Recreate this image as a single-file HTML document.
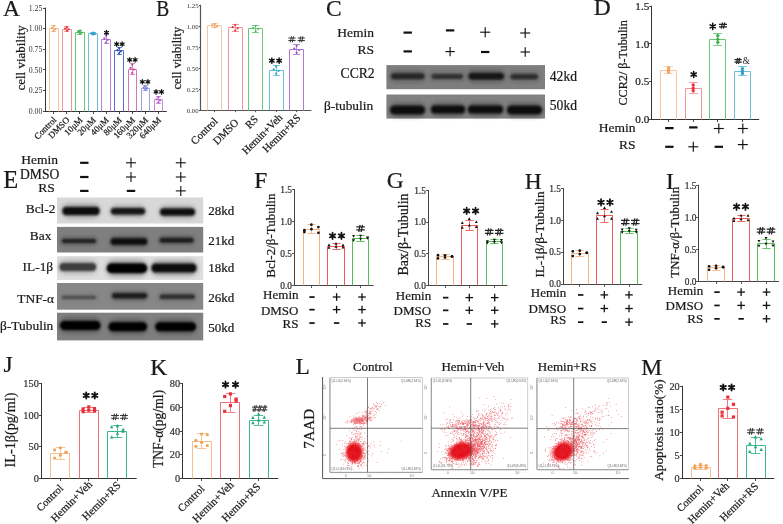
<!DOCTYPE html><html><head><meta charset="utf-8"><style>html,body{margin:0;padding:0;background:#fff;overflow:hidden;}svg{display:block;will-change:transform;} text.t{stroke:currentColor;stroke-width:0.22px;}</style></head><body>
<svg width="783" height="524" viewBox="0 0 783 524" font-family="'Liberation Serif', serif">
<defs><filter id="bl" x="-20%" y="-100%" width="140%" height="300%"><feGaussianBlur stdDeviation="1.3"/></filter><filter id="bl5" x="-20%" y="-100%" width="140%" height="300%"><feGaussianBlur stdDeviation="2"/></filter><filter id="bl3"><feGaussianBlur stdDeviation="0.6"/></filter><radialGradient id="coreg"><stop offset="0" stop-color="#e0000c"/><stop offset="0.6" stop-color="#e2060f"/><stop offset="0.8" stop-color="#ea2a30" stop-opacity="0.6"/><stop offset="1" stop-color="#ee4048" stop-opacity="0"/></radialGradient><filter id="bl4" x="-50%" y="-50%" width="200%" height="200%"><feGaussianBlur stdDeviation="1.5"/></filter></defs>
<rect width="783" height="524" fill="#fff"/>
<text class="t" x="3.05" y="15.70" font-size="23.5" text-anchor="start" fill="#1a1a1a" color="#1a1a1a">A</text>
<line x1="45.50" y1="7.60" x2="45.50" y2="112.00" stroke="#333" stroke-width="1.0"/>
<line x1="45.00" y1="111.50" x2="166.80" y2="111.50" stroke="#333" stroke-width="1.0"/>
<line x1="43.00" y1="111.50" x2="45.50" y2="111.50" stroke="#333" stroke-width="0.9"/>
<text x="42.30" y="113.75" font-size="7.8" text-anchor="end" fill="#333" color="#333">0.00</text>
<line x1="43.00" y1="90.50" x2="45.50" y2="90.50" stroke="#333" stroke-width="0.9"/>
<text x="42.30" y="93.15" font-size="7.8" text-anchor="end" fill="#333" color="#333">0.25</text>
<line x1="43.00" y1="69.50" x2="45.50" y2="69.50" stroke="#333" stroke-width="0.9"/>
<text x="42.30" y="72.55" font-size="7.8" text-anchor="end" fill="#333" color="#333">0.50</text>
<line x1="43.00" y1="49.50" x2="45.50" y2="49.50" stroke="#333" stroke-width="0.9"/>
<text x="42.30" y="51.95" font-size="7.8" text-anchor="end" fill="#333" color="#333">0.75</text>
<line x1="43.00" y1="28.50" x2="45.50" y2="28.50" stroke="#333" stroke-width="0.9"/>
<text x="42.30" y="31.35" font-size="7.8" text-anchor="end" fill="#333" color="#333">1.00</text>
<line x1="43.00" y1="8.50" x2="45.50" y2="8.50" stroke="#333" stroke-width="0.9"/>
<text x="42.30" y="10.75" font-size="7.8" text-anchor="end" fill="#333" color="#333">1.25</text>
<path d="M49.5 111.5V28.5H58.5V111.5" fill="none" stroke="#F8C6A0" stroke-width="1.0"/>
<line x1="53.50" y1="111.50" x2="53.50" y2="114.00" stroke="#333" stroke-width="0.9"/>
<line x1="53.50" y1="32.00" x2="53.50" y2="25.40" stroke="#F8C6A0" stroke-width="0.9"/>
<line x1="50.98" y1="25.50" x2="56.02" y2="25.50" stroke="#F8C6A0" stroke-width="0.9"/>
<line x1="50.98" y1="31.50" x2="56.02" y2="31.50" stroke="#F8C6A0" stroke-width="0.9"/>
<circle cx="53.80" cy="26.06" r="1.15" fill="#F3A15C"/>
<circle cx="52.12" cy="28.04" r="1.15" fill="#F3A15C"/>
<circle cx="55.48" cy="29.03" r="1.15" fill="#F3A15C"/>
<circle cx="53.80" cy="31.01" r="1.15" fill="#F3A15C"/>
<path d="M62.5 111.5V29.5H71.5V111.5" fill="none" stroke="#F29499" stroke-width="1.0"/>
<line x1="66.50" y1="111.50" x2="66.50" y2="114.00" stroke="#333" stroke-width="0.9"/>
<line x1="66.50" y1="31.58" x2="66.50" y2="26.64" stroke="#F29499" stroke-width="0.9"/>
<line x1="63.98" y1="26.50" x2="69.02" y2="26.50" stroke="#F29499" stroke-width="0.9"/>
<line x1="63.98" y1="31.50" x2="69.02" y2="31.50" stroke="#F29499" stroke-width="0.9"/>
<circle cx="66.88" cy="27.13" r="1.15" fill="#E8353F"/>
<circle cx="65.19" cy="28.62" r="1.15" fill="#E8353F"/>
<circle cx="68.56" cy="29.36" r="1.15" fill="#E8353F"/>
<circle cx="66.88" cy="30.84" r="1.15" fill="#E8353F"/>
<path d="M75.5 111.5V32.5H84.5V111.5" fill="none" stroke="#6CC878" stroke-width="1.0"/>
<line x1="79.50" y1="111.50" x2="79.50" y2="114.00" stroke="#333" stroke-width="0.9"/>
<line x1="79.50" y1="34.47" x2="79.50" y2="30.35" stroke="#6CC878" stroke-width="0.9"/>
<line x1="76.98" y1="30.50" x2="82.02" y2="30.50" stroke="#6CC878" stroke-width="0.9"/>
<line x1="76.98" y1="34.50" x2="82.02" y2="34.50" stroke="#6CC878" stroke-width="0.9"/>
<circle cx="79.95" cy="30.76" r="1.15" fill="#3CB44B"/>
<circle cx="78.27" cy="32.00" r="1.15" fill="#3CB44B"/>
<circle cx="81.63" cy="32.61" r="1.15" fill="#3CB44B"/>
<circle cx="79.95" cy="33.85" r="1.15" fill="#3CB44B"/>
<path d="M88.5 111.5V33.5H97.5V111.5" fill="none" stroke="#6CBEDA" stroke-width="1.0"/>
<line x1="93.50" y1="111.50" x2="93.50" y2="114.00" stroke="#333" stroke-width="0.9"/>
<line x1="93.50" y1="34.88" x2="93.50" y2="32.41" stroke="#6CBEDA" stroke-width="0.9"/>
<line x1="90.98" y1="32.50" x2="96.02" y2="32.50" stroke="#6CBEDA" stroke-width="0.9"/>
<line x1="90.98" y1="34.50" x2="96.02" y2="34.50" stroke="#6CBEDA" stroke-width="0.9"/>
<circle cx="93.02" cy="32.66" r="1.15" fill="#2FA3C8"/>
<circle cx="91.34" cy="33.40" r="1.15" fill="#2FA3C8"/>
<circle cx="94.70" cy="33.77" r="1.15" fill="#2FA3C8"/>
<circle cx="93.02" cy="34.51" r="1.15" fill="#2FA3C8"/>
<path d="M101.5 111.5V39.5H110.5V111.5" fill="none" stroke="#B884D3" stroke-width="1.0"/>
<line x1="106.50" y1="111.50" x2="106.50" y2="114.00" stroke="#333" stroke-width="0.9"/>
<line x1="106.50" y1="43.94" x2="106.50" y2="34.88" stroke="#B884D3" stroke-width="0.9"/>
<line x1="103.98" y1="34.50" x2="109.02" y2="34.50" stroke="#B884D3" stroke-width="0.9"/>
<line x1="103.98" y1="43.50" x2="109.02" y2="43.50" stroke="#B884D3" stroke-width="0.9"/>
<circle cx="106.10" cy="35.79" r="1.15" fill="#A45BC4"/>
<circle cx="104.42" cy="38.51" r="1.15" fill="#A45BC4"/>
<circle cx="107.78" cy="39.87" r="1.15" fill="#A45BC4"/>
<circle cx="106.10" cy="42.58" r="1.15" fill="#A45BC4"/>
<path d="M114.5 111.5V50.5H123.5V111.5" fill="none" stroke="#5A73C8" stroke-width="1.0"/>
<line x1="119.50" y1="111.50" x2="119.50" y2="114.00" stroke="#333" stroke-width="0.9"/>
<line x1="119.50" y1="54.41" x2="119.50" y2="47.49" stroke="#5A73C8" stroke-width="0.9"/>
<line x1="116.98" y1="47.50" x2="122.02" y2="47.50" stroke="#5A73C8" stroke-width="0.9"/>
<line x1="116.98" y1="54.50" x2="122.02" y2="54.50" stroke="#5A73C8" stroke-width="0.9"/>
<circle cx="119.17" cy="48.18" r="1.15" fill="#2E4FB5"/>
<circle cx="117.49" cy="50.26" r="1.15" fill="#2E4FB5"/>
<circle cx="120.86" cy="51.29" r="1.15" fill="#2E4FB5"/>
<circle cx="119.17" cy="53.37" r="1.15" fill="#2E4FB5"/>
<path d="M128.5 111.5V69.5H136.5V111.5" fill="none" stroke="#D677B8" stroke-width="1.0"/>
<line x1="132.50" y1="111.50" x2="132.50" y2="114.00" stroke="#333" stroke-width="0.9"/>
<line x1="132.50" y1="74.43" x2="132.50" y2="63.72" stroke="#D677B8" stroke-width="0.9"/>
<line x1="129.98" y1="63.50" x2="135.02" y2="63.50" stroke="#D677B8" stroke-width="0.9"/>
<line x1="129.98" y1="74.50" x2="135.02" y2="74.50" stroke="#D677B8" stroke-width="0.9"/>
<circle cx="132.25" cy="64.79" r="1.15" fill="#C8469E"/>
<circle cx="130.57" cy="68.00" r="1.15" fill="#C8469E"/>
<circle cx="133.93" cy="69.61" r="1.15" fill="#C8469E"/>
<circle cx="132.25" cy="72.83" r="1.15" fill="#C8469E"/>
<path d="M141.5 111.5V88.5H149.5V111.5" fill="none" stroke="#9DA1E2" stroke-width="1.0"/>
<line x1="145.50" y1="111.50" x2="145.50" y2="114.00" stroke="#333" stroke-width="0.9"/>
<line x1="145.50" y1="90.34" x2="145.50" y2="85.72" stroke="#9DA1E2" stroke-width="0.9"/>
<line x1="142.98" y1="85.50" x2="148.02" y2="85.50" stroke="#9DA1E2" stroke-width="0.9"/>
<line x1="142.98" y1="90.50" x2="148.02" y2="90.50" stroke="#9DA1E2" stroke-width="0.9"/>
<circle cx="145.32" cy="86.18" r="1.15" fill="#7A80D8"/>
<circle cx="143.64" cy="87.57" r="1.15" fill="#7A80D8"/>
<circle cx="147.00" cy="88.26" r="1.15" fill="#7A80D8"/>
<circle cx="145.32" cy="89.64" r="1.15" fill="#7A80D8"/>
<path d="M154.5 111.5V99.5H162.5V111.5" fill="none" stroke="#C78AD8" stroke-width="1.0"/>
<line x1="158.50" y1="111.50" x2="158.50" y2="114.00" stroke="#333" stroke-width="0.9"/>
<line x1="158.50" y1="103.44" x2="158.50" y2="96.52" stroke="#C78AD8" stroke-width="0.9"/>
<line x1="155.98" y1="96.50" x2="161.02" y2="96.50" stroke="#C78AD8" stroke-width="0.9"/>
<line x1="155.98" y1="103.50" x2="161.02" y2="103.50" stroke="#C78AD8" stroke-width="0.9"/>
<circle cx="158.40" cy="97.21" r="1.15" fill="#B15FC9"/>
<circle cx="156.72" cy="99.28" r="1.15" fill="#B15FC9"/>
<circle cx="160.08" cy="100.32" r="1.15" fill="#B15FC9"/>
<circle cx="158.40" cy="102.40" r="1.15" fill="#B15FC9"/>
<text class="t" x="25.50" y="57.90" font-size="13" text-anchor="middle" fill="#1a1a1a" color="#1a1a1a" transform="rotate(-90 25.50 57.90)">cell viability</text>
<text class="t" x="57.10" y="120.50" font-size="9" text-anchor="end" fill="#1a1a1a" color="#1a1a1a" transform="rotate(-45 57.10 120.50)">Control</text>
<text class="t" x="70.17" y="120.50" font-size="9" text-anchor="end" fill="#1a1a1a" color="#1a1a1a" transform="rotate(-45 70.17 120.50)">DMSO</text>
<text class="t" x="83.25" y="120.50" font-size="9" text-anchor="end" fill="#1a1a1a" color="#1a1a1a" transform="rotate(-45 83.25 120.50)">10μM</text>
<text class="t" x="96.32" y="120.50" font-size="9" text-anchor="end" fill="#1a1a1a" color="#1a1a1a" transform="rotate(-45 96.32 120.50)">20μM</text>
<text class="t" x="109.40" y="120.50" font-size="9" text-anchor="end" fill="#1a1a1a" color="#1a1a1a" transform="rotate(-45 109.40 120.50)">40μM</text>
<text class="t" x="122.47" y="120.50" font-size="9" text-anchor="end" fill="#1a1a1a" color="#1a1a1a" transform="rotate(-45 122.47 120.50)">80μM</text>
<text class="t" x="135.55" y="120.50" font-size="9" text-anchor="end" fill="#1a1a1a" color="#1a1a1a" transform="rotate(-45 135.55 120.50)">160μM</text>
<text class="t" x="148.62" y="120.50" font-size="9" text-anchor="end" fill="#1a1a1a" color="#1a1a1a" transform="rotate(-45 148.62 120.50)">320μM</text>
<text class="t" x="161.70" y="120.50" font-size="9" text-anchor="end" fill="#1a1a1a" color="#1a1a1a" transform="rotate(-45 161.70 120.50)">640μM</text>
<path d="M106.50 30.35L106.50 34.85M104.55 31.48L108.45 33.73M104.55 33.73L108.45 31.48" stroke="#111" stroke-width="1.25" stroke-linecap="round"/>
<path d="M116.65 41.85L116.65 46.35M114.70 42.98L118.60 45.23M114.70 45.23L118.60 42.98" stroke="#111" stroke-width="1.25" stroke-linecap="round"/>
<path d="M122.15 41.85L122.15 46.35M120.20 42.98L124.10 45.23M120.20 45.23L124.10 42.98" stroke="#111" stroke-width="1.25" stroke-linecap="round"/>
<path d="M129.65 57.55L129.65 62.05M127.70 58.67L131.60 60.92M127.70 60.92L131.60 58.67" stroke="#111" stroke-width="1.25" stroke-linecap="round"/>
<path d="M135.15 57.55L135.15 62.05M133.20 58.67L137.10 60.92M133.20 60.92L137.10 58.67" stroke="#111" stroke-width="1.25" stroke-linecap="round"/>
<path d="M142.35 79.55L142.35 84.05M140.40 80.67L144.30 82.92M140.40 82.92L144.30 80.67" stroke="#111" stroke-width="1.25" stroke-linecap="round"/>
<path d="M147.85 79.55L147.85 84.05M145.90 80.67L149.80 82.92M145.90 82.92L149.80 80.67" stroke="#111" stroke-width="1.25" stroke-linecap="round"/>
<path d="M156.05 89.65L156.05 94.15M154.10 90.78L158.00 93.03M154.10 93.03L158.00 90.78" stroke="#111" stroke-width="1.25" stroke-linecap="round"/>
<path d="M161.55 89.65L161.55 94.15M159.60 90.78L163.50 93.03M159.60 93.03L163.50 90.78" stroke="#111" stroke-width="1.25" stroke-linecap="round"/>
<text class="t" x="0.00" y="0.00" font-size="23.5" text-anchor="start" fill="#1a1a1a" color="#1a1a1a" transform="translate(156.20 15.70) scale(0.83 1)">B</text>
<line x1="200.50" y1="4.80" x2="200.50" y2="111.00" stroke="#555" stroke-width="1.2"/>
<line x1="200.00" y1="110.50" x2="311.40" y2="110.50" stroke="#555" stroke-width="1.2"/>
<line x1="198.90" y1="110.50" x2="200.50" y2="110.50" stroke="#555" stroke-width="1.08"/>
<text x="198.60" y="112.61" font-size="6.8" text-anchor="end" fill="#333" color="#333">0.00</text>
<line x1="198.90" y1="89.50" x2="200.50" y2="89.50" stroke="#555" stroke-width="1.08"/>
<text x="198.60" y="91.61" font-size="6.8" text-anchor="end" fill="#333" color="#333">0.25</text>
<line x1="198.90" y1="68.50" x2="200.50" y2="68.50" stroke="#555" stroke-width="1.08"/>
<text x="198.60" y="70.61" font-size="6.8" text-anchor="end" fill="#333" color="#333">0.50</text>
<line x1="198.90" y1="47.50" x2="200.50" y2="47.50" stroke="#555" stroke-width="1.08"/>
<text x="198.60" y="49.61" font-size="6.8" text-anchor="end" fill="#333" color="#333">0.75</text>
<line x1="198.90" y1="26.50" x2="200.50" y2="26.50" stroke="#555" stroke-width="1.08"/>
<text x="198.60" y="28.61" font-size="6.8" text-anchor="end" fill="#333" color="#333">1.00</text>
<line x1="198.90" y1="5.50" x2="200.50" y2="5.50" stroke="#555" stroke-width="1.08"/>
<text x="198.60" y="7.61" font-size="6.8" text-anchor="end" fill="#333" color="#333">1.25</text>
<path d="M207.5 110.5V25.5H221.5V110.5" fill="none" stroke="#F8C6A0" stroke-width="1.0"/>
<line x1="214.50" y1="110.50" x2="214.50" y2="112.10" stroke="#555" stroke-width="1.08"/>
<line x1="214.50" y1="27.98" x2="214.50" y2="23.78" stroke="#F8C6A0" stroke-width="0.9"/>
<line x1="211.00" y1="23.50" x2="218.00" y2="23.50" stroke="#F8C6A0" stroke-width="0.9"/>
<line x1="211.00" y1="27.50" x2="218.00" y2="27.50" stroke="#F8C6A0" stroke-width="0.9"/>
<circle cx="214.70" cy="24.20" r="1.15" fill="#F3A15C"/>
<circle cx="212.25" cy="25.46" r="1.15" fill="#F3A15C"/>
<circle cx="217.15" cy="26.09" r="1.15" fill="#F3A15C"/>
<circle cx="214.70" cy="27.35" r="1.15" fill="#F3A15C"/>
<path d="M228.5 110.5V27.5H242.5V110.5" fill="none" stroke="#F29499" stroke-width="1.0"/>
<line x1="235.50" y1="110.50" x2="235.50" y2="112.10" stroke="#555" stroke-width="1.08"/>
<line x1="235.50" y1="31.76" x2="235.50" y2="24.20" stroke="#F29499" stroke-width="0.9"/>
<line x1="232.00" y1="24.50" x2="239.00" y2="24.50" stroke="#F29499" stroke-width="0.9"/>
<line x1="232.00" y1="31.50" x2="239.00" y2="31.50" stroke="#F29499" stroke-width="0.9"/>
<circle cx="235.20" cy="24.96" r="1.15" fill="#E8353F"/>
<circle cx="232.75" cy="27.22" r="1.15" fill="#E8353F"/>
<circle cx="237.65" cy="28.36" r="1.15" fill="#E8353F"/>
<circle cx="235.20" cy="30.63" r="1.15" fill="#E8353F"/>
<path d="M248.5 110.5V28.5H262.5V110.5" fill="none" stroke="#6CC878" stroke-width="1.0"/>
<line x1="255.50" y1="110.50" x2="255.50" y2="112.10" stroke="#555" stroke-width="1.08"/>
<line x1="255.50" y1="32.60" x2="255.50" y2="25.04" stroke="#6CC878" stroke-width="0.9"/>
<line x1="252.00" y1="25.50" x2="259.00" y2="25.50" stroke="#6CC878" stroke-width="0.9"/>
<line x1="252.00" y1="32.50" x2="259.00" y2="32.50" stroke="#6CC878" stroke-width="0.9"/>
<path d="M255.70 27.18L256.96 24.88L254.44 24.88Z" fill="#3CB44B"/>
<path d="M253.25 29.44L254.51 27.14L251.99 27.14Z" fill="#3CB44B"/>
<path d="M258.15 30.58L259.41 28.28L256.88 28.28Z" fill="#3CB44B"/>
<path d="M255.70 32.85L256.96 30.55L254.44 30.55Z" fill="#3CB44B"/>
<path d="M269.5 110.5V70.5H283.5V110.5" fill="none" stroke="#6CBEDA" stroke-width="1.0"/>
<line x1="276.50" y1="110.50" x2="276.50" y2="112.10" stroke="#555" stroke-width="1.08"/>
<line x1="276.50" y1="75.02" x2="276.50" y2="65.78" stroke="#6CBEDA" stroke-width="0.9"/>
<line x1="273.00" y1="65.50" x2="280.00" y2="65.50" stroke="#6CBEDA" stroke-width="0.9"/>
<line x1="273.00" y1="75.50" x2="280.00" y2="75.50" stroke="#6CBEDA" stroke-width="0.9"/>
<circle cx="276.20" cy="66.70" r="1.15" fill="#2FA3C8"/>
<circle cx="273.75" cy="69.48" r="1.15" fill="#2FA3C8"/>
<circle cx="278.65" cy="70.86" r="1.15" fill="#2FA3C8"/>
<circle cx="276.20" cy="73.63" r="1.15" fill="#2FA3C8"/>
<path d="M289.5 110.5V49.5H303.5V110.5" fill="none" stroke="#B07AD2" stroke-width="1.0"/>
<line x1="296.50" y1="110.50" x2="296.50" y2="112.10" stroke="#555" stroke-width="1.08"/>
<line x1="296.50" y1="54.19" x2="296.50" y2="44.95" stroke="#B07AD2" stroke-width="0.9"/>
<line x1="293.00" y1="44.50" x2="300.00" y2="44.50" stroke="#B07AD2" stroke-width="0.9"/>
<line x1="293.00" y1="54.50" x2="300.00" y2="54.50" stroke="#B07AD2" stroke-width="0.9"/>
<circle cx="296.70" cy="45.87" r="1.15" fill="#9B59C4"/>
<circle cx="294.25" cy="48.64" r="1.15" fill="#9B59C4"/>
<circle cx="299.15" cy="50.03" r="1.15" fill="#9B59C4"/>
<circle cx="296.70" cy="52.80" r="1.15" fill="#9B59C4"/>
<text class="t" x="181.00" y="58.10" font-size="12.5" text-anchor="middle" fill="#1a1a1a" color="#1a1a1a" transform="rotate(-90 181.00 58.10)">cell viability</text>
<text class="t" x="218.40" y="121.80" font-size="10.8" text-anchor="end" fill="#1a1a1a" color="#1a1a1a" transform="rotate(-45 218.40 121.80)">Control</text>
<text class="t" x="239.20" y="123.30" font-size="10.8" text-anchor="end" fill="#1a1a1a" color="#1a1a1a" transform="rotate(-45 239.20 123.30)">DMSO</text>
<text class="t" x="258.80" y="119.80" font-size="10.8" text-anchor="end" fill="#1a1a1a" color="#1a1a1a" transform="rotate(-45 258.80 119.80)">RS</text>
<text class="t" x="283.10" y="118.10" font-size="10.8" text-anchor="end" fill="#1a1a1a" color="#1a1a1a" transform="rotate(-45 283.10 118.10)">Hemin+Veh</text>
<text class="t" x="301.20" y="118.60" font-size="10.8" text-anchor="end" fill="#1a1a1a" color="#1a1a1a" transform="rotate(-45 301.20 118.60)">Hemin+RS</text>
<path d="M271.85 58.00L271.85 63.40M269.51 59.35L274.19 62.05M269.51 62.05L274.19 59.35" stroke="#111" stroke-width="1.40" stroke-linecap="round"/>
<path d="M279.15 58.00L279.15 63.40M276.81 59.35L281.49 62.05M276.81 62.05L281.49 59.35" stroke="#111" stroke-width="1.40" stroke-linecap="round"/>
<path d="M288.35 38.04H295.55M288.35 40.56H295.55M291.52 36.30L290.37 42.30M293.53 36.30L292.38 42.30" stroke="#333" stroke-width="1.0" fill="none"/>
<path d="M297.65 38.04H304.85M297.65 40.56H304.85M300.82 36.30L299.67 42.30M302.83 36.30L301.68 42.30" stroke="#333" stroke-width="1.0" fill="none"/>
<text class="t" x="325.90" y="16.00" font-size="23.5" text-anchor="start" fill="#1a1a1a" color="#1a1a1a">C</text>
<text class="t" x="374.00" y="36.70" font-size="13.5" text-anchor="end" fill="#1a1a1a" color="#1a1a1a">Hemin</text>
<text class="t" x="374.00" y="53.60" font-size="13.5" text-anchor="end" fill="#1a1a1a" color="#1a1a1a">RS</text>
<rect x="403.50" y="31.50" width="8.40" height="2.2" fill="#111"/>
<rect x="403.50" y="50.30" width="8.40" height="2.2" fill="#111"/>
<rect x="445.90" y="29.30" width="8.40" height="2.2" fill="#111"/>
<line x1="445.40" y1="51.60" x2="454.80" y2="51.60" stroke="#111" stroke-width="1.15"/>
<line x1="450.10" y1="46.90" x2="450.10" y2="56.30" stroke="#111" stroke-width="1.15"/>
<line x1="480.20" y1="32.20" x2="490.20" y2="32.20" stroke="#111" stroke-width="1.15"/>
<line x1="485.20" y1="27.20" x2="485.20" y2="37.20" stroke="#111" stroke-width="1.15"/>
<rect x="481.00" y="50.90" width="8.40" height="2.2" fill="#111"/>
<line x1="520.20" y1="33.00" x2="530.20" y2="33.00" stroke="#111" stroke-width="1.15"/>
<line x1="525.20" y1="28.00" x2="525.20" y2="38.00" stroke="#111" stroke-width="1.15"/>
<line x1="520.50" y1="52.00" x2="529.90" y2="52.00" stroke="#111" stroke-width="1.15"/>
<line x1="525.20" y1="47.30" x2="525.20" y2="56.70" stroke="#111" stroke-width="1.15"/>
<rect x="386.4" y="65.1" width="158.60" height="24.10" fill="#7e7e7e"/>
<rect x="390.00" y="71.20" width="35.50" height="10.20" rx="5.10" fill="#262626" fill-opacity="0.3" filter="url(#bl5)"/>
<rect x="391.00" y="73.30" width="33.50" height="6.00" rx="3.00" fill="#262626" filter="url(#bl)"/>
<rect x="430.50" y="72.42" width="33.50" height="8.16" rx="4.08" fill="#333" fill-opacity="0.3" filter="url(#bl5)"/>
<rect x="431.50" y="74.10" width="31.50" height="4.80" rx="2.40" fill="#333" filter="url(#bl)"/>
<rect x="467.50" y="70.35" width="37.50" height="11.90" rx="5.95" fill="#181818" fill-opacity="0.3" filter="url(#bl5)"/>
<rect x="468.50" y="72.80" width="35.50" height="7.00" rx="3.50" fill="#181818" filter="url(#bl)"/>
<rect x="509.50" y="72.55" width="29.50" height="8.50" rx="4.25" fill="#2a2a2a" fill-opacity="0.3" filter="url(#bl5)"/>
<rect x="510.50" y="74.30" width="27.50" height="5.00" rx="2.50" fill="#2a2a2a" filter="url(#bl)"/>
<rect x="386.4" y="94.5" width="158.60" height="24.10" fill="#828282"/>
<rect x="389.00" y="102.78" width="37.00" height="14.45" rx="7.22" fill="#0a0a0a" fill-opacity="0.3" filter="url(#bl5)"/>
<rect x="390.00" y="105.75" width="35.00" height="8.50" rx="4.25" fill="#0a0a0a" filter="url(#bl)"/>
<rect x="430.00" y="102.70" width="36.00" height="13.60" rx="6.80" fill="#0e0e0e" fill-opacity="0.3" filter="url(#bl5)"/>
<rect x="431.00" y="105.50" width="34.00" height="8.00" rx="4.00" fill="#0e0e0e" filter="url(#bl)"/>
<rect x="467.00" y="102.70" width="37.00" height="13.60" rx="6.80" fill="#0e0e0e" fill-opacity="0.3" filter="url(#bl5)"/>
<rect x="468.00" y="105.50" width="35.00" height="8.00" rx="4.00" fill="#0e0e0e" filter="url(#bl)"/>
<rect x="506.00" y="102.78" width="37.00" height="14.45" rx="7.22" fill="#0e0e0e" fill-opacity="0.3" filter="url(#bl5)"/>
<rect x="507.00" y="105.75" width="35.00" height="8.50" rx="4.25" fill="#0e0e0e" filter="url(#bl)"/>
<text class="t" x="374.60" y="78.00" font-size="13.6" text-anchor="end" fill="#1a1a1a" color="#1a1a1a">CCR2</text>
<text class="t" x="373.20" y="109.80" font-size="13.4" text-anchor="end" fill="#1a1a1a" color="#1a1a1a">β-tubulin</text>
<text class="t" x="549.80" y="80.70" font-size="13.6" text-anchor="start" fill="#1a1a1a" color="#1a1a1a">42kd</text>
<text class="t" x="549.80" y="109.80" font-size="13.6" text-anchor="start" fill="#1a1a1a" color="#1a1a1a">50kd</text>
<text class="t" x="593.80" y="15.30" font-size="23.5" text-anchor="start" fill="#1a1a1a" color="#1a1a1a">D</text>
<line x1="651.50" y1="5.80" x2="651.50" y2="120.00" stroke="#333" stroke-width="1.0"/>
<line x1="651.00" y1="119.50" x2="759.20" y2="119.50" stroke="#333" stroke-width="1.0"/>
<line x1="649.00" y1="119.50" x2="651.50" y2="119.50" stroke="#333" stroke-width="0.9"/>
<text class="t" x="649.30" y="122.81" font-size="11.2" text-anchor="end" fill="#222" color="#222">0.0</text>
<line x1="649.00" y1="81.50" x2="651.50" y2="81.50" stroke="#333" stroke-width="0.9"/>
<text class="t" x="649.30" y="85.24" font-size="11.2" text-anchor="end" fill="#222" color="#222">0.5</text>
<line x1="649.00" y1="43.50" x2="651.50" y2="43.50" stroke="#333" stroke-width="0.9"/>
<text class="t" x="649.30" y="47.67" font-size="11.2" text-anchor="end" fill="#222" color="#222">1.0</text>
<line x1="649.00" y1="6.50" x2="651.50" y2="6.50" stroke="#333" stroke-width="0.9"/>
<text class="t" x="649.30" y="10.11" font-size="11.2" text-anchor="end" fill="#222" color="#222">1.5</text>
<path d="M660.5 119.5V70.5H676.5V119.5" fill="none" stroke="#F8C6A0" stroke-width="1.0"/>
<line x1="668.50" y1="119.50" x2="668.50" y2="122.00" stroke="#333" stroke-width="0.9"/>
<line x1="668.50" y1="73.92" x2="668.50" y2="66.41" stroke="#F8C6A0" stroke-width="0.9"/>
<line x1="664.10" y1="66.50" x2="672.90" y2="66.50" stroke="#F8C6A0" stroke-width="0.9"/>
<line x1="664.10" y1="73.50" x2="672.90" y2="73.50" stroke="#F8C6A0" stroke-width="0.9"/>
<circle cx="668.60" cy="67.91" r="1.7" fill="#F3A15C"/>
<circle cx="668.60" cy="72.04" r="1.7" fill="#F3A15C"/>
<circle cx="668.60" cy="70.16" r="1.7" fill="#F3A15C"/>
<path d="M685.5 119.5V88.5H701.5V119.5" fill="none" stroke="#F29499" stroke-width="1.0"/>
<line x1="693.50" y1="119.50" x2="693.50" y2="122.00" stroke="#333" stroke-width="0.9"/>
<line x1="693.50" y1="93.45" x2="693.50" y2="82.94" stroke="#F29499" stroke-width="0.9"/>
<line x1="689.10" y1="82.50" x2="697.90" y2="82.50" stroke="#F29499" stroke-width="0.9"/>
<line x1="689.10" y1="93.50" x2="697.90" y2="93.50" stroke="#F29499" stroke-width="0.9"/>
<circle cx="693.20" cy="85.04" r="1.7" fill="#E8353F"/>
<circle cx="693.20" cy="90.82" r="1.7" fill="#E8353F"/>
<circle cx="693.20" cy="88.20" r="1.7" fill="#E8353F"/>
<path d="M709.5 119.5V39.5H725.5V119.5" fill="none" stroke="#6CC878" stroke-width="1.0"/>
<line x1="717.50" y1="119.50" x2="717.50" y2="122.00" stroke="#333" stroke-width="0.9"/>
<line x1="717.50" y1="45.37" x2="717.50" y2="33.35" stroke="#6CC878" stroke-width="0.9"/>
<line x1="713.10" y1="33.50" x2="721.90" y2="33.50" stroke="#6CC878" stroke-width="0.9"/>
<line x1="713.10" y1="45.50" x2="721.90" y2="45.50" stroke="#6CC878" stroke-width="0.9"/>
<circle cx="717.80" cy="35.75" r="1.7" fill="#3CB44B"/>
<circle cx="717.80" cy="42.36" r="1.7" fill="#3CB44B"/>
<circle cx="717.80" cy="39.36" r="1.7" fill="#3CB44B"/>
<path d="M734.5 119.5V71.5H750.5V119.5" fill="none" stroke="#6CBEDA" stroke-width="1.0"/>
<line x1="742.50" y1="119.50" x2="742.50" y2="122.00" stroke="#333" stroke-width="0.9"/>
<line x1="742.50" y1="75.80" x2="742.50" y2="66.78" stroke="#6CBEDA" stroke-width="0.9"/>
<line x1="738.10" y1="66.50" x2="746.90" y2="66.50" stroke="#6CBEDA" stroke-width="0.9"/>
<line x1="738.10" y1="75.50" x2="746.90" y2="75.50" stroke="#6CBEDA" stroke-width="0.9"/>
<circle cx="742.40" cy="68.59" r="1.7" fill="#2FA3C8"/>
<circle cx="742.40" cy="73.54" r="1.7" fill="#2FA3C8"/>
<circle cx="742.40" cy="71.29" r="1.7" fill="#2FA3C8"/>
<text class="t" x="627.20" y="62.90" font-size="12.2" text-anchor="middle" fill="#1a1a1a" color="#1a1a1a" transform="rotate(-90 627.20 62.90)">CCR2/ β-Tubulin</text>
<path d="M693.70 71.50L693.70 77.50M691.10 73.00L696.30 76.00M691.10 76.00L696.30 73.00" stroke="#111" stroke-width="1.60" stroke-linecap="round"/>
<path d="M712.70 23.40L712.70 29.40M710.10 24.90L715.30 27.90M710.10 27.90L715.30 24.90" stroke="#111" stroke-width="1.60" stroke-linecap="round"/>
<path d="M719.00 24.30H727.00M719.00 26.90H727.00M722.52 22.50L721.24 28.70M724.76 22.50L723.48 28.70" stroke="#222" stroke-width="1.25" fill="none"/>
<path d="M734.50 59.54H741.70M734.50 62.06H741.70M737.67 57.80L736.52 63.80M739.68 57.80L738.53 63.80" stroke="#222" stroke-width="1.25" fill="none"/>
<text x="746.30" y="64.10" font-size="9.5" text-anchor="middle" fill="#2a2a2a" color="#2a2a2a">&amp;</text>
<text class="t" x="635.60" y="131.70" font-size="13.5" text-anchor="end" fill="#1a1a1a" color="#1a1a1a">Hemin</text>
<text class="t" x="635.60" y="149.40" font-size="13.5" text-anchor="end" fill="#1a1a1a" color="#1a1a1a">RS</text>
<rect x="665.20" y="127.00" width="8.40" height="2.2" fill="#111"/>
<rect x="665.20" y="145.70" width="8.40" height="2.2" fill="#111"/>
<rect x="689.10" y="126.30" width="8.40" height="2.2" fill="#111"/>
<line x1="688.30" y1="146.80" x2="698.30" y2="146.80" stroke="#111" stroke-width="1.15"/>
<line x1="693.30" y1="141.80" x2="693.30" y2="151.80" stroke="#111" stroke-width="1.15"/>
<line x1="713.80" y1="128.50" x2="723.80" y2="128.50" stroke="#111" stroke-width="1.15"/>
<line x1="718.80" y1="123.50" x2="718.80" y2="133.50" stroke="#111" stroke-width="1.15"/>
<rect x="714.60" y="145.70" width="8.40" height="2.2" fill="#111"/>
<line x1="737.80" y1="128.50" x2="747.80" y2="128.50" stroke="#111" stroke-width="1.15"/>
<line x1="742.80" y1="123.50" x2="742.80" y2="133.50" stroke="#111" stroke-width="1.15"/>
<line x1="737.80" y1="144.60" x2="747.80" y2="144.60" stroke="#111" stroke-width="1.15"/>
<line x1="742.80" y1="139.60" x2="742.80" y2="149.60" stroke="#111" stroke-width="1.15"/>
<text class="t" x="3.20" y="187.90" font-size="24.5" text-anchor="start" fill="#1a1a1a" color="#1a1a1a">E</text>
<text class="t" x="57.90" y="163.90" font-size="13.5" text-anchor="end" fill="#1a1a1a" color="#1a1a1a">Hemin</text>
<text class="t" x="59.30" y="178.70" font-size="13.6" text-anchor="end" fill="#1a1a1a" color="#1a1a1a">DMSO</text>
<text class="t" x="54.80" y="192.20" font-size="13.5" text-anchor="end" fill="#1a1a1a" color="#1a1a1a">RS</text>
<rect x="80.10" y="161.70" width="8.40" height="2.2" fill="#111"/>
<rect x="80.10" y="175.90" width="8.40" height="2.2" fill="#111"/>
<rect x="80.10" y="189.80" width="8.40" height="2.2" fill="#111"/>
<line x1="126.00" y1="162.80" x2="136.00" y2="162.80" stroke="#111" stroke-width="1.1"/>
<line x1="131.00" y1="157.80" x2="131.00" y2="167.80" stroke="#111" stroke-width="1.1"/>
<line x1="126.00" y1="177.00" x2="136.00" y2="177.00" stroke="#111" stroke-width="1.1"/>
<line x1="131.00" y1="172.00" x2="131.00" y2="182.00" stroke="#111" stroke-width="1.1"/>
<rect x="126.80" y="189.80" width="8.40" height="2.2" fill="#111"/>
<line x1="175.80" y1="162.80" x2="185.80" y2="162.80" stroke="#111" stroke-width="1.1"/>
<line x1="180.80" y1="157.80" x2="180.80" y2="167.80" stroke="#111" stroke-width="1.1"/>
<line x1="175.80" y1="177.00" x2="185.80" y2="177.00" stroke="#111" stroke-width="1.1"/>
<line x1="180.80" y1="172.00" x2="180.80" y2="182.00" stroke="#111" stroke-width="1.1"/>
<line x1="175.80" y1="190.90" x2="185.80" y2="190.90" stroke="#111" stroke-width="1.1"/>
<line x1="180.80" y1="185.90" x2="180.80" y2="195.90" stroke="#111" stroke-width="1.1"/>
<rect x="57" y="197.5" width="146.20" height="26.00" fill="#d8d8d8"/>
<rect x="61.50" y="204.10" width="39.00" height="13.60" rx="6.80" fill="#080808" fill-opacity="0.3" filter="url(#bl5)"/>
<rect x="62.50" y="206.90" width="37.00" height="8.00" rx="4.00" fill="#080808" filter="url(#bl)"/>
<rect x="110.00" y="205.78" width="36.00" height="11.05" rx="5.52" fill="#121212" fill-opacity="0.3" filter="url(#bl5)"/>
<rect x="111.00" y="208.05" width="34.00" height="6.50" rx="3.25" fill="#121212" filter="url(#bl)"/>
<rect x="159.00" y="206.05" width="37.00" height="11.90" rx="5.95" fill="#0c0c0c" fill-opacity="0.3" filter="url(#bl5)"/>
<rect x="160.00" y="208.50" width="35.00" height="7.00" rx="3.50" fill="#0c0c0c" filter="url(#bl)"/>
<rect x="57" y="226.9" width="146.20" height="25.60" fill="#7f7f7f"/>
<rect x="60.80" y="237.18" width="36.30" height="7.65" rx="3.82" fill="#222" fill-opacity="0.3" filter="url(#bl5)"/>
<rect x="61.80" y="238.75" width="34.30" height="4.50" rx="2.25" fill="#222" filter="url(#bl)"/>
<rect x="109.70" y="235.97" width="38.50" height="11.05" rx="5.52" fill="#0a0a0a" fill-opacity="0.3" filter="url(#bl5)"/>
<rect x="110.70" y="238.25" width="36.50" height="6.50" rx="3.25" fill="#0a0a0a" filter="url(#bl)"/>
<rect x="158.60" y="236.05" width="35.90" height="8.50" rx="4.25" fill="#1a1a1a" fill-opacity="0.3" filter="url(#bl5)"/>
<rect x="159.60" y="237.80" width="33.90" height="5.00" rx="2.50" fill="#1a1a1a" filter="url(#bl)"/>
<rect x="57" y="256.2" width="146.20" height="23.80" fill="#dedede"/>
<rect x="58.50" y="260.10" width="38.60" height="13.60" rx="6.80" fill="#3c3c3c" fill-opacity="0.3" filter="url(#bl5)"/>
<rect x="59.50" y="262.90" width="36.60" height="8.00" rx="4.00" fill="#3c3c3c" filter="url(#bl)"/>
<rect x="105.70" y="259.70" width="42.50" height="17.00" rx="8.50" fill="#050505" fill-opacity="0.3" filter="url(#bl5)"/>
<rect x="106.70" y="263.20" width="40.50" height="10.00" rx="5.00" fill="#050505" filter="url(#bl)"/>
<rect x="150.30" y="260.35" width="47.30" height="15.30" rx="7.65" fill="#0e0e0e" fill-opacity="0.3" filter="url(#bl5)"/>
<rect x="151.30" y="263.50" width="45.30" height="9.00" rx="4.50" fill="#0e0e0e" filter="url(#bl)"/>
<rect x="57" y="283" width="146.20" height="26.70" fill="#878787"/>
<rect x="60.80" y="294.51" width="36.20" height="5.78" rx="2.89" fill="#4e4e4e" fill-opacity="0.3" filter="url(#bl5)"/>
<rect x="61.80" y="295.70" width="34.20" height="3.40" rx="1.70" fill="#4e4e4e" filter="url(#bl)"/>
<rect x="111.00" y="291.12" width="37.20" height="9.35" rx="4.67" fill="#1a1a1a" fill-opacity="0.3" filter="url(#bl5)"/>
<rect x="112.00" y="293.05" width="35.20" height="5.50" rx="2.75" fill="#1a1a1a" filter="url(#bl)"/>
<rect x="158.60" y="292.98" width="37.40" height="7.65" rx="3.82" fill="#2e2e2e" fill-opacity="0.3" filter="url(#bl5)"/>
<rect x="159.60" y="294.55" width="35.40" height="4.50" rx="2.25" fill="#2e2e2e" filter="url(#bl)"/>
<rect x="57" y="312.7" width="146.20" height="27.70" fill="#808080"/>
<rect x="59.00" y="317.85" width="42.50" height="15.30" rx="7.65" fill="#050505" fill-opacity="0.3" filter="url(#bl5)"/>
<rect x="60.00" y="321.00" width="40.50" height="9.00" rx="4.50" fill="#050505" filter="url(#bl)"/>
<rect x="107.50" y="319.15" width="40.50" height="15.30" rx="7.65" fill="#050505" fill-opacity="0.3" filter="url(#bl5)"/>
<rect x="108.50" y="322.30" width="38.50" height="9.00" rx="4.50" fill="#050505" filter="url(#bl)"/>
<rect x="154.30" y="319.15" width="42.70" height="15.30" rx="7.65" fill="#050505" fill-opacity="0.3" filter="url(#bl5)"/>
<rect x="155.30" y="322.30" width="40.70" height="9.00" rx="4.50" fill="#050505" filter="url(#bl)"/>
<text class="t" x="55.50" y="213.40" font-size="13.4" text-anchor="end" fill="#1a1a1a" color="#1a1a1a">Bcl-2</text>
<text class="t" x="51.40" y="240.00" font-size="13.4" text-anchor="end" fill="#1a1a1a" color="#1a1a1a">Bax</text>
<text class="t" x="53.20" y="271.20" font-size="13.4" text-anchor="end" fill="#1a1a1a" color="#1a1a1a">IL-1β</text>
<text class="t" x="54.10" y="302.80" font-size="13.4" text-anchor="end" fill="#1a1a1a" color="#1a1a1a">TNF-α</text>
<text class="t" x="53.30" y="329.70" font-size="13.4" text-anchor="end" fill="#1a1a1a" color="#1a1a1a">β-Tubulin</text>
<text class="t" x="208.30" y="214.80" font-size="13" text-anchor="start" fill="#1a1a1a" color="#1a1a1a">28kd</text>
<text class="t" x="208.30" y="245.00" font-size="13" text-anchor="start" fill="#1a1a1a" color="#1a1a1a">21kd</text>
<text class="t" x="208.30" y="272.00" font-size="13" text-anchor="start" fill="#1a1a1a" color="#1a1a1a">18kd</text>
<text class="t" x="208.30" y="302.30" font-size="13" text-anchor="start" fill="#1a1a1a" color="#1a1a1a">26kd</text>
<text class="t" x="208.30" y="332.10" font-size="13" text-anchor="start" fill="#1a1a1a" color="#1a1a1a">50kd</text>
<text class="t" x="254.20" y="187.70" font-size="23.5" text-anchor="start" fill="#1a1a1a" color="#1a1a1a">F</text>
<line x1="294.50" y1="189.00" x2="294.50" y2="286.00" stroke="#444" stroke-width="1.0"/>
<line x1="294.00" y1="285.50" x2="373.60" y2="285.50" stroke="#444" stroke-width="1.0"/>
<line x1="292.00" y1="285.50" x2="294.50" y2="285.50" stroke="#444" stroke-width="0.9"/>
<text class="t" x="292.00" y="288.80" font-size="9.4" text-anchor="end" fill="#333" color="#333">0.0</text>
<line x1="292.00" y1="253.50" x2="294.50" y2="253.50" stroke="#444" stroke-width="0.9"/>
<text class="t" x="292.00" y="256.76" font-size="9.4" text-anchor="end" fill="#333" color="#333">0.5</text>
<line x1="292.00" y1="221.50" x2="294.50" y2="221.50" stroke="#444" stroke-width="0.9"/>
<text class="t" x="292.00" y="224.73" font-size="9.4" text-anchor="end" fill="#333" color="#333">1.0</text>
<line x1="292.00" y1="189.50" x2="294.50" y2="189.50" stroke="#444" stroke-width="0.9"/>
<text class="t" x="292.00" y="192.70" font-size="9.4" text-anchor="end" fill="#333" color="#333">1.5</text>
<path d="M303.5 285.5V229.5H319.5V285.5" fill="none" stroke="#F6B482" stroke-width="1.0"/>
<line x1="311.50" y1="285.50" x2="311.50" y2="288.00" stroke="#444" stroke-width="0.9"/>
<line x1="311.50" y1="233.71" x2="311.50" y2="224.74" stroke="#F6B482" stroke-width="0.9"/>
<line x1="307.38" y1="224.50" x2="315.62" y2="224.50" stroke="#F6B482" stroke-width="0.9"/>
<line x1="307.38" y1="233.50" x2="315.62" y2="233.50" stroke="#F6B482" stroke-width="0.9"/>
<path d="M327.5 285.5V246.5H344.5V285.5" fill="none" stroke="#EE5A5A" stroke-width="1.0"/>
<line x1="336.50" y1="285.50" x2="336.50" y2="288.00" stroke="#444" stroke-width="0.9"/>
<line x1="336.50" y1="249.08" x2="336.50" y2="243.96" stroke="#EE5A5A" stroke-width="0.9"/>
<line x1="332.38" y1="243.50" x2="340.62" y2="243.50" stroke="#EE5A5A" stroke-width="0.9"/>
<line x1="332.38" y1="249.50" x2="340.62" y2="249.50" stroke="#EE5A5A" stroke-width="0.9"/>
<path d="M352.5 285.5V238.5H368.5V285.5" fill="none" stroke="#55BE55" stroke-width="1.0"/>
<line x1="360.50" y1="285.50" x2="360.50" y2="288.00" stroke="#444" stroke-width="0.9"/>
<line x1="360.50" y1="241.07" x2="360.50" y2="235.31" stroke="#55BE55" stroke-width="0.9"/>
<line x1="356.38" y1="235.50" x2="364.62" y2="235.50" stroke="#55BE55" stroke-width="0.9"/>
<line x1="356.38" y1="241.50" x2="364.62" y2="241.50" stroke="#55BE55" stroke-width="0.9"/>
<circle cx="311.40" cy="224.63" r="1.35" fill="#111"/>
<circle cx="304.39" cy="230.14" r="1.35" fill="#111"/>
<circle cx="318.41" cy="227.12" r="1.35" fill="#111"/>
<circle cx="311.40" cy="229.21" r="1.35" fill="#111"/>
<circle cx="304.39" cy="232.11" r="1.35" fill="#111"/>
<circle cx="318.41" cy="232.87" r="1.35" fill="#111"/>
<path d="M336.00 242.09L337.49 244.79L334.51 244.79Z" fill="#111"/>
<path d="M328.99 243.39L330.47 246.09L327.50 246.09Z" fill="#111"/>
<path d="M343.01 243.61L344.50 246.31L341.53 246.31Z" fill="#111"/>
<path d="M336.00 244.96L337.49 247.66L334.51 247.66Z" fill="#111"/>
<path d="M328.99 245.93L330.47 248.63L327.50 248.63Z" fill="#111"/>
<path d="M343.01 245.86L344.50 248.56L341.53 248.56Z" fill="#111"/>
<path d="M360.60 237.33L362.09 234.63L359.12 234.63Z" fill="#111"/>
<path d="M353.59 237.71L355.07 235.01L352.10 235.01Z" fill="#111"/>
<path d="M367.61 239.17L369.10 236.47L366.13 236.47Z" fill="#111"/>
<path d="M360.60 240.50L362.09 237.80L359.12 237.80Z" fill="#111"/>
<path d="M353.59 242.02L355.07 239.32L352.10 239.32Z" fill="#111"/>
<path d="M367.61 239.68L369.10 236.98L366.13 236.98Z" fill="#111"/>
<text class="t" x="275.00" y="235.60" font-size="13" text-anchor="middle" fill="#1a1a1a" color="#1a1a1a" transform="rotate(-90 275.00 235.60)">Bcl-2/β-Tubulin</text>
<path d="M332.55 232.60L332.55 239.00M329.78 234.20L335.32 237.40M329.78 237.40L335.32 234.20" stroke="#111" stroke-width="1.75" stroke-linecap="round"/>
<path d="M341.45 232.60L341.45 239.00M338.68 234.20L344.22 237.40M338.68 237.40L344.22 234.20" stroke="#111" stroke-width="1.75" stroke-linecap="round"/>
<path d="M356.35 226.89H364.85M356.35 229.91H364.85M360.09 224.80L358.73 232.00M362.47 224.80L361.11 232.00" stroke="#222" stroke-width="1.25" fill="none"/>
<text class="t" x="298.50" y="299.00" font-size="13" text-anchor="end" fill="#1a1a1a" color="#1a1a1a">Hemin</text>
<text class="t" x="298.50" y="314.80" font-size="13" text-anchor="end" fill="#1a1a1a" color="#1a1a1a">DMSO</text>
<text class="t" x="298.50" y="328.00" font-size="13" text-anchor="end" fill="#1a1a1a" color="#1a1a1a">RS</text>
<rect x="309.30" y="296.20" width="5.4" height="1.7" fill="#111"/>
<rect x="309.30" y="308.80" width="5.4" height="1.7" fill="#111"/>
<rect x="309.30" y="322.20" width="5.4" height="1.7" fill="#111"/>
<line x1="332.80" y1="297.00" x2="340.40" y2="297.00" stroke="#111" stroke-width="1.3"/>
<line x1="336.60" y1="293.20" x2="336.60" y2="300.80" stroke="#111" stroke-width="1.3"/>
<line x1="332.80" y1="309.60" x2="340.40" y2="309.60" stroke="#111" stroke-width="1.3"/>
<line x1="336.60" y1="305.80" x2="336.60" y2="313.40" stroke="#111" stroke-width="1.3"/>
<rect x="333.90" y="322.20" width="5.4" height="1.7" fill="#111"/>
<line x1="358.20" y1="297.00" x2="365.80" y2="297.00" stroke="#111" stroke-width="1.3"/>
<line x1="362.00" y1="293.20" x2="362.00" y2="300.80" stroke="#111" stroke-width="1.3"/>
<line x1="358.20" y1="309.60" x2="365.80" y2="309.60" stroke="#111" stroke-width="1.3"/>
<line x1="362.00" y1="305.80" x2="362.00" y2="313.40" stroke="#111" stroke-width="1.3"/>
<line x1="358.20" y1="323.00" x2="365.80" y2="323.00" stroke="#111" stroke-width="1.3"/>
<line x1="362.00" y1="319.20" x2="362.00" y2="326.80" stroke="#111" stroke-width="1.3"/>
<text class="t" x="386.80" y="188.10" font-size="23.5" text-anchor="start" fill="#1a1a1a" color="#1a1a1a">G</text>
<line x1="428.50" y1="189.90" x2="428.50" y2="286.00" stroke="#444" stroke-width="1.0"/>
<line x1="428.00" y1="285.50" x2="507.40" y2="285.50" stroke="#444" stroke-width="1.0"/>
<line x1="426.00" y1="285.50" x2="428.50" y2="285.50" stroke="#444" stroke-width="0.9"/>
<text class="t" x="425.90" y="288.50" font-size="9.4" text-anchor="end" fill="#333" color="#333">0.0</text>
<line x1="426.00" y1="253.50" x2="428.50" y2="253.50" stroke="#444" stroke-width="0.9"/>
<text class="t" x="425.90" y="256.86" font-size="9.4" text-anchor="end" fill="#333" color="#333">0.5</text>
<line x1="426.00" y1="222.50" x2="428.50" y2="222.50" stroke="#444" stroke-width="0.9"/>
<text class="t" x="425.90" y="225.23" font-size="9.4" text-anchor="end" fill="#333" color="#333">1.0</text>
<line x1="426.00" y1="190.50" x2="428.50" y2="190.50" stroke="#444" stroke-width="0.9"/>
<text class="t" x="425.90" y="193.60" font-size="9.4" text-anchor="end" fill="#333" color="#333">1.5</text>
<path d="M436.5 285.5V256.5H453.5V285.5" fill="none" stroke="#F6B482" stroke-width="1.0"/>
<line x1="445.50" y1="285.50" x2="445.50" y2="288.00" stroke="#444" stroke-width="0.9"/>
<line x1="445.50" y1="259.04" x2="445.50" y2="254.62" stroke="#F6B482" stroke-width="0.9"/>
<line x1="441.38" y1="254.50" x2="449.62" y2="254.50" stroke="#F6B482" stroke-width="0.9"/>
<line x1="441.38" y1="259.50" x2="449.62" y2="259.50" stroke="#F6B482" stroke-width="0.9"/>
<path d="M461.5 285.5V225.5H477.5V285.5" fill="none" stroke="#EE5A5A" stroke-width="1.0"/>
<line x1="469.50" y1="285.50" x2="469.50" y2="288.00" stroke="#444" stroke-width="0.9"/>
<line x1="469.50" y1="230.26" x2="469.50" y2="220.14" stroke="#EE5A5A" stroke-width="0.9"/>
<line x1="465.38" y1="220.50" x2="473.62" y2="220.50" stroke="#EE5A5A" stroke-width="0.9"/>
<line x1="465.38" y1="230.50" x2="473.62" y2="230.50" stroke="#EE5A5A" stroke-width="0.9"/>
<path d="M486.5 285.5V241.5H502.5V285.5" fill="none" stroke="#55BE55" stroke-width="1.0"/>
<line x1="494.50" y1="285.50" x2="494.50" y2="288.00" stroke="#444" stroke-width="0.9"/>
<line x1="494.50" y1="243.54" x2="494.50" y2="239.75" stroke="#55BE55" stroke-width="0.9"/>
<line x1="490.38" y1="239.50" x2="498.62" y2="239.50" stroke="#55BE55" stroke-width="0.9"/>
<line x1="490.38" y1="243.50" x2="498.62" y2="243.50" stroke="#55BE55" stroke-width="0.9"/>
<circle cx="445.00" cy="255.27" r="1.35" fill="#111"/>
<circle cx="437.99" cy="255.21" r="1.35" fill="#111"/>
<circle cx="452.01" cy="256.33" r="1.35" fill="#111"/>
<circle cx="445.00" cy="257.52" r="1.35" fill="#111"/>
<circle cx="437.99" cy="258.44" r="1.35" fill="#111"/>
<circle cx="452.01" cy="256.59" r="1.35" fill="#111"/>
<path d="M469.30 217.36L470.79 220.06L467.81 220.06Z" fill="#111"/>
<path d="M462.29 221.36L463.77 224.06L460.80 224.06Z" fill="#111"/>
<path d="M476.31 220.39L477.80 223.09L474.83 223.09Z" fill="#111"/>
<path d="M469.30 223.71L470.79 226.41L467.81 226.41Z" fill="#111"/>
<path d="M462.29 226.07L463.77 228.77L460.80 228.77Z" fill="#111"/>
<path d="M476.31 225.22L477.80 227.92L474.83 227.92Z" fill="#111"/>
<path d="M494.40 241.38L495.88 238.68L492.91 238.68Z" fill="#111"/>
<path d="M487.39 243.04L488.87 240.34L485.90 240.34Z" fill="#111"/>
<path d="M501.41 241.68L502.90 238.98L499.93 238.98Z" fill="#111"/>
<path d="M494.40 243.69L495.88 240.99L492.91 240.99Z" fill="#111"/>
<path d="M487.39 244.53L488.87 241.83L485.90 241.83Z" fill="#111"/>
<path d="M501.41 244.20L502.90 241.50L499.93 241.50Z" fill="#111"/>
<text class="t" x="408.00" y="234.50" font-size="14" text-anchor="middle" fill="#1a1a1a" color="#1a1a1a" transform="rotate(-90 408.00 234.50)">Bax/β-Tubulin</text>
<path d="M466.65 207.70L466.65 214.10M463.88 209.30L469.42 212.50M463.88 212.50L469.42 209.30" stroke="#111" stroke-width="1.75" stroke-linecap="round"/>
<path d="M475.55 207.70L475.55 214.10M472.78 209.30L478.32 212.50M472.78 212.50L478.32 209.30" stroke="#111" stroke-width="1.75" stroke-linecap="round"/>
<path d="M484.95 230.39H493.45M484.95 233.41H493.45M488.69 228.30L487.33 235.50M491.07 228.30L489.71 235.50" stroke="#222" stroke-width="1.25" fill="none"/>
<path d="M494.95 230.39H503.45M494.95 233.41H503.45M498.69 228.30L497.33 235.50M501.07 228.30L499.71 235.50" stroke="#222" stroke-width="1.25" fill="none"/>
<text class="t" x="431.20" y="300.30" font-size="13" text-anchor="end" fill="#1a1a1a" color="#1a1a1a">Hemin</text>
<text class="t" x="431.20" y="314.80" font-size="13" text-anchor="end" fill="#1a1a1a" color="#1a1a1a">DMSO</text>
<text class="t" x="431.20" y="326.60" font-size="13" text-anchor="end" fill="#1a1a1a" color="#1a1a1a">RS</text>
<rect x="443.00" y="296.80" width="5.4" height="1.7" fill="#111"/>
<rect x="443.00" y="309.50" width="5.4" height="1.7" fill="#111"/>
<rect x="443.00" y="323.10" width="5.4" height="1.7" fill="#111"/>
<line x1="465.50" y1="297.60" x2="473.10" y2="297.60" stroke="#111" stroke-width="1.3"/>
<line x1="469.30" y1="293.80" x2="469.30" y2="301.40" stroke="#111" stroke-width="1.3"/>
<line x1="465.50" y1="310.30" x2="473.10" y2="310.30" stroke="#111" stroke-width="1.3"/>
<line x1="469.30" y1="306.50" x2="469.30" y2="314.10" stroke="#111" stroke-width="1.3"/>
<rect x="466.60" y="323.10" width="5.4" height="1.7" fill="#111"/>
<line x1="490.90" y1="297.60" x2="498.50" y2="297.60" stroke="#111" stroke-width="1.3"/>
<line x1="494.70" y1="293.80" x2="494.70" y2="301.40" stroke="#111" stroke-width="1.3"/>
<line x1="490.90" y1="310.30" x2="498.50" y2="310.30" stroke="#111" stroke-width="1.3"/>
<line x1="494.70" y1="306.50" x2="494.70" y2="314.10" stroke="#111" stroke-width="1.3"/>
<line x1="490.90" y1="323.90" x2="498.50" y2="323.90" stroke="#111" stroke-width="1.3"/>
<line x1="494.70" y1="320.10" x2="494.70" y2="327.70" stroke="#111" stroke-width="1.3"/>
<text class="t" x="524.85" y="188.70" font-size="23.5" text-anchor="start" fill="#1a1a1a" color="#1a1a1a">H</text>
<line x1="563.50" y1="188.10" x2="563.50" y2="285.00" stroke="#444" stroke-width="1.0"/>
<line x1="563.00" y1="284.50" x2="642.20" y2="284.50" stroke="#444" stroke-width="1.0"/>
<line x1="561.00" y1="284.50" x2="563.50" y2="284.50" stroke="#444" stroke-width="0.9"/>
<text class="t" x="560.90" y="287.20" font-size="9.4" text-anchor="end" fill="#333" color="#333">0.0</text>
<line x1="561.00" y1="252.50" x2="563.50" y2="252.50" stroke="#444" stroke-width="0.9"/>
<text class="t" x="560.90" y="255.40" font-size="9.4" text-anchor="end" fill="#333" color="#333">0.5</text>
<line x1="561.00" y1="220.50" x2="563.50" y2="220.50" stroke="#444" stroke-width="0.9"/>
<text class="t" x="560.90" y="223.60" font-size="9.4" text-anchor="end" fill="#333" color="#333">1.0</text>
<line x1="561.00" y1="188.50" x2="563.50" y2="188.50" stroke="#444" stroke-width="0.9"/>
<text class="t" x="560.90" y="191.80" font-size="9.4" text-anchor="end" fill="#333" color="#333">1.5</text>
<path d="M571.5 284.5V253.5H588.5V284.5" fill="none" stroke="#F6B482" stroke-width="1.0"/>
<line x1="579.50" y1="284.50" x2="579.50" y2="287.00" stroke="#444" stroke-width="0.9"/>
<line x1="579.50" y1="256.65" x2="579.50" y2="250.29" stroke="#F6B482" stroke-width="0.9"/>
<line x1="575.38" y1="250.50" x2="583.62" y2="250.50" stroke="#F6B482" stroke-width="0.9"/>
<line x1="575.38" y1="256.50" x2="583.62" y2="256.50" stroke="#F6B482" stroke-width="0.9"/>
<path d="M596.5 284.5V215.5H612.5V284.5" fill="none" stroke="#EE5A5A" stroke-width="1.0"/>
<line x1="604.50" y1="284.50" x2="604.50" y2="287.00" stroke="#444" stroke-width="0.9"/>
<line x1="604.50" y1="222.31" x2="604.50" y2="209.59" stroke="#EE5A5A" stroke-width="0.9"/>
<line x1="600.38" y1="209.50" x2="608.62" y2="209.50" stroke="#EE5A5A" stroke-width="0.9"/>
<line x1="600.38" y1="222.50" x2="608.62" y2="222.50" stroke="#EE5A5A" stroke-width="0.9"/>
<path d="M620.5 284.5V231.5H637.5V284.5" fill="none" stroke="#55BE55" stroke-width="1.0"/>
<line x1="629.50" y1="284.50" x2="629.50" y2="287.00" stroke="#444" stroke-width="0.9"/>
<line x1="629.50" y1="233.76" x2="629.50" y2="228.67" stroke="#55BE55" stroke-width="0.9"/>
<line x1="625.38" y1="228.50" x2="633.62" y2="228.50" stroke="#55BE55" stroke-width="0.9"/>
<line x1="625.38" y1="233.50" x2="633.62" y2="233.50" stroke="#55BE55" stroke-width="0.9"/>
<circle cx="579.80" cy="250.67" r="1.35" fill="#111"/>
<circle cx="572.79" cy="251.36" r="1.35" fill="#111"/>
<circle cx="586.81" cy="252.49" r="1.35" fill="#111"/>
<circle cx="579.80" cy="254.11" r="1.35" fill="#111"/>
<circle cx="572.79" cy="256.10" r="1.35" fill="#111"/>
<circle cx="586.81" cy="253.01" r="1.35" fill="#111"/>
<path d="M604.50 206.37L605.99 209.07L603.01 209.07Z" fill="#111"/>
<path d="M597.49 211.44L598.97 214.14L596.00 214.14Z" fill="#111"/>
<path d="M611.51 210.13L613.00 212.83L610.03 212.83Z" fill="#111"/>
<path d="M604.50 214.47L605.99 217.17L603.01 217.17Z" fill="#111"/>
<path d="M597.49 216.93L598.97 219.63L596.00 219.63Z" fill="#111"/>
<path d="M611.51 217.10L613.00 219.80L610.03 219.80Z" fill="#111"/>
<path d="M629.20 229.97L630.69 227.27L627.72 227.27Z" fill="#111"/>
<path d="M622.19 231.25L623.67 228.55L620.70 228.55Z" fill="#111"/>
<path d="M636.21 231.47L637.70 228.77L634.73 228.77Z" fill="#111"/>
<path d="M629.20 232.80L630.69 230.10L627.72 230.10Z" fill="#111"/>
<path d="M622.19 233.92L623.67 231.22L620.70 231.22Z" fill="#111"/>
<path d="M636.21 233.69L637.70 230.99L634.73 230.99Z" fill="#111"/>
<text class="t" x="543.50" y="234.50" font-size="13.2" text-anchor="middle" fill="#1a1a1a" color="#1a1a1a" transform="rotate(-90 543.50 234.50)">IL-1β/β-Tubulin</text>
<path d="M601.05 199.20L601.05 205.60M598.28 200.80L603.82 204.00M598.28 204.00L603.82 200.80" stroke="#111" stroke-width="1.75" stroke-linecap="round"/>
<path d="M609.95 199.20L609.95 205.60M607.18 200.80L612.72 204.00M607.18 204.00L612.72 200.80" stroke="#111" stroke-width="1.75" stroke-linecap="round"/>
<path d="M621.05 220.49H629.55M621.05 223.51H629.55M624.79 218.40L623.43 225.60M627.17 218.40L625.81 225.60" stroke="#222" stroke-width="1.25" fill="none"/>
<path d="M631.05 220.49H639.55M631.05 223.51H639.55M634.79 218.40L633.43 225.60M637.17 218.40L635.81 225.60" stroke="#222" stroke-width="1.25" fill="none"/>
<text class="t" x="566.20" y="296.70" font-size="13" text-anchor="end" fill="#1a1a1a" color="#1a1a1a">Hemin</text>
<text class="t" x="566.20" y="313.00" font-size="13" text-anchor="end" fill="#1a1a1a" color="#1a1a1a">DMSO</text>
<text class="t" x="566.20" y="324.40" font-size="13" text-anchor="end" fill="#1a1a1a" color="#1a1a1a">RS</text>
<rect x="578.00" y="294.10" width="5.4" height="1.7" fill="#111"/>
<rect x="578.00" y="307.70" width="5.4" height="1.7" fill="#111"/>
<rect x="578.00" y="321.30" width="5.4" height="1.7" fill="#111"/>
<line x1="600.50" y1="294.90" x2="608.10" y2="294.90" stroke="#111" stroke-width="1.3"/>
<line x1="604.30" y1="291.10" x2="604.30" y2="298.70" stroke="#111" stroke-width="1.3"/>
<line x1="600.50" y1="308.50" x2="608.10" y2="308.50" stroke="#111" stroke-width="1.3"/>
<line x1="604.30" y1="304.70" x2="604.30" y2="312.30" stroke="#111" stroke-width="1.3"/>
<rect x="601.60" y="321.30" width="5.4" height="1.7" fill="#111"/>
<line x1="625.20" y1="294.90" x2="632.80" y2="294.90" stroke="#111" stroke-width="1.3"/>
<line x1="629.00" y1="291.10" x2="629.00" y2="298.70" stroke="#111" stroke-width="1.3"/>
<line x1="625.20" y1="308.50" x2="632.80" y2="308.50" stroke="#111" stroke-width="1.3"/>
<line x1="629.00" y1="304.70" x2="629.00" y2="312.30" stroke="#111" stroke-width="1.3"/>
<line x1="625.20" y1="322.10" x2="632.80" y2="322.10" stroke="#111" stroke-width="1.3"/>
<line x1="629.00" y1="318.30" x2="629.00" y2="325.90" stroke="#111" stroke-width="1.3"/>
<text class="t" x="665.90" y="188.60" font-size="23.5" text-anchor="start" fill="#1a1a1a" color="#1a1a1a">I</text>
<line x1="698.50" y1="184.80" x2="698.50" y2="282.00" stroke="#444" stroke-width="1.0"/>
<line x1="698.00" y1="281.50" x2="779.00" y2="281.50" stroke="#444" stroke-width="1.0"/>
<line x1="696.00" y1="281.50" x2="698.50" y2="281.50" stroke="#444" stroke-width="0.9"/>
<text class="t" x="696.50" y="284.70" font-size="9.4" text-anchor="end" fill="#333" color="#333">0.0</text>
<line x1="696.00" y1="249.50" x2="698.50" y2="249.50" stroke="#444" stroke-width="0.9"/>
<text class="t" x="696.50" y="252.63" font-size="9.4" text-anchor="end" fill="#333" color="#333">0.5</text>
<line x1="696.00" y1="217.50" x2="698.50" y2="217.50" stroke="#444" stroke-width="0.9"/>
<text class="t" x="696.50" y="220.56" font-size="9.4" text-anchor="end" fill="#333" color="#333">1.0</text>
<line x1="696.00" y1="185.50" x2="698.50" y2="185.50" stroke="#444" stroke-width="0.9"/>
<text class="t" x="696.50" y="188.50" font-size="9.4" text-anchor="end" fill="#333" color="#333">1.5</text>
<path d="M707.5 281.5V267.5H724.5V281.5" fill="none" stroke="#F6B482" stroke-width="1.0"/>
<line x1="716.50" y1="281.50" x2="716.50" y2="284.00" stroke="#444" stroke-width="0.9"/>
<line x1="716.50" y1="270.28" x2="716.50" y2="265.15" stroke="#F6B482" stroke-width="0.9"/>
<line x1="712.38" y1="265.50" x2="720.62" y2="265.50" stroke="#F6B482" stroke-width="0.9"/>
<line x1="712.38" y1="270.50" x2="720.62" y2="270.50" stroke="#F6B482" stroke-width="0.9"/>
<path d="M732.5 281.5V218.5H749.5V281.5" fill="none" stroke="#EE5A5A" stroke-width="1.0"/>
<line x1="741.50" y1="281.50" x2="741.50" y2="284.00" stroke="#444" stroke-width="0.9"/>
<line x1="741.50" y1="221.86" x2="741.50" y2="215.44" stroke="#EE5A5A" stroke-width="0.9"/>
<line x1="737.38" y1="215.50" x2="745.62" y2="215.50" stroke="#EE5A5A" stroke-width="0.9"/>
<line x1="737.38" y1="221.50" x2="745.62" y2="221.50" stroke="#EE5A5A" stroke-width="0.9"/>
<path d="M757.5 281.5V243.5H774.5V281.5" fill="none" stroke="#55BE55" stroke-width="1.0"/>
<line x1="766.50" y1="281.50" x2="766.50" y2="284.00" stroke="#444" stroke-width="0.9"/>
<line x1="766.50" y1="248.15" x2="766.50" y2="239.17" stroke="#55BE55" stroke-width="0.9"/>
<line x1="762.38" y1="239.50" x2="770.62" y2="239.50" stroke="#55BE55" stroke-width="0.9"/>
<line x1="762.38" y1="248.50" x2="770.62" y2="248.50" stroke="#55BE55" stroke-width="0.9"/>
<circle cx="716.10" cy="265.80" r="1.35" fill="#111"/>
<circle cx="709.09" cy="266.27" r="1.35" fill="#111"/>
<circle cx="723.11" cy="266.88" r="1.35" fill="#111"/>
<circle cx="716.10" cy="268.26" r="1.35" fill="#111"/>
<circle cx="709.09" cy="269.75" r="1.35" fill="#111"/>
<circle cx="723.11" cy="267.25" r="1.35" fill="#111"/>
<path d="M741.00 213.90L742.49 216.60L739.51 216.60Z" fill="#111"/>
<path d="M733.99 216.68L735.47 219.38L732.50 219.38Z" fill="#111"/>
<path d="M748.01 214.11L749.50 216.81L746.53 216.81Z" fill="#111"/>
<path d="M741.00 217.52L742.49 220.22L739.51 220.22Z" fill="#111"/>
<path d="M733.99 219.26L735.47 221.96L732.50 221.96Z" fill="#111"/>
<path d="M748.01 218.44L749.50 221.14L746.53 221.14Z" fill="#111"/>
<path d="M766.00 239.75L767.49 237.05L764.51 237.05Z" fill="#111"/>
<path d="M758.99 242.58L760.47 239.88L757.50 239.88Z" fill="#111"/>
<path d="M773.01 243.09L774.50 240.39L771.53 240.39Z" fill="#111"/>
<path d="M766.00 245.41L767.49 242.71L764.51 242.71Z" fill="#111"/>
<path d="M758.99 247.50L760.47 244.80L757.50 244.80Z" fill="#111"/>
<path d="M773.01 247.19L774.50 244.49L771.53 244.49Z" fill="#111"/>
<text class="t" x="679.00" y="232.30" font-size="13" text-anchor="middle" fill="#1a1a1a" color="#1a1a1a" transform="rotate(-90 679.00 232.30)">TNF-α/β-Tubulin</text>
<path d="M736.55 203.50L736.55 209.90M733.78 205.10L739.32 208.30M733.78 208.30L739.32 205.10" stroke="#111" stroke-width="1.75" stroke-linecap="round"/>
<path d="M745.45 203.50L745.45 209.90M742.68 205.10L748.22 208.30M742.68 208.30L748.22 205.10" stroke="#111" stroke-width="1.75" stroke-linecap="round"/>
<path d="M756.75 229.19H765.25M756.75 232.21H765.25M760.49 227.10L759.13 234.30M762.87 227.10L761.51 234.30" stroke="#222" stroke-width="1.25" fill="none"/>
<path d="M766.75 229.19H775.25M766.75 232.21H775.25M770.49 227.10L769.13 234.30M772.87 227.10L771.51 234.30" stroke="#222" stroke-width="1.25" fill="none"/>
<text class="t" x="703.20" y="294.80" font-size="13" text-anchor="end" fill="#1a1a1a" color="#1a1a1a">Hemin</text>
<text class="t" x="703.20" y="310.00" font-size="13" text-anchor="end" fill="#1a1a1a" color="#1a1a1a">DMSO</text>
<text class="t" x="703.20" y="322.80" font-size="13" text-anchor="end" fill="#1a1a1a" color="#1a1a1a">RS</text>
<rect x="714.30" y="291.30" width="5.4" height="1.7" fill="#111"/>
<rect x="714.30" y="304.60" width="5.4" height="1.7" fill="#111"/>
<rect x="714.30" y="318.00" width="5.4" height="1.7" fill="#111"/>
<line x1="737.30" y1="292.10" x2="744.90" y2="292.10" stroke="#111" stroke-width="1.3"/>
<line x1="741.10" y1="288.30" x2="741.10" y2="295.90" stroke="#111" stroke-width="1.3"/>
<line x1="737.30" y1="305.40" x2="744.90" y2="305.40" stroke="#111" stroke-width="1.3"/>
<line x1="741.10" y1="301.60" x2="741.10" y2="309.20" stroke="#111" stroke-width="1.3"/>
<rect x="738.40" y="318.00" width="5.4" height="1.7" fill="#111"/>
<line x1="762.70" y1="292.10" x2="770.30" y2="292.10" stroke="#111" stroke-width="1.3"/>
<line x1="766.50" y1="288.30" x2="766.50" y2="295.90" stroke="#111" stroke-width="1.3"/>
<line x1="762.70" y1="305.40" x2="770.30" y2="305.40" stroke="#111" stroke-width="1.3"/>
<line x1="766.50" y1="301.60" x2="766.50" y2="309.20" stroke="#111" stroke-width="1.3"/>
<line x1="762.70" y1="318.80" x2="770.30" y2="318.80" stroke="#111" stroke-width="1.3"/>
<line x1="766.50" y1="315.00" x2="766.50" y2="322.60" stroke="#111" stroke-width="1.3"/>
<text class="t" x="3.50" y="372.00" font-size="23.5" text-anchor="start" fill="#1a1a1a" color="#1a1a1a">J</text>
<line x1="41.50" y1="383.00" x2="41.50" y2="479.00" stroke="#333" stroke-width="1.0"/>
<line x1="41.00" y1="478.50" x2="136.70" y2="478.50" stroke="#333" stroke-width="1.0"/>
<line x1="39.00" y1="478.50" x2="41.50" y2="478.50" stroke="#333" stroke-width="0.9"/>
<text class="t" x="38.80" y="481.50" font-size="10.3" text-anchor="end" fill="#333" color="#333">0</text>
<line x1="39.00" y1="446.50" x2="41.50" y2="446.50" stroke="#333" stroke-width="0.9"/>
<text class="t" x="38.80" y="450.00" font-size="10.3" text-anchor="end" fill="#333" color="#333">50</text>
<line x1="39.00" y1="415.50" x2="41.50" y2="415.50" stroke="#333" stroke-width="0.9"/>
<text class="t" x="38.80" y="418.50" font-size="10.3" text-anchor="end" fill="#333" color="#333">100</text>
<line x1="39.00" y1="383.50" x2="41.50" y2="383.50" stroke="#333" stroke-width="0.9"/>
<text class="t" x="38.80" y="387.00" font-size="10.3" text-anchor="end" fill="#333" color="#333">150</text>
<path d="M50.5 478.5V453.5H69.5V478.5" fill="none" stroke="#F6C08C" stroke-width="1.0"/>
<line x1="60.50" y1="478.50" x2="60.50" y2="481.00" stroke="#333" stroke-width="0.9"/>
<line x1="60.50" y1="459.10" x2="60.50" y2="447.76" stroke="#F6C08C" stroke-width="0.9"/>
<line x1="55.75" y1="447.50" x2="65.25" y2="447.50" stroke="#F6C08C" stroke-width="0.9"/>
<line x1="55.75" y1="459.50" x2="65.25" y2="459.50" stroke="#F6C08C" stroke-width="0.9"/>
<path d="M79.5 478.5V410.5H98.5V478.5" fill="none" stroke="#EE7078" stroke-width="1.0"/>
<line x1="88.50" y1="478.50" x2="88.50" y2="481.00" stroke="#333" stroke-width="0.9"/>
<line x1="88.50" y1="412.80" x2="88.50" y2="407.75" stroke="#EE7078" stroke-width="0.9"/>
<line x1="83.75" y1="407.50" x2="93.25" y2="407.50" stroke="#EE7078" stroke-width="0.9"/>
<line x1="83.75" y1="412.50" x2="93.25" y2="412.50" stroke="#EE7078" stroke-width="0.9"/>
<path d="M107.5 478.5V431.5H126.5V478.5" fill="none" stroke="#3DB88E" stroke-width="1.0"/>
<line x1="117.50" y1="478.50" x2="117.50" y2="481.00" stroke="#333" stroke-width="0.9"/>
<line x1="117.50" y1="438.00" x2="117.50" y2="425.39" stroke="#3DB88E" stroke-width="0.9"/>
<line x1="112.75" y1="425.50" x2="122.25" y2="425.50" stroke="#3DB88E" stroke-width="0.9"/>
<line x1="112.75" y1="437.50" x2="122.25" y2="437.50" stroke="#3DB88E" stroke-width="0.9"/>
<circle cx="60.30" cy="447.84" r="1.6" fill="#F0A55A"/>
<circle cx="54.60" cy="449.97" r="1.6" fill="#F0A55A"/>
<circle cx="66.00" cy="452.01" r="1.6" fill="#F0A55A"/>
<circle cx="60.30" cy="455.14" r="1.6" fill="#F0A55A"/>
<circle cx="54.60" cy="458.06" r="1.6" fill="#F0A55A"/>
<circle cx="66.00" cy="452.23" r="1.6" fill="#F0A55A"/>
<rect x="87.20" y="405.27" width="3.2" height="3.2" fill="#E8303A"/>
<rect x="81.50" y="407.34" width="3.2" height="3.2" fill="#E8303A"/>
<rect x="92.90" y="407.01" width="3.2" height="3.2" fill="#E8303A"/>
<rect x="87.20" y="408.55" width="3.2" height="3.2" fill="#E8303A"/>
<rect x="81.50" y="410.08" width="3.2" height="3.2" fill="#E8303A"/>
<rect x="92.90" y="409.57" width="3.2" height="3.2" fill="#E8303A"/>
<path d="M117.40 423.97L119.16 427.17L115.64 427.17Z" fill="#22A87A"/>
<path d="M111.70 425.11L113.46 428.31L109.94 428.31Z" fill="#22A87A"/>
<path d="M123.10 427.63L124.86 430.83L121.34 430.83Z" fill="#22A87A"/>
<path d="M117.40 431.63L119.16 434.83L115.64 434.83Z" fill="#22A87A"/>
<path d="M111.70 435.36L113.46 438.56L109.94 438.56Z" fill="#22A87A"/>
<path d="M123.10 429.60L124.86 432.80L121.34 432.80Z" fill="#22A87A"/>
<text class="t" x="14.50" y="430.00" font-size="14.2" text-anchor="middle" fill="#1a1a1a" color="#1a1a1a" transform="rotate(-90 14.50 430.00)">IL-1β(pg/ml)</text>
<text class="t" x="63.80" y="488.90" font-size="10.7" text-anchor="end" fill="#1a1a1a" color="#1a1a1a" transform="rotate(-45 63.80 488.90)">Control</text>
<text class="t" x="92.80" y="485.00" font-size="11" text-anchor="end" fill="#1a1a1a" color="#1a1a1a" transform="rotate(-45 92.80 485.00)">Hemin+Veh</text>
<text class="t" x="121.40" y="486.00" font-size="11" text-anchor="end" fill="#1a1a1a" color="#1a1a1a" transform="rotate(-45 121.40 486.00)">Hemin+RS</text>
<path d="M86.25 392.30L86.25 398.50M83.57 393.85L88.93 396.95M83.57 396.95L88.93 393.85" stroke="#111" stroke-width="1.80" stroke-linecap="round"/>
<path d="M94.75 392.30L94.75 398.50M92.07 393.85L97.43 396.95M92.07 396.95L97.43 393.85" stroke="#111" stroke-width="1.80" stroke-linecap="round"/>
<path d="M111.10 415.44H118.90M111.10 418.17H118.90M114.53 413.55L113.28 420.05M116.72 413.55L115.47 420.05" stroke="#333" stroke-width="1.05" fill="none"/>
<path d="M120.10 415.44H127.90M120.10 418.17H127.90M123.53 413.55L122.28 420.05M125.72 413.55L124.47 420.05" stroke="#333" stroke-width="1.05" fill="none"/>
<text class="t" x="150.20" y="374.50" font-size="23.5" text-anchor="start" fill="#1a1a1a" color="#1a1a1a">K</text>
<line x1="182.50" y1="383.00" x2="182.50" y2="479.00" stroke="#333" stroke-width="1.0"/>
<line x1="182.00" y1="478.50" x2="278.20" y2="478.50" stroke="#333" stroke-width="1.0"/>
<line x1="180.00" y1="478.50" x2="182.50" y2="478.50" stroke="#333" stroke-width="0.9"/>
<text class="t" x="180.10" y="482.00" font-size="10.3" text-anchor="end" fill="#333" color="#333">0</text>
<line x1="180.00" y1="454.50" x2="182.50" y2="454.50" stroke="#333" stroke-width="0.9"/>
<text class="t" x="180.10" y="458.25" font-size="10.3" text-anchor="end" fill="#333" color="#333">20</text>
<line x1="180.00" y1="431.50" x2="182.50" y2="431.50" stroke="#333" stroke-width="0.9"/>
<text class="t" x="180.10" y="434.50" font-size="10.3" text-anchor="end" fill="#333" color="#333">40</text>
<line x1="180.00" y1="407.50" x2="182.50" y2="407.50" stroke="#333" stroke-width="0.9"/>
<text class="t" x="180.10" y="410.75" font-size="10.3" text-anchor="end" fill="#333" color="#333">60</text>
<line x1="180.00" y1="383.50" x2="182.50" y2="383.50" stroke="#333" stroke-width="0.9"/>
<text class="t" x="180.10" y="387.00" font-size="10.3" text-anchor="end" fill="#333" color="#333">80</text>
<path d="M192.5 478.5V441.5H211.5V478.5" fill="none" stroke="#F6C08C" stroke-width="1.0"/>
<line x1="201.50" y1="478.50" x2="201.50" y2="481.00" stroke="#333" stroke-width="0.9"/>
<line x1="201.50" y1="448.22" x2="201.50" y2="433.97" stroke="#F6C08C" stroke-width="0.9"/>
<line x1="196.75" y1="433.50" x2="206.25" y2="433.50" stroke="#F6C08C" stroke-width="0.9"/>
<line x1="196.75" y1="448.50" x2="206.25" y2="448.50" stroke="#F6C08C" stroke-width="0.9"/>
<path d="M220.5 478.5V402.5H239.5V478.5" fill="none" stroke="#EE7078" stroke-width="1.0"/>
<line x1="230.50" y1="478.50" x2="230.50" y2="481.00" stroke="#333" stroke-width="0.9"/>
<line x1="230.50" y1="412.00" x2="230.50" y2="393.00" stroke="#EE7078" stroke-width="0.9"/>
<line x1="225.75" y1="393.50" x2="235.25" y2="393.50" stroke="#EE7078" stroke-width="0.9"/>
<line x1="225.75" y1="412.50" x2="235.25" y2="412.50" stroke="#EE7078" stroke-width="0.9"/>
<path d="M249.5 478.5V420.5H268.5V478.5" fill="none" stroke="#3DB88E" stroke-width="1.0"/>
<line x1="258.50" y1="478.50" x2="258.50" y2="481.00" stroke="#333" stroke-width="0.9"/>
<line x1="258.50" y1="425.06" x2="258.50" y2="415.56" stroke="#3DB88E" stroke-width="0.9"/>
<line x1="253.75" y1="415.50" x2="263.25" y2="415.50" stroke="#3DB88E" stroke-width="0.9"/>
<line x1="253.75" y1="425.50" x2="263.25" y2="425.50" stroke="#3DB88E" stroke-width="0.9"/>
<circle cx="201.60" cy="433.98" r="1.6" fill="#F0A55A"/>
<circle cx="195.90" cy="440.31" r="1.6" fill="#F0A55A"/>
<circle cx="207.30" cy="434.71" r="1.6" fill="#F0A55A"/>
<circle cx="201.60" cy="442.46" r="1.6" fill="#F0A55A"/>
<circle cx="195.90" cy="446.33" r="1.6" fill="#F0A55A"/>
<circle cx="207.30" cy="445.55" r="1.6" fill="#F0A55A"/>
<rect x="228.80" y="392.29" width="3.2" height="3.2" fill="#E8303A"/>
<rect x="223.10" y="394.92" width="3.2" height="3.2" fill="#E8303A"/>
<rect x="234.50" y="397.50" width="3.2" height="3.2" fill="#E8303A"/>
<rect x="228.80" y="404.00" width="3.2" height="3.2" fill="#E8303A"/>
<rect x="223.10" y="409.72" width="3.2" height="3.2" fill="#E8303A"/>
<rect x="234.50" y="399.02" width="3.2" height="3.2" fill="#E8303A"/>
<path d="M258.60 412.34L260.36 415.54L256.84 415.54Z" fill="#22A87A"/>
<path d="M252.90 415.71L254.66 418.91L251.14 418.91Z" fill="#22A87A"/>
<path d="M264.30 415.48L266.06 418.68L262.54 418.68Z" fill="#22A87A"/>
<path d="M258.60 418.41L260.36 421.61L256.84 421.61Z" fill="#22A87A"/>
<path d="M252.90 420.99L254.66 424.19L251.14 424.19Z" fill="#22A87A"/>
<path d="M264.30 420.24L266.06 423.44L262.54 423.44Z" fill="#22A87A"/>
<text class="t" x="163.20" y="429.00" font-size="13.6" text-anchor="middle" fill="#1a1a1a" color="#1a1a1a" transform="rotate(-90 163.20 429.00)">TNF-α(pg/ml)</text>
<text class="t" x="205.10" y="489.40" font-size="10.7" text-anchor="end" fill="#1a1a1a" color="#1a1a1a" transform="rotate(-45 205.10 489.40)">Control</text>
<text class="t" x="234.40" y="485.50" font-size="11" text-anchor="end" fill="#1a1a1a" color="#1a1a1a" transform="rotate(-45 234.40 485.50)">Hemin+Veh</text>
<text class="t" x="261.10" y="487.50" font-size="11" text-anchor="end" fill="#1a1a1a" color="#1a1a1a" transform="rotate(-45 261.10 487.50)">Hemin+RS</text>
<path d="M225.50 381.50L225.50 387.70M222.82 383.05L228.18 386.15M222.82 386.15L228.18 383.05" stroke="#111" stroke-width="1.80" stroke-linecap="round"/>
<path d="M235.50 381.50L235.50 387.70M232.82 383.05L238.18 386.15M232.82 386.15L238.18 383.05" stroke="#111" stroke-width="1.80" stroke-linecap="round"/>
<path d="M252.10 407.13H257.70M252.10 409.87H257.70M254.96 405.25L253.28 411.75M256.52 405.25L254.84 411.75" stroke="#333" stroke-width="1.0" fill="none"/>
<path d="M256.90 407.13H262.50M256.90 409.87H262.50M259.76 405.25L258.08 411.75M261.32 405.25L259.64 411.75" stroke="#333" stroke-width="1.0" fill="none"/>
<path d="M261.70 407.13H267.30M261.70 409.87H267.30M264.56 405.25L262.88 411.75M266.12 405.25L264.44 411.75" stroke="#333" stroke-width="1.0" fill="none"/>
<text class="t" x="641.20" y="374.60" font-size="23.5" text-anchor="start" fill="#1a1a1a" color="#1a1a1a">M</text>
<line x1="682.50" y1="385.80" x2="682.50" y2="479.00" stroke="#333" stroke-width="1.0"/>
<line x1="682.00" y1="478.50" x2="774.20" y2="478.50" stroke="#333" stroke-width="1.0"/>
<line x1="680.00" y1="478.50" x2="682.50" y2="478.50" stroke="#333" stroke-width="0.9"/>
<text class="t" x="679.70" y="482.00" font-size="10.3" text-anchor="end" fill="#333" color="#333">0</text>
<line x1="680.00" y1="455.50" x2="682.50" y2="455.50" stroke="#333" stroke-width="0.9"/>
<text class="t" x="679.70" y="458.95" font-size="10.3" text-anchor="end" fill="#333" color="#333">5</text>
<line x1="680.00" y1="432.50" x2="682.50" y2="432.50" stroke="#333" stroke-width="0.9"/>
<text class="t" x="679.70" y="435.90" font-size="10.3" text-anchor="end" fill="#333" color="#333">10</text>
<line x1="680.00" y1="409.50" x2="682.50" y2="409.50" stroke="#333" stroke-width="0.9"/>
<text class="t" x="679.70" y="412.85" font-size="10.3" text-anchor="end" fill="#333" color="#333">15</text>
<line x1="680.00" y1="386.50" x2="682.50" y2="386.50" stroke="#333" stroke-width="0.9"/>
<text class="t" x="679.70" y="389.80" font-size="10.3" text-anchor="end" fill="#333" color="#333">20</text>
<path d="M691.5 478.5V467.5H710.5V478.5" fill="none" stroke="#F6C08C" stroke-width="1.0"/>
<line x1="700.50" y1="478.50" x2="700.50" y2="481.00" stroke="#333" stroke-width="0.9"/>
<line x1="700.50" y1="469.74" x2="700.50" y2="465.13" stroke="#F6C08C" stroke-width="0.9"/>
<line x1="695.75" y1="465.50" x2="705.25" y2="465.50" stroke="#F6C08C" stroke-width="0.9"/>
<line x1="695.75" y1="469.50" x2="705.25" y2="469.50" stroke="#F6C08C" stroke-width="0.9"/>
<path d="M718.5 478.5V408.5H737.5V478.5" fill="none" stroke="#EE7078" stroke-width="1.0"/>
<line x1="727.50" y1="478.50" x2="727.50" y2="481.00" stroke="#333" stroke-width="0.9"/>
<line x1="727.50" y1="418.11" x2="727.50" y2="399.67" stroke="#EE7078" stroke-width="0.9"/>
<line x1="722.75" y1="399.50" x2="732.25" y2="399.50" stroke="#EE7078" stroke-width="0.9"/>
<line x1="722.75" y1="418.50" x2="732.25" y2="418.50" stroke="#EE7078" stroke-width="0.9"/>
<path d="M746.5 478.5V445.5H765.5V478.5" fill="none" stroke="#3DB88E" stroke-width="1.0"/>
<line x1="755.50" y1="478.50" x2="755.50" y2="481.00" stroke="#333" stroke-width="0.9"/>
<line x1="755.50" y1="453.14" x2="755.50" y2="437.47" stroke="#3DB88E" stroke-width="0.9"/>
<line x1="750.75" y1="437.50" x2="760.25" y2="437.50" stroke="#3DB88E" stroke-width="0.9"/>
<line x1="750.75" y1="453.50" x2="760.25" y2="453.50" stroke="#3DB88E" stroke-width="0.9"/>
<circle cx="700.50" cy="464.40" r="1.6" fill="#F0A55A"/>
<circle cx="694.80" cy="465.92" r="1.6" fill="#F0A55A"/>
<circle cx="706.20" cy="465.69" r="1.6" fill="#F0A55A"/>
<circle cx="700.50" cy="467.25" r="1.6" fill="#F0A55A"/>
<circle cx="694.80" cy="468.34" r="1.6" fill="#F0A55A"/>
<circle cx="706.20" cy="468.18" r="1.6" fill="#F0A55A"/>
<rect x="726.20" y="395.52" width="3.2" height="3.2" fill="#E8303A"/>
<rect x="720.50" y="410.60" width="3.2" height="3.2" fill="#E8303A"/>
<rect x="731.90" y="402.72" width="3.2" height="3.2" fill="#E8303A"/>
<rect x="726.20" y="406.72" width="3.2" height="3.2" fill="#E8303A"/>
<rect x="720.50" y="414.27" width="3.2" height="3.2" fill="#E8303A"/>
<rect x="731.90" y="415.43" width="3.2" height="3.2" fill="#E8303A"/>
<path d="M755.50 435.33L757.26 438.53L753.74 438.53Z" fill="#22A87A"/>
<path d="M749.80 441.67L751.56 444.87L748.04 444.87Z" fill="#22A87A"/>
<path d="M761.20 437.08L762.96 440.28L759.44 440.28Z" fill="#22A87A"/>
<path d="M755.50 445.06L757.26 448.26L753.74 448.26Z" fill="#22A87A"/>
<path d="M749.80 449.86L751.56 453.06L748.04 453.06Z" fill="#22A87A"/>
<path d="M761.20 447.70L762.96 450.90L759.44 450.90Z" fill="#22A87A"/>
<text class="t" x="662.50" y="430.00" font-size="13.3" text-anchor="middle" fill="#1a1a1a" color="#1a1a1a" transform="rotate(-90 662.50 430.00)">Apoptosis ratio(%)</text>
<text class="t" x="704.00" y="489.40" font-size="10.7" text-anchor="end" fill="#1a1a1a" color="#1a1a1a" transform="rotate(-45 704.00 489.40)">Control</text>
<text class="t" x="729.80" y="486.50" font-size="11" text-anchor="end" fill="#1a1a1a" color="#1a1a1a" transform="rotate(-45 729.80 486.50)">Hemin+Veh</text>
<text class="t" x="759.00" y="487.00" font-size="11" text-anchor="end" fill="#1a1a1a" color="#1a1a1a" transform="rotate(-45 759.00 487.00)">Hemin+RS</text>
<path d="M723.20 384.30L723.20 390.50M720.52 385.85L725.88 388.95M720.52 388.95L725.88 385.85" stroke="#111" stroke-width="1.80" stroke-linecap="round"/>
<path d="M731.60 384.30L731.60 390.50M728.92 385.85L734.28 388.95M728.92 388.95L734.28 385.85" stroke="#111" stroke-width="1.80" stroke-linecap="round"/>
<path d="M747.10 429.94H754.90M747.10 432.67H754.90M750.53 428.05L749.28 434.55M752.72 428.05L751.47 434.55" stroke="#333" stroke-width="1.05" fill="none"/>
<path d="M756.10 429.94H763.90M756.10 432.67H763.90M759.53 428.05L758.28 434.55M761.72 428.05L760.47 434.55" stroke="#333" stroke-width="1.05" fill="none"/>
<text class="t" x="295.50" y="374.30" font-size="23.5" text-anchor="start" fill="#1a1a1a" color="#1a1a1a">L</text>
<text class="t" x="372.80" y="371.10" font-size="13" text-anchor="middle" fill="#1a1a1a" color="#1a1a1a">Control</text>
<text class="t" x="472.90" y="371.10" font-size="13" text-anchor="middle" fill="#1a1a1a" color="#1a1a1a">Hemin+Veh</text>
<text class="t" x="567.10" y="371.10" font-size="13" text-anchor="middle" fill="#1a1a1a" color="#1a1a1a">Hemin+RS</text>
<text class="t" x="314.00" y="428.80" font-size="15" text-anchor="middle" fill="#1a1a1a" color="#1a1a1a" transform="rotate(-90 314.00 428.80)">7AAD</text>
<text class="t" x="469.40" y="496.80" font-size="13" text-anchor="middle" fill="#1a1a1a" color="#1a1a1a">Annexin V/PE</text>
<line x1="322.60" y1="377.00" x2="322.60" y2="478.60" stroke="#555" stroke-width="1"/>
<line x1="322.60" y1="478.60" x2="629.00" y2="478.60" stroke="#555" stroke-width="1"/>
<rect x="330" y="377.7" width="92.30" height="94.60" fill="none" stroke="#aaa" stroke-width="0.6"/>
<path d="M329.0 380.1h1M329.0 382.4h1M329.0 384.8h1M329.0 387.2h1M329.0 389.5h1M329.0 391.9h1M329.0 394.3h1M329.0 396.6h1M329.0 399.0h1M329.0 401.4h1M329.0 403.7h1M329.0 406.1h1M329.0 408.4h1M329.0 410.8h1M329.0 413.2h1M329.0 415.5h1M329.0 417.9h1M329.0 420.3h1M329.0 422.6h1M329.0 425.0h1M329.0 427.4h1M329.0 429.7h1M329.0 432.1h1M329.0 434.5h1M329.0 436.8h1M329.0 439.2h1M329.0 441.6h1M329.0 443.9h1M329.0 446.3h1M329.0 448.6h1M329.0 451.0h1M329.0 453.4h1M329.0 455.7h1M329.0 458.1h1M329.0 460.5h1M329.0 462.8h1M329.0 465.2h1M329.0 467.6h1M329.0 469.9h1M332.3 472.3v1M334.6 472.3v1M336.9 472.3v1M339.2 472.3v1M341.5 472.3v1M343.8 472.3v1M346.2 472.3v1M348.5 472.3v1M350.8 472.3v1M353.1 472.3v1M355.4 472.3v1M357.7 472.3v1M360.0 472.3v1M362.3 472.3v1M364.6 472.3v1M366.9 472.3v1M369.2 472.3v1M371.5 472.3v1M373.8 472.3v1M376.1 472.3v1M378.5 472.3v1M380.8 472.3v1M383.1 472.3v1M385.4 472.3v1M387.7 472.3v1M390.0 472.3v1M392.3 472.3v1M394.6 472.3v1M396.9 472.3v1M399.2 472.3v1M401.5 472.3v1M403.8 472.3v1M406.1 472.3v1M408.5 472.3v1M410.8 472.3v1M413.1 472.3v1M415.4 472.3v1M417.7 472.3v1M420.0 472.3v1" stroke="#888" stroke-width="0.4"/>
<line x1="330.00" y1="377.70" x2="330.00" y2="472.30" stroke="#888" stroke-width="0.7"/>
<line x1="330.00" y1="472.30" x2="422.30" y2="472.30" stroke="#888" stroke-width="0.7"/>
<ellipse cx="354.3" cy="452.3" rx="10" ry="11.5" fill="url(#coreg)" transform="rotate(0 354.3 452.3)"/>
<path d="M362.6 462.1h.75v.75h-.75zM357.9 454.4h.75v.75h-.75zM352.6 448.7h.75v.75h-.75zM351.8 461.9h.75v.75h-.75zM357.0 447.3h.75v.75h-.75zM350.4 458.4h.75v.75h-.75zM349.2 448.5h.75v.75h-.75zM356.9 455.5h.75v.75h-.75zM367.8 445.9h.75v.75h-.75zM352.9 446.7h.75v.75h-.75zM351.2 458.8h.75v.75h-.75zM347.9 452.8h.75v.75h-.75zM347.0 451.7h.75v.75h-.75zM357.2 449.8h.75v.75h-.75zM359.0 455.7h.75v.75h-.75zM354.4 443.3h.75v.75h-.75zM356.1 445.3h.75v.75h-.75zM354.9 451.4h.75v.75h-.75zM355.1 447.0h.75v.75h-.75zM345.9 446.8h.75v.75h-.75zM351.8 451.5h.75v.75h-.75zM354.9 451.5h.75v.75h-.75zM350.0 450.4h.75v.75h-.75zM351.7 462.8h.75v.75h-.75zM349.8 458.3h.75v.75h-.75zM352.5 460.0h.75v.75h-.75zM359.0 452.7h.75v.75h-.75zM352.1 448.8h.75v.75h-.75zM353.5 442.8h.75v.75h-.75zM358.8 450.6h.75v.75h-.75zM357.8 439.2h.75v.75h-.75zM363.6 449.6h.75v.75h-.75zM342.8 455.9h.75v.75h-.75zM359.0 463.3h.75v.75h-.75zM351.6 458.2h.75v.75h-.75zM355.0 446.8h.75v.75h-.75zM358.9 456.0h.75v.75h-.75zM360.3 447.9h.75v.75h-.75zM360.0 458.3h.75v.75h-.75zM355.2 451.7h.75v.75h-.75zM363.2 458.9h.75v.75h-.75zM352.7 468.8h.75v.75h-.75zM353.5 458.2h.75v.75h-.75zM358.7 467.9h.75v.75h-.75zM351.3 453.1h.75v.75h-.75zM366.2 451.6h.75v.75h-.75zM359.9 461.6h.75v.75h-.75zM366.3 464.9h.75v.75h-.75zM354.2 448.7h.75v.75h-.75zM352.2 452.5h.75v.75h-.75zM355.2 443.1h.75v.75h-.75zM358.3 451.5h.75v.75h-.75zM351.1 457.7h.75v.75h-.75zM356.4 452.0h.75v.75h-.75zM354.2 448.6h.75v.75h-.75zM363.2 444.2h.75v.75h-.75zM350.7 454.3h.75v.75h-.75zM360.1 458.1h.75v.75h-.75zM350.8 455.7h.75v.75h-.75zM349.0 453.3h.75v.75h-.75zM350.4 443.6h.75v.75h-.75zM347.8 462.9h.75v.75h-.75zM355.1 452.0h.75v.75h-.75zM360.0 452.0h.75v.75h-.75zM355.2 457.1h.75v.75h-.75zM357.7 438.7h.75v.75h-.75zM363.3 452.9h.75v.75h-.75zM355.8 451.6h.75v.75h-.75zM355.4 454.8h.75v.75h-.75zM352.8 460.8h.75v.75h-.75zM345.5 454.3h.75v.75h-.75zM358.5 440.9h.75v.75h-.75zM344.6 449.0h.75v.75h-.75zM357.9 454.1h.75v.75h-.75zM354.2 453.2h.75v.75h-.75zM360.5 444.7h.75v.75h-.75zM353.9 441.5h.75v.75h-.75zM349.8 455.3h.75v.75h-.75zM356.3 454.8h.75v.75h-.75zM351.2 451.8h.75v.75h-.75zM353.3 441.0h.75v.75h-.75zM354.5 463.8h.75v.75h-.75zM353.6 433.5h.75v.75h-.75zM353.3 449.8h.75v.75h-.75zM349.7 465.3h.75v.75h-.75zM353.3 451.2h.75v.75h-.75zM342.5 452.4h.75v.75h-.75zM353.4 444.6h.75v.75h-.75zM347.7 460.3h.75v.75h-.75zM360.5 444.7h.75v.75h-.75zM361.3 454.8h.75v.75h-.75zM343.6 451.9h.75v.75h-.75zM355.1 445.6h.75v.75h-.75zM353.6 458.0h.75v.75h-.75zM348.5 442.5h.75v.75h-.75zM357.2 448.2h.75v.75h-.75zM351.8 451.8h.75v.75h-.75zM344.6 448.5h.75v.75h-.75zM352.8 455.2h.75v.75h-.75zM353.5 458.2h.75v.75h-.75zM354.9 450.5h.75v.75h-.75zM347.5 448.0h.75v.75h-.75zM357.7 449.4h.75v.75h-.75zM358.3 450.4h.75v.75h-.75zM348.0 456.8h.75v.75h-.75zM350.7 450.5h.75v.75h-.75zM353.9 454.9h.75v.75h-.75zM351.2 451.3h.75v.75h-.75zM363.9 448.0h.75v.75h-.75zM355.4 458.0h.75v.75h-.75zM348.7 444.9h.75v.75h-.75zM350.0 451.8h.75v.75h-.75zM354.0 461.9h.75v.75h-.75zM366.9 446.7h.75v.75h-.75zM353.3 451.8h.75v.75h-.75zM355.0 442.1h.75v.75h-.75zM357.1 449.3h.75v.75h-.75zM354.1 442.6h.75v.75h-.75zM366.8 451.4h.75v.75h-.75zM351.4 448.5h.75v.75h-.75zM358.4 453.6h.75v.75h-.75zM355.2 462.7h.75v.75h-.75zM357.7 454.5h.75v.75h-.75zM347.8 455.8h.75v.75h-.75zM364.0 453.1h.75v.75h-.75zM353.6 450.6h.75v.75h-.75zM354.5 446.9h.75v.75h-.75zM349.2 440.0h.75v.75h-.75zM350.3 452.3h.75v.75h-.75zM357.4 463.2h.75v.75h-.75zM359.7 456.0h.75v.75h-.75zM358.4 449.3h.75v.75h-.75zM360.9 463.8h.75v.75h-.75zM358.2 450.0h.75v.75h-.75zM354.5 448.3h.75v.75h-.75zM358.9 445.0h.75v.75h-.75zM357.6 446.5h.75v.75h-.75zM353.7 450.6h.75v.75h-.75zM358.3 465.7h.75v.75h-.75zM361.4 451.8h.75v.75h-.75zM355.6 445.8h.75v.75h-.75zM352.3 448.2h.75v.75h-.75zM358.3 451.3h.75v.75h-.75zM364.8 442.5h.75v.75h-.75zM353.1 453.0h.75v.75h-.75zM353.8 456.8h.75v.75h-.75zM353.5 454.3h.75v.75h-.75zM361.0 457.0h.75v.75h-.75zM344.2 442.8h.75v.75h-.75zM356.3 441.6h.75v.75h-.75zM360.9 461.4h.75v.75h-.75zM349.8 458.8h.75v.75h-.75zM362.5 443.3h.75v.75h-.75zM357.2 454.0h.75v.75h-.75zM351.3 452.1h.75v.75h-.75zM355.4 456.0h.75v.75h-.75zM345.9 452.7h.75v.75h-.75zM351.2 448.7h.75v.75h-.75zM364.3 454.8h.75v.75h-.75zM349.4 452.7h.75v.75h-.75zM364.4 453.2h.75v.75h-.75zM353.9 440.3h.75v.75h-.75zM359.8 433.6h.75v.75h-.75zM354.5 447.2h.75v.75h-.75zM342.0 440.3h.75v.75h-.75zM351.2 453.6h.75v.75h-.75zM355.3 457.1h.75v.75h-.75zM348.0 453.3h.75v.75h-.75zM346.9 449.0h.75v.75h-.75zM356.3 453.0h.75v.75h-.75zM350.7 459.4h.75v.75h-.75zM345.0 446.5h.75v.75h-.75zM350.5 457.8h.75v.75h-.75zM359.0 457.4h.75v.75h-.75zM351.7 453.7h.75v.75h-.75zM359.4 462.3h.75v.75h-.75zM362.7 448.7h.75v.75h-.75zM354.5 458.4h.75v.75h-.75zM348.1 445.6h.75v.75h-.75zM347.1 446.5h.75v.75h-.75zM354.2 445.4h.75v.75h-.75zM359.1 455.8h.75v.75h-.75zM355.8 446.4h.75v.75h-.75zM357.3 453.0h.75v.75h-.75zM351.9 444.7h.75v.75h-.75zM356.0 459.4h.75v.75h-.75zM351.7 463.9h.75v.75h-.75zM352.5 453.6h.75v.75h-.75zM347.2 462.1h.75v.75h-.75zM345.7 454.9h.75v.75h-.75zM351.6 466.0h.75v.75h-.75zM348.2 452.2h.75v.75h-.75zM349.0 441.5h.75v.75h-.75zM358.0 462.4h.75v.75h-.75zM353.7 451.4h.75v.75h-.75zM370.3 447.5h.75v.75h-.75zM359.4 448.7h.75v.75h-.75zM350.8 441.4h.75v.75h-.75zM358.6 451.7h.75v.75h-.75zM356.3 445.6h.75v.75h-.75zM350.5 461.5h.75v.75h-.75zM360.4 457.3h.75v.75h-.75zM350.0 441.1h.75v.75h-.75zM337.5 440.6h.75v.75h-.75zM358.7 449.1h.75v.75h-.75zM350.9 439.4h.75v.75h-.75zM362.5 452.6h.75v.75h-.75zM350.7 451.6h.75v.75h-.75zM347.8 446.5h.75v.75h-.75zM362.8 449.8h.75v.75h-.75zM348.4 454.8h.75v.75h-.75zM355.4 461.6h.75v.75h-.75zM362.3 462.9h.75v.75h-.75zM354.9 452.6h.75v.75h-.75zM353.9 457.8h.75v.75h-.75zM354.9 447.6h.75v.75h-.75zM358.9 455.5h.75v.75h-.75zM349.9 445.6h.75v.75h-.75zM357.7 457.4h.75v.75h-.75zM357.5 444.7h.75v.75h-.75zM367.1 447.6h.75v.75h-.75zM352.4 452.0h.75v.75h-.75zM349.3 455.3h.75v.75h-.75zM358.3 443.5h.75v.75h-.75zM352.1 448.6h.75v.75h-.75zM355.9 453.4h.75v.75h-.75zM355.0 453.9h.75v.75h-.75zM360.7 447.6h.75v.75h-.75zM350.7 452.5h.75v.75h-.75zM353.8 450.5h.75v.75h-.75zM340.3 459.7h.75v.75h-.75zM349.4 455.3h.75v.75h-.75zM362.7 444.7h.75v.75h-.75zM350.6 437.6h.75v.75h-.75zM350.4 452.5h.75v.75h-.75zM347.6 459.2h.75v.75h-.75zM357.5 453.8h.75v.75h-.75zM355.3 458.1h.75v.75h-.75zM347.8 448.4h.75v.75h-.75zM358.0 443.9h.75v.75h-.75zM355.7 457.3h.75v.75h-.75zM358.4 453.4h.75v.75h-.75zM350.8 456.3h.75v.75h-.75zM363.9 444.5h.75v.75h-.75zM356.6 453.7h.75v.75h-.75zM353.7 448.2h.75v.75h-.75zM351.4 457.2h.75v.75h-.75zM353.0 448.4h.75v.75h-.75zM359.0 448.9h.75v.75h-.75zM352.8 448.3h.75v.75h-.75zM360.2 461.2h.75v.75h-.75zM357.5 452.9h.75v.75h-.75zM361.7 448.3h.75v.75h-.75zM358.8 446.2h.75v.75h-.75zM354.0 445.5h.75v.75h-.75zM343.8 460.5h.75v.75h-.75zM355.9 440.8h.75v.75h-.75zM358.6 447.3h.75v.75h-.75zM355.2 456.5h.75v.75h-.75zM357.4 460.3h.75v.75h-.75zM351.7 451.0h.75v.75h-.75zM352.2 457.1h.75v.75h-.75zM349.1 456.6h.75v.75h-.75zM361.8 459.6h.75v.75h-.75zM355.2 452.7h.75v.75h-.75zM351.6 462.7h.75v.75h-.75zM347.0 452.8h.75v.75h-.75zM353.5 462.2h.75v.75h-.75zM362.2 446.2h.75v.75h-.75zM356.8 458.8h.75v.75h-.75zM350.3 443.8h.75v.75h-.75zM362.2 443.7h.75v.75h-.75zM362.2 456.6h.75v.75h-.75zM359.7 447.8h.75v.75h-.75zM358.6 455.9h.75v.75h-.75zM360.7 446.3h.75v.75h-.75zM357.3 463.3h.75v.75h-.75zM358.6 453.1h.75v.75h-.75zM350.0 444.7h.75v.75h-.75zM362.5 454.7h.75v.75h-.75zM355.6 458.4h.75v.75h-.75zM365.4 448.9h.75v.75h-.75zM343.1 454.6h.75v.75h-.75zM358.2 466.3h.75v.75h-.75zM359.7 458.9h.75v.75h-.75zM352.4 452.3h.75v.75h-.75zM356.8 449.2h.75v.75h-.75zM358.4 456.9h.75v.75h-.75zM357.5 443.2h.75v.75h-.75zM351.3 432.6h.75v.75h-.75zM353.5 448.2h.75v.75h-.75zM359.9 446.3h.75v.75h-.75zM361.3 464.8h.75v.75h-.75zM354.8 453.6h.75v.75h-.75zM354.7 446.3h.75v.75h-.75zM355.4 445.3h.75v.75h-.75zM360.0 456.6h.75v.75h-.75zM348.5 446.6h.75v.75h-.75zM347.0 448.1h.75v.75h-.75zM355.0 452.2h.75v.75h-.75zM348.2 452.6h.75v.75h-.75zM351.1 453.0h.75v.75h-.75zM354.8 453.5h.75v.75h-.75zM357.0 461.5h.75v.75h-.75zM348.4 463.0h.75v.75h-.75zM358.7 442.6h.75v.75h-.75zM344.5 468.3h.75v.75h-.75zM357.3 453.9h.75v.75h-.75zM345.6 459.8h.75v.75h-.75zM347.3 447.1h.75v.75h-.75zM357.8 455.3h.75v.75h-.75zM352.1 453.9h.75v.75h-.75zM349.9 453.0h.75v.75h-.75zM351.9 458.0h.75v.75h-.75zM356.9 457.2h.75v.75h-.75zM354.0 446.2h.75v.75h-.75zM354.1 452.0h.75v.75h-.75zM360.1 458.2h.75v.75h-.75zM350.4 456.8h.75v.75h-.75zM351.7 450.3h.75v.75h-.75zM351.4 450.6h.75v.75h-.75zM360.7 452.6h.75v.75h-.75zM359.8 446.3h.75v.75h-.75zM361.4 445.3h.75v.75h-.75zM354.1 462.9h.75v.75h-.75zM353.4 450.1h.75v.75h-.75zM359.0 454.0h.75v.75h-.75zM352.1 447.7h.75v.75h-.75zM358.9 461.7h.75v.75h-.75zM358.3 464.6h.75v.75h-.75zM350.5 450.9h.75v.75h-.75zM353.8 456.1h.75v.75h-.75zM353.6 447.8h.75v.75h-.75zM363.8 465.3h.75v.75h-.75zM368.5 460.5h.75v.75h-.75zM353.8 447.3h.75v.75h-.75zM354.4 460.9h.75v.75h-.75zM341.8 453.6h.75v.75h-.75zM355.5 455.6h.75v.75h-.75zM354.3 455.1h.75v.75h-.75zM348.4 447.8h.75v.75h-.75zM358.6 449.8h.75v.75h-.75zM345.7 455.8h.75v.75h-.75zM353.1 452.3h.75v.75h-.75zM355.1 446.7h.75v.75h-.75zM347.4 465.1h.75v.75h-.75zM359.0 452.0h.75v.75h-.75zM360.1 449.8h.75v.75h-.75zM346.7 447.3h.75v.75h-.75zM346.6 456.3h.75v.75h-.75zM357.6 459.4h.75v.75h-.75zM354.1 454.3h.75v.75h-.75zM347.6 457.6h.75v.75h-.75zM352.7 442.9h.75v.75h-.75zM353.7 450.3h.75v.75h-.75zM353.5 449.6h.75v.75h-.75zM358.9 453.3h.75v.75h-.75zM356.4 456.1h.75v.75h-.75zM364.0 440.7h.75v.75h-.75zM358.0 447.5h.75v.75h-.75zM360.2 455.6h.75v.75h-.75zM361.6 458.9h.75v.75h-.75zM358.2 458.7h.75v.75h-.75zM347.6 453.5h.75v.75h-.75zM359.0 434.4h.75v.75h-.75zM354.7 445.7h.75v.75h-.75zM363.2 458.6h.75v.75h-.75zM354.8 446.8h.75v.75h-.75zM357.2 446.2h.75v.75h-.75zM356.1 437.6h.75v.75h-.75zM363.5 461.6h.75v.75h-.75zM355.3 456.0h.75v.75h-.75zM352.8 446.6h.75v.75h-.75zM356.0 451.9h.75v.75h-.75zM351.9 451.6h.75v.75h-.75zM355.2 445.4h.75v.75h-.75zM354.3 450.7h.75v.75h-.75zM355.8 454.3h.75v.75h-.75zM364.9 457.3h.75v.75h-.75zM352.1 460.4h.75v.75h-.75zM354.5 452.7h.75v.75h-.75zM353.2 449.4h.75v.75h-.75zM358.0 455.5h.75v.75h-.75zM347.8 447.6h.75v.75h-.75zM350.5 443.9h.75v.75h-.75zM354.1 459.8h.75v.75h-.75zM357.3 450.3h.75v.75h-.75zM354.0 453.2h.75v.75h-.75zM351.5 456.3h.75v.75h-.75zM349.5 444.7h.75v.75h-.75zM357.1 456.9h.75v.75h-.75zM362.2 456.3h.75v.75h-.75zM356.1 452.0h.75v.75h-.75zM355.3 455.1h.75v.75h-.75zM356.7 447.8h.75v.75h-.75zM349.1 437.5h.75v.75h-.75zM352.6 450.4h.75v.75h-.75zM352.8 446.4h.75v.75h-.75zM355.9 458.2h.75v.75h-.75zM354.1 454.1h.75v.75h-.75zM347.6 448.2h.75v.75h-.75zM360.5 453.5h.75v.75h-.75zM363.6 462.3h.75v.75h-.75zM352.9 459.6h.75v.75h-.75zM356.5 455.1h.75v.75h-.75zM355.8 455.4h.75v.75h-.75zM358.6 451.1h.75v.75h-.75zM346.2 450.6h.75v.75h-.75zM363.2 457.3h.75v.75h-.75zM351.7 451.3h.75v.75h-.75zM361.3 455.2h.75v.75h-.75zM354.7 445.2h.75v.75h-.75zM352.2 441.4h.75v.75h-.75zM353.5 441.3h.75v.75h-.75zM359.2 450.2h.75v.75h-.75zM349.6 460.4h.75v.75h-.75zM352.2 459.8h.75v.75h-.75zM351.6 445.6h.75v.75h-.75zM344.9 441.2h.75v.75h-.75zM361.5 458.4h.75v.75h-.75zM357.5 455.8h.75v.75h-.75zM354.2 443.5h.75v.75h-.75zM360.7 460.0h.75v.75h-.75zM349.0 452.9h.75v.75h-.75zM353.9 460.9h.75v.75h-.75zM363.8 455.7h.75v.75h-.75zM359.7 458.8h.75v.75h-.75zM342.1 453.0h.75v.75h-.75zM336.0 444.1h.75v.75h-.75zM348.6 450.2h.75v.75h-.75zM360.1 448.7h.75v.75h-.75zM351.7 457.5h.75v.75h-.75zM353.1 445.8h.75v.75h-.75zM357.6 442.9h.75v.75h-.75zM349.4 456.2h.75v.75h-.75zM355.5 459.9h.75v.75h-.75zM358.7 462.3h.75v.75h-.75zM356.9 459.8h.75v.75h-.75zM356.5 442.9h.75v.75h-.75zM351.0 447.5h.75v.75h-.75zM357.1 449.2h.75v.75h-.75zM351.9 452.0h.75v.75h-.75zM361.5 439.3h.75v.75h-.75zM368.4 454.0h.75v.75h-.75zM350.2 453.7h.75v.75h-.75zM342.3 444.8h.75v.75h-.75zM352.0 452.9h.75v.75h-.75zM356.4 460.3h.75v.75h-.75zM360.1 453.4h.75v.75h-.75zM360.2 459.9h.75v.75h-.75zM350.0 458.4h.75v.75h-.75zM349.9 454.5h.75v.75h-.75zM361.3 455.7h.75v.75h-.75zM348.3 449.3h.75v.75h-.75zM360.3 461.1h.75v.75h-.75zM353.1 449.2h.75v.75h-.75zM358.5 448.4h.75v.75h-.75zM358.2 457.4h.75v.75h-.75zM358.6 448.2h.75v.75h-.75zM358.8 455.7h.75v.75h-.75zM348.9 458.6h.75v.75h-.75zM355.9 453.1h.75v.75h-.75zM354.4 453.1h.75v.75h-.75zM356.0 458.5h.75v.75h-.75zM361.1 458.1h.75v.75h-.75zM352.8 442.2h.75v.75h-.75zM350.4 443.4h.75v.75h-.75zM350.3 460.5h.75v.75h-.75zM352.6 454.7h.75v.75h-.75zM358.4 439.4h.75v.75h-.75zM349.8 443.1h.75v.75h-.75zM360.7 453.3h.75v.75h-.75zM355.9 446.3h.75v.75h-.75zM353.1 455.3h.75v.75h-.75zM347.0 452.1h.75v.75h-.75zM355.6 455.7h.75v.75h-.75zM358.1 445.3h.75v.75h-.75zM344.6 455.3h.75v.75h-.75zM360.9 465.9h.75v.75h-.75zM363.4 448.4h.75v.75h-.75zM356.2 461.1h.75v.75h-.75zM357.0 459.1h.75v.75h-.75zM367.6 458.2h.75v.75h-.75zM361.1 452.8h.75v.75h-.75zM349.4 444.3h.75v.75h-.75zM354.2 446.8h.75v.75h-.75zM353.4 457.3h.75v.75h-.75zM353.5 458.7h.75v.75h-.75zM341.3 458.8h.75v.75h-.75zM358.5 459.2h.75v.75h-.75zM350.8 457.9h.75v.75h-.75zM355.2 449.7h.75v.75h-.75zM353.6 444.6h.75v.75h-.75zM359.1 454.3h.75v.75h-.75zM352.7 455.5h.75v.75h-.75zM349.9 452.5h.75v.75h-.75zM357.2 443.0h.75v.75h-.75zM362.0 450.0h.75v.75h-.75zM352.5 442.7h.75v.75h-.75zM355.5 458.4h.75v.75h-.75zM347.1 446.3h.75v.75h-.75zM353.3 458.0h.75v.75h-.75zM356.7 448.3h.75v.75h-.75zM355.4 455.1h.75v.75h-.75zM364.1 456.4h.75v.75h-.75zM346.7 457.1h.75v.75h-.75zM339.2 448.7h.75v.75h-.75zM361.1 450.8h.75v.75h-.75zM364.3 456.2h.75v.75h-.75zM364.5 441.8h.75v.75h-.75zM356.5 453.5h.75v.75h-.75zM358.3 456.2h.75v.75h-.75zM355.4 460.5h.75v.75h-.75zM345.4 451.8h.75v.75h-.75zM350.5 450.6h.75v.75h-.75zM358.0 453.2h.75v.75h-.75zM350.5 446.2h.75v.75h-.75zM367.9 450.4h.75v.75h-.75zM343.7 455.3h.75v.75h-.75zM351.5 454.3h.75v.75h-.75zM362.3 443.7h.75v.75h-.75zM350.3 449.4h.75v.75h-.75zM346.6 435.1h.75v.75h-.75zM345.0 458.4h.75v.75h-.75zM349.4 447.7h.75v.75h-.75zM365.1 453.9h.75v.75h-.75zM357.4 443.2h.75v.75h-.75zM358.1 451.3h.75v.75h-.75zM350.9 455.5h.75v.75h-.75zM360.4 459.8h.75v.75h-.75zM355.3 441.0h.75v.75h-.75zM348.1 458.7h.75v.75h-.75zM351.4 450.6h.75v.75h-.75zM355.9 445.7h.75v.75h-.75zM362.7 455.7h.75v.75h-.75zM354.1 449.5h.75v.75h-.75zM358.0 449.5h.75v.75h-.75zM368.7 446.2h.75v.75h-.75zM348.9 453.7h.75v.75h-.75zM345.8 452.2h.75v.75h-.75zM361.4 450.5h.75v.75h-.75zM357.6 444.2h.75v.75h-.75zM353.9 447.8h.75v.75h-.75zM356.4 455.1h.75v.75h-.75zM352.2 462.1h.75v.75h-.75zM358.2 451.6h.75v.75h-.75zM352.2 463.1h.75v.75h-.75zM360.1 451.8h.75v.75h-.75zM346.3 443.1h.75v.75h-.75zM348.8 456.9h.75v.75h-.75zM355.4 444.1h.75v.75h-.75zM351.3 455.1h.75v.75h-.75zM359.4 460.4h.75v.75h-.75zM354.3 449.4h.75v.75h-.75zM350.8 451.1h.75v.75h-.75zM350.9 453.8h.75v.75h-.75zM343.7 454.0h.75v.75h-.75zM346.6 458.1h.75v.75h-.75zM349.0 451.1h.75v.75h-.75zM351.3 451.1h.75v.75h-.75zM355.3 454.9h.75v.75h-.75zM360.9 432.7h.75v.75h-.75zM358.4 463.2h.75v.75h-.75zM367.0 443.3h.75v.75h-.75zM363.5 443.2h.75v.75h-.75zM353.3 456.2h.75v.75h-.75zM366.2 452.1h.75v.75h-.75zM362.9 441.9h.75v.75h-.75zM351.4 453.5h.75v.75h-.75zM356.8 442.7h.75v.75h-.75zM362.3 446.3h.75v.75h-.75zM356.3 439.8h.75v.75h-.75zM361.7 445.3h.75v.75h-.75zM357.4 455.0h.75v.75h-.75zM359.5 452.8h.75v.75h-.75zM352.4 454.3h.75v.75h-.75zM357.3 459.2h.75v.75h-.75zM352.1 451.5h.75v.75h-.75zM359.4 446.6h.75v.75h-.75zM342.8 449.6h.75v.75h-.75zM357.0 465.0h.75v.75h-.75zM363.4 452.1h.75v.75h-.75zM358.7 454.4h.75v.75h-.75zM354.5 451.1h.75v.75h-.75zM358.4 453.8h.75v.75h-.75zM348.7 455.3h.75v.75h-.75zM348.8 451.8h.75v.75h-.75zM352.1 450.6h.75v.75h-.75zM353.6 445.6h.75v.75h-.75zM361.4 445.1h.75v.75h-.75zM348.4 455.1h.75v.75h-.75zM361.6 457.8h.75v.75h-.75zM343.6 459.2h.75v.75h-.75zM349.1 452.3h.75v.75h-.75zM354.4 445.3h.75v.75h-.75zM362.7 456.9h.75v.75h-.75zM350.3 456.8h.75v.75h-.75zM339.6 439.9h.75v.75h-.75zM357.6 458.3h.75v.75h-.75zM354.4 456.5h.75v.75h-.75zM347.1 465.2h.75v.75h-.75zM347.3 442.9h.75v.75h-.75zM349.8 441.6h.75v.75h-.75zM355.3 458.1h.75v.75h-.75zM359.3 437.5h.75v.75h-.75zM344.3 446.0h.75v.75h-.75zM370.6 443.2h.75v.75h-.75zM354.4 443.8h.75v.75h-.75zM352.0 436.7h.75v.75h-.75zM359.3 450.0h.75v.75h-.75zM355.4 459.7h.75v.75h-.75zM371.0 455.4h.75v.75h-.75zM362.3 455.4h.75v.75h-.75zM352.0 449.0h.75v.75h-.75zM351.9 463.4h.75v.75h-.75zM351.1 456.1h.75v.75h-.75zM352.2 460.3h.75v.75h-.75zM359.3 439.5h.75v.75h-.75zM350.1 454.7h.75v.75h-.75zM365.9 442.8h.75v.75h-.75zM354.0 454.7h.75v.75h-.75zM353.6 453.5h.75v.75h-.75zM361.2 442.9h.75v.75h-.75zM340.8 453.3h.75v.75h-.75zM348.1 461.2h.75v.75h-.75zM358.8 455.9h.75v.75h-.75zM354.7 456.7h.75v.75h-.75zM354.5 445.1h.75v.75h-.75zM357.4 446.6h.75v.75h-.75zM350.4 443.1h.75v.75h-.75zM353.4 453.0h.75v.75h-.75zM345.1 461.5h.75v.75h-.75zM341.5 455.5h.75v.75h-.75zM363.4 452.0h.75v.75h-.75zM348.1 443.1h.75v.75h-.75zM349.6 455.5h.75v.75h-.75zM364.4 450.1h.75v.75h-.75zM362.0 436.8h.75v.75h-.75zM350.9 438.2h.75v.75h-.75zM350.9 449.3h.75v.75h-.75zM354.0 444.9h.75v.75h-.75zM347.9 465.2h.75v.75h-.75zM358.4 452.3h.75v.75h-.75zM355.6 443.7h.75v.75h-.75zM355.5 448.1h.75v.75h-.75zM359.8 464.7h.75v.75h-.75zM359.6 444.5h.75v.75h-.75zM367.5 458.2h.75v.75h-.75zM365.2 455.5h.75v.75h-.75zM342.6 463.7h.75v.75h-.75zM360.9 456.3h.75v.75h-.75zM346.7 448.8h.75v.75h-.75zM344.6 456.2h.75v.75h-.75zM359.5 452.6h.75v.75h-.75zM349.7 459.8h.75v.75h-.75zM352.4 451.5h.75v.75h-.75zM362.1 467.8h.75v.75h-.75zM349.9 451.2h.75v.75h-.75zM348.3 455.6h.75v.75h-.75zM356.9 446.8h.75v.75h-.75zM363.1 453.1h.75v.75h-.75zM358.3 452.3h.75v.75h-.75zM343.7 453.4h.75v.75h-.75zM350.0 459.3h.75v.75h-.75zM353.5 447.8h.75v.75h-.75zM368.1 445.3h.75v.75h-.75zM360.8 460.9h.75v.75h-.75zM360.5 449.8h.75v.75h-.75zM363.0 446.8h.75v.75h-.75zM352.4 461.3h.75v.75h-.75zM357.9 458.3h.75v.75h-.75zM358.0 431.1h.75v.75h-.75zM347.7 449.1h.75v.75h-.75zM354.5 458.4h.75v.75h-.75zM358.5 458.8h.75v.75h-.75zM347.0 448.0h.75v.75h-.75zM360.2 464.6h.75v.75h-.75zM359.9 445.8h.75v.75h-.75zM361.8 450.3h.75v.75h-.75zM349.1 453.2h.75v.75h-.75zM355.3 452.1h.75v.75h-.75zM364.7 458.6h.75v.75h-.75zM360.1 460.3h.75v.75h-.75zM349.0 451.8h.75v.75h-.75zM356.1 463.3h.75v.75h-.75zM364.5 446.7h.75v.75h-.75zM354.0 450.5h.75v.75h-.75zM357.2 465.9h.75v.75h-.75zM372.5 453.0h.75v.75h-.75zM354.3 460.7h.75v.75h-.75zM353.8 448.8h.75v.75h-.75zM347.5 450.1h.75v.75h-.75zM349.9 451.4h.75v.75h-.75zM364.9 453.6h.75v.75h-.75zM353.6 449.5h.75v.75h-.75zM346.2 452.4h.75v.75h-.75zM348.0 457.6h.75v.75h-.75zM354.6 461.8h.75v.75h-.75zM359.7 421.9h.75v.75h-.75zM362.4 419.2h.75v.75h-.75zM363.7 419.2h.75v.75h-.75zM353.8 420.1h.75v.75h-.75zM351.3 419.1h.75v.75h-.75zM367.2 419.7h.75v.75h-.75zM365.7 420.3h.75v.75h-.75zM359.5 418.0h.75v.75h-.75zM360.9 420.5h.75v.75h-.75zM354.5 422.9h.75v.75h-.75zM352.3 421.6h.75v.75h-.75zM360.7 421.9h.75v.75h-.75zM351.8 420.3h.75v.75h-.75zM363.7 422.3h.75v.75h-.75zM355.8 419.5h.75v.75h-.75zM360.6 423.6h.75v.75h-.75zM368.8 418.7h.75v.75h-.75zM368.6 418.2h.75v.75h-.75zM357.8 419.1h.75v.75h-.75zM364.5 419.2h.75v.75h-.75zM354.0 420.2h.75v.75h-.75zM356.2 419.6h.75v.75h-.75zM361.0 419.7h.75v.75h-.75zM366.1 420.9h.75v.75h-.75zM356.3 422.3h.75v.75h-.75zM361.8 419.6h.75v.75h-.75zM359.7 422.5h.75v.75h-.75zM352.9 419.4h.75v.75h-.75zM358.5 418.8h.75v.75h-.75zM366.6 417.7h.75v.75h-.75zM358.7 421.6h.75v.75h-.75zM361.6 417.5h.75v.75h-.75zM363.3 417.6h.75v.75h-.75zM355.5 423.1h.75v.75h-.75zM365.3 422.8h.75v.75h-.75zM366.6 422.0h.75v.75h-.75zM367.1 417.1h.75v.75h-.75zM365.7 419.8h.75v.75h-.75zM356.8 422.2h.75v.75h-.75zM356.2 421.0h.75v.75h-.75zM355.2 418.1h.75v.75h-.75zM354.6 420.4h.75v.75h-.75zM355.2 418.0h.75v.75h-.75zM364.1 417.8h.75v.75h-.75zM366.4 423.4h.75v.75h-.75zM355.9 422.0h.75v.75h-.75zM363.2 417.5h.75v.75h-.75zM352.8 418.6h.75v.75h-.75zM357.5 421.4h.75v.75h-.75zM354.1 420.0h.75v.75h-.75zM351.0 422.3h.75v.75h-.75zM359.4 419.3h.75v.75h-.75zM359.5 420.1h.75v.75h-.75zM357.1 421.1h.75v.75h-.75zM356.5 419.0h.75v.75h-.75zM354.2 417.7h.75v.75h-.75zM358.4 418.5h.75v.75h-.75zM356.1 419.6h.75v.75h-.75zM360.3 420.0h.75v.75h-.75zM353.1 421.0h.75v.75h-.75zM360.2 420.2h.75v.75h-.75zM361.6 421.1h.75v.75h-.75zM365.3 418.3h.75v.75h-.75zM364.3 422.3h.75v.75h-.75zM360.0 423.8h.75v.75h-.75zM355.6 421.5h.75v.75h-.75zM349.9 421.8h.75v.75h-.75zM359.0 422.6h.75v.75h-.75zM366.1 420.8h.75v.75h-.75zM367.3 419.9h.75v.75h-.75zM346.4 421.6h.75v.75h-.75zM355.3 419.6h.75v.75h-.75zM357.3 418.7h.75v.75h-.75zM353.8 422.2h.75v.75h-.75zM360.0 422.4h.75v.75h-.75zM359.2 418.6h.75v.75h-.75zM356.5 420.6h.75v.75h-.75zM358.9 420.9h.75v.75h-.75zM351.1 420.6h.75v.75h-.75zM354.2 419.7h.75v.75h-.75zM354.6 420.3h.75v.75h-.75zM363.5 416.6h.75v.75h-.75zM350.9 421.2h.75v.75h-.75zM358.0 420.1h.75v.75h-.75zM362.9 423.7h.75v.75h-.75zM358.8 422.1h.75v.75h-.75zM363.1 419.4h.75v.75h-.75zM355.8 420.8h.75v.75h-.75zM361.2 423.2h.75v.75h-.75zM363.5 422.7h.75v.75h-.75zM370.2 419.6h.75v.75h-.75zM362.7 419.9h.75v.75h-.75zM366.2 417.2h.75v.75h-.75zM359.1 419.9h.75v.75h-.75zM359.5 420.1h.75v.75h-.75zM366.9 418.4h.75v.75h-.75zM362.0 423.1h.75v.75h-.75zM366.1 416.5h.75v.75h-.75zM362.6 419.8h.75v.75h-.75zM369.7 420.0h.75v.75h-.75zM371.0 419.9h.75v.75h-.75zM354.9 423.8h.75v.75h-.75zM368.4 417.1h.75v.75h-.75zM361.3 418.9h.75v.75h-.75zM361.5 420.4h.75v.75h-.75zM358.5 420.7h.75v.75h-.75zM362.7 419.4h.75v.75h-.75zM353.5 419.7h.75v.75h-.75zM355.5 422.7h.75v.75h-.75zM355.3 419.1h.75v.75h-.75zM360.6 419.3h.75v.75h-.75zM363.7 422.4h.75v.75h-.75zM362.8 423.0h.75v.75h-.75zM361.0 421.8h.75v.75h-.75zM356.2 419.3h.75v.75h-.75zM350.3 419.9h.75v.75h-.75zM361.2 418.7h.75v.75h-.75zM359.9 418.4h.75v.75h-.75zM360.9 419.5h.75v.75h-.75zM366.3 421.9h.75v.75h-.75zM358.2 420.9h.75v.75h-.75zM358.1 419.3h.75v.75h-.75zM347.6 420.4h.75v.75h-.75zM361.9 418.1h.75v.75h-.75zM358.9 422.5h.75v.75h-.75zM355.5 417.4h.75v.75h-.75zM361.1 420.7h.75v.75h-.75zM353.9 418.5h.75v.75h-.75zM356.4 418.9h.75v.75h-.75zM369.0 416.8h.75v.75h-.75zM362.9 421.7h.75v.75h-.75zM363.8 419.8h.75v.75h-.75zM362.9 424.7h.75v.75h-.75zM362.4 418.3h.75v.75h-.75zM360.1 418.5h.75v.75h-.75zM370.6 420.2h.75v.75h-.75zM358.8 421.4h.75v.75h-.75zM362.8 419.6h.75v.75h-.75zM358.0 417.1h.75v.75h-.75zM357.4 423.1h.75v.75h-.75zM346.9 422.7h.75v.75h-.75zM349.5 422.1h.75v.75h-.75zM366.9 418.6h.75v.75h-.75zM366.6 420.7h.75v.75h-.75zM356.9 419.7h.75v.75h-.75zM358.9 420.5h.75v.75h-.75zM362.2 419.8h.75v.75h-.75zM354.1 423.1h.75v.75h-.75zM367.9 418.7h.75v.75h-.75zM353.9 420.4h.75v.75h-.75zM355.5 422.7h.75v.75h-.75zM345.3 422.3h.75v.75h-.75zM366.7 419.6h.75v.75h-.75zM359.4 420.0h.75v.75h-.75zM367.2 421.2h.75v.75h-.75zM354.1 419.8h.75v.75h-.75zM360.8 421.0h.75v.75h-.75zM359.5 423.8h.75v.75h-.75zM360.1 421.0h.75v.75h-.75zM369.4 417.9h.75v.75h-.75zM370.4 417.1h.75v.75h-.75zM366.0 419.9h.75v.75h-.75zM357.1 418.5h.75v.75h-.75zM363.5 417.2h.75v.75h-.75zM365.8 418.4h.75v.75h-.75zM361.9 418.2h.75v.75h-.75zM361.9 421.6h.75v.75h-.75zM361.5 417.6h.75v.75h-.75zM354.6 423.6h.75v.75h-.75zM360.3 419.0h.75v.75h-.75zM367.1 419.7h.75v.75h-.75zM354.1 422.1h.75v.75h-.75zM359.5 420.7h.75v.75h-.75zM363.2 421.2h.75v.75h-.75zM352.2 419.4h.75v.75h-.75zM358.4 416.5h.75v.75h-.75zM350.6 420.9h.75v.75h-.75zM356.0 417.8h.75v.75h-.75zM352.0 420.1h.75v.75h-.75zM354.6 422.5h.75v.75h-.75zM356.6 420.3h.75v.75h-.75zM357.7 419.5h.75v.75h-.75zM358.0 418.5h.75v.75h-.75zM347.0 421.2h.75v.75h-.75zM367.0 419.2h.75v.75h-.75zM357.6 417.8h.75v.75h-.75zM353.5 421.5h.75v.75h-.75zM355.9 418.9h.75v.75h-.75zM360.6 420.6h.75v.75h-.75zM354.0 420.1h.75v.75h-.75zM356.9 422.3h.75v.75h-.75zM356.7 422.1h.75v.75h-.75zM361.7 420.1h.75v.75h-.75zM355.3 420.6h.75v.75h-.75zM361.3 420.9h.75v.75h-.75zM360.7 422.6h.75v.75h-.75zM358.3 422.3h.75v.75h-.75zM365.2 420.0h.75v.75h-.75zM359.1 420.9h.75v.75h-.75zM353.1 423.7h.75v.75h-.75zM360.5 417.4h.75v.75h-.75zM359.6 421.3h.75v.75h-.75zM358.8 418.9h.75v.75h-.75zM360.2 422.6h.75v.75h-.75zM370.7 418.3h.75v.75h-.75zM360.2 420.1h.75v.75h-.75zM361.3 418.3h.75v.75h-.75zM357.8 420.6h.75v.75h-.75zM365.6 421.1h.75v.75h-.75zM358.7 423.3h.75v.75h-.75zM355.0 418.7h.75v.75h-.75zM352.9 420.4h.75v.75h-.75zM361.6 426.9h.75v.75h-.75zM362.7 421.7h.75v.75h-.75zM351.1 421.3h.75v.75h-.75zM355.4 421.8h.75v.75h-.75zM362.2 415.5h.75v.75h-.75zM364.1 422.7h.75v.75h-.75zM352.4 421.5h.75v.75h-.75zM357.0 418.2h.75v.75h-.75zM369.0 413.1h.75v.75h-.75zM358.2 419.1h.75v.75h-.75zM355.8 417.9h.75v.75h-.75zM365.1 417.6h.75v.75h-.75zM364.4 419.0h.75v.75h-.75zM359.2 416.7h.75v.75h-.75zM361.5 418.0h.75v.75h-.75zM353.9 419.8h.75v.75h-.75zM353.3 417.7h.75v.75h-.75zM367.4 419.8h.75v.75h-.75zM369.9 416.6h.75v.75h-.75zM364.6 416.7h.75v.75h-.75zM364.2 415.8h.75v.75h-.75zM359.6 417.8h.75v.75h-.75zM361.2 418.7h.75v.75h-.75zM356.4 418.3h.75v.75h-.75zM372.5 418.7h.75v.75h-.75zM358.6 412.3h.75v.75h-.75zM364.5 411.9h.75v.75h-.75zM362.0 417.4h.75v.75h-.75zM353.6 415.4h.75v.75h-.75zM373.6 415.0h.75v.75h-.75zM359.7 417.0h.75v.75h-.75zM357.4 420.8h.75v.75h-.75zM362.7 419.0h.75v.75h-.75zM356.6 422.9h.75v.75h-.75zM362.2 420.5h.75v.75h-.75zM356.2 422.8h.75v.75h-.75zM365.4 418.6h.75v.75h-.75zM362.3 420.8h.75v.75h-.75zM353.8 421.5h.75v.75h-.75zM368.2 415.0h.75v.75h-.75zM363.2 414.6h.75v.75h-.75zM355.4 416.6h.75v.75h-.75zM364.2 418.8h.75v.75h-.75zM364.6 411.3h.75v.75h-.75zM373.2 415.8h.75v.75h-.75zM356.8 417.4h.75v.75h-.75zM367.2 418.7h.75v.75h-.75zM361.5 418.8h.75v.75h-.75zM365.7 415.2h.75v.75h-.75zM360.5 418.5h.75v.75h-.75zM361.7 412.3h.75v.75h-.75zM365.0 418.1h.75v.75h-.75zM354.9 421.1h.75v.75h-.75zM349.4 416.5h.75v.75h-.75zM362.0 420.4h.75v.75h-.75zM359.4 418.5h.75v.75h-.75zM362.6 418.4h.75v.75h-.75zM365.9 413.4h.75v.75h-.75zM360.8 420.0h.75v.75h-.75zM369.3 417.8h.75v.75h-.75zM361.9 418.1h.75v.75h-.75zM362.8 415.4h.75v.75h-.75zM367.1 418.8h.75v.75h-.75zM365.7 420.5h.75v.75h-.75zM361.6 419.3h.75v.75h-.75zM362.9 420.5h.75v.75h-.75zM357.6 417.7h.75v.75h-.75zM358.5 419.4h.75v.75h-.75zM362.8 418.9h.75v.75h-.75zM367.1 417.3h.75v.75h-.75zM359.6 426.1h.75v.75h-.75zM367.2 418.0h.75v.75h-.75zM373.9 413.8h.75v.75h-.75zM375.1 417.1h.75v.75h-.75zM362.4 415.3h.75v.75h-.75zM368.6 417.5h.75v.75h-.75zM365.9 419.2h.75v.75h-.75zM367.0 415.7h.75v.75h-.75zM367.3 416.1h.75v.75h-.75zM365.4 414.9h.75v.75h-.75zM367.3 417.3h.75v.75h-.75zM363.4 416.1h.75v.75h-.75zM360.7 423.1h.75v.75h-.75zM363.8 419.5h.75v.75h-.75zM365.3 416.8h.75v.75h-.75zM369.7 412.6h.75v.75h-.75zM364.6 422.9h.75v.75h-.75zM366.8 420.4h.75v.75h-.75zM370.9 417.3h.75v.75h-.75zM356.7 420.1h.75v.75h-.75zM360.8 419.0h.75v.75h-.75zM365.6 416.2h.75v.75h-.75zM362.5 423.0h.75v.75h-.75zM356.2 420.2h.75v.75h-.75zM368.3 413.0h.75v.75h-.75zM361.9 416.6h.75v.75h-.75zM356.3 413.0h.75v.75h-.75zM373.7 417.1h.75v.75h-.75zM377.2 402.9h.75v.75h-.75zM383.3 402.5h.75v.75h-.75zM385.2 405.2h.75v.75h-.75zM367.9 406.4h.75v.75h-.75zM375.3 405.7h.75v.75h-.75zM378.6 410.2h.75v.75h-.75zM377.4 407.9h.75v.75h-.75zM369.6 411.4h.75v.75h-.75zM377.4 409.1h.75v.75h-.75zM375.6 406.9h.75v.75h-.75zM380.8 404.0h.75v.75h-.75zM372.4 410.6h.75v.75h-.75zM371.1 411.6h.75v.75h-.75zM369.5 407.9h.75v.75h-.75zM370.3 413.7h.75v.75h-.75zM368.0 407.1h.75v.75h-.75zM370.5 408.3h.75v.75h-.75zM375.6 414.6h.75v.75h-.75zM375.3 406.2h.75v.75h-.75zM380.5 406.2h.75v.75h-.75zM379.1 403.0h.75v.75h-.75zM376.3 406.1h.75v.75h-.75zM365.6 410.8h.75v.75h-.75zM375.9 406.1h.75v.75h-.75zM379.5 406.7h.75v.75h-.75zM364.6 417.3h.75v.75h-.75zM365.8 414.6h.75v.75h-.75zM366.7 415.7h.75v.75h-.75zM366.2 411.0h.75v.75h-.75zM370.7 413.4h.75v.75h-.75zM366.8 413.3h.75v.75h-.75zM374.7 411.0h.75v.75h-.75zM365.1 411.8h.75v.75h-.75zM371.6 408.8h.75v.75h-.75zM369.4 413.8h.75v.75h-.75zM366.5 413.5h.75v.75h-.75zM378.6 405.9h.75v.75h-.75zM372.5 407.2h.75v.75h-.75zM375.6 407.0h.75v.75h-.75zM370.3 411.2h.75v.75h-.75zM376.6 408.4h.75v.75h-.75zM376.0 405.6h.75v.75h-.75zM371.4 408.6h.75v.75h-.75zM361.7 415.6h.75v.75h-.75zM377.3 403.6h.75v.75h-.75zM376.5 409.0h.75v.75h-.75zM373.4 408.3h.75v.75h-.75zM373.8 407.8h.75v.75h-.75zM373.1 402.7h.75v.75h-.75zM373.5 404.4h.75v.75h-.75zM366.3 409.6h.75v.75h-.75zM372.0 407.6h.75v.75h-.75zM374.3 405.2h.75v.75h-.75zM368.7 411.7h.75v.75h-.75zM366.5 412.2h.75v.75h-.75zM383.5 402.2h.75v.75h-.75zM376.0 402.0h.75v.75h-.75zM370.5 413.2h.75v.75h-.75zM369.4 409.7h.75v.75h-.75zM356.5 418.7h.75v.75h-.75zM355.0 437.2h.75v.75h-.75zM357.0 419.9h.75v.75h-.75zM359.1 428.5h.75v.75h-.75zM357.7 440.1h.75v.75h-.75zM359.9 426.4h.75v.75h-.75zM356.4 429.8h.75v.75h-.75zM363.0 443.3h.75v.75h-.75zM351.3 438.9h.75v.75h-.75zM355.3 436.1h.75v.75h-.75zM359.9 437.4h.75v.75h-.75zM356.2 431.0h.75v.75h-.75zM355.7 437.9h.75v.75h-.75zM351.7 434.3h.75v.75h-.75zM360.6 453.3h.75v.75h-.75zM351.3 439.5h.75v.75h-.75zM358.5 433.4h.75v.75h-.75zM357.6 435.4h.75v.75h-.75zM359.6 436.2h.75v.75h-.75zM361.3 426.1h.75v.75h-.75zM354.9 430.0h.75v.75h-.75zM354.5 446.5h.75v.75h-.75zM356.0 426.0h.75v.75h-.75zM351.8 431.8h.75v.75h-.75zM359.4 443.0h.75v.75h-.75zM355.7 446.4h.75v.75h-.75zM357.4 428.7h.75v.75h-.75zM353.5 446.1h.75v.75h-.75zM357.0 433.3h.75v.75h-.75zM355.1 447.5h.75v.75h-.75zM356.7 439.4h.75v.75h-.75zM353.6 433.9h.75v.75h-.75zM360.0 441.0h.75v.75h-.75zM355.0 439.8h.75v.75h-.75zM349.2 430.5h.75v.75h-.75zM358.8 450.9h.75v.75h-.75zM356.0 433.5h.75v.75h-.75zM354.2 444.0h.75v.75h-.75zM364.4 432.5h.75v.75h-.75zM356.7 423.1h.75v.75h-.75zM352.9 428.0h.75v.75h-.75zM355.0 435.2h.75v.75h-.75zM358.0 440.7h.75v.75h-.75zM356.2 448.2h.75v.75h-.75zM360.6 436.5h.75v.75h-.75zM360.1 433.9h.75v.75h-.75zM354.5 427.3h.75v.75h-.75zM357.0 435.6h.75v.75h-.75zM358.8 438.0h.75v.75h-.75zM355.6 420.4h.75v.75h-.75zM355.5 445.0h.75v.75h-.75zM359.5 443.9h.75v.75h-.75zM358.2 451.8h.75v.75h-.75zM352.7 429.5h.75v.75h-.75zM355.2 436.2h.75v.75h-.75zM355.6 436.0h.75v.75h-.75zM356.5 426.6h.75v.75h-.75zM354.7 429.9h.75v.75h-.75zM360.9 429.0h.75v.75h-.75zM354.0 439.5h.75v.75h-.75zM353.6 438.9h.75v.75h-.75zM388.0 448.8h.75v.75h-.75zM366.9 435.8h.75v.75h-.75zM355.0 433.2h.75v.75h-.75zM377.0 462.2h.75v.75h-.75zM376.2 411.9h.75v.75h-.75zM379.8 441.1h.75v.75h-.75zM386.7 452.5h.75v.75h-.75zM364.7 438.1h.75v.75h-.75zM381.3 451.1h.75v.75h-.75zM359.7 432.2h.75v.75h-.75zM373.6 444.5h.75v.75h-.75zM380.0 445.2h.75v.75h-.75zM370.4 444.8h.75v.75h-.75zM374.4 446.4h.75v.75h-.75zM355.0 445.0h.75v.75h-.75zM363.9 458.0h.75v.75h-.75zM373.5 441.4h.75v.75h-.75zM357.3 437.4h.75v.75h-.75zM361.5 441.1h.75v.75h-.75zM400.9 440.8h.75v.75h-.75z" fill="#e62630" fill-opacity="0.7"/>
<line x1="367.50" y1="377.70" x2="367.50" y2="472.30" stroke="#444" stroke-width="0.7"/>
<line x1="330.00" y1="428.30" x2="422.30" y2="428.30" stroke="#444" stroke-width="0.7"/>
<text x="331.50" y="381.90" font-size="3.0" text-anchor="start" font-family='"Liberation Sans", sans-serif' fill="#666" color="#666">Q1-UL(2.94%)</text>
<text x="420.80" y="381.90" font-size="3.0" text-anchor="end" font-family='"Liberation Sans", sans-serif' fill="#666" color="#666">Q1-UR(2.64%)</text>
<text x="331.50" y="469.80" font-size="3.0" text-anchor="start" font-family='"Liberation Sans", sans-serif' fill="#666" color="#666">Q1-LL(91.74%)</text>
<text x="420.80" y="469.80" font-size="3.0" text-anchor="end" font-family='"Liberation Sans", sans-serif' fill="#666" color="#666">Q1-LR(3.48%)</text>
<text x="326.50" y="386.70" font-size="3.6" text-anchor="middle" font-family='"Liberation Sans", sans-serif' fill="#777" color="#777" transform="rotate(-90 326.50 386.70)">10⁵</text>
<text x="326.50" y="417.30" font-size="3.6" text-anchor="middle" font-family='"Liberation Sans", sans-serif' fill="#777" color="#777" transform="rotate(-90 326.50 417.30)">10⁴</text>
<text x="326.50" y="455.30" font-size="3.6" text-anchor="middle" font-family='"Liberation Sans", sans-serif' fill="#777" color="#777" transform="rotate(-90 326.50 455.30)">0</text>
<text x="345.75" y="476.50" font-size="3.6" text-anchor="middle" font-family='"Liberation Sans", sans-serif' fill="#777" color="#777">0</text>
<text x="369.50" y="476.50" font-size="3.6" text-anchor="middle" font-family='"Liberation Sans", sans-serif' fill="#777" color="#777">10³</text>
<text x="412.30" y="476.50" font-size="3.6" text-anchor="middle" font-family='"Liberation Sans", sans-serif' fill="#777" color="#777">10⁵</text>
<rect x="431.3" y="378" width="96.50" height="91.70" fill="none" stroke="#aaa" stroke-width="0.6"/>
<path d="M430.3 380.3h1M430.3 382.6h1M430.3 384.9h1M430.3 387.2h1M430.3 389.5h1M430.3 391.8h1M430.3 394.0h1M430.3 396.3h1M430.3 398.6h1M430.3 400.9h1M430.3 403.2h1M430.3 405.5h1M430.3 407.8h1M430.3 410.1h1M430.3 412.4h1M430.3 414.7h1M430.3 417.0h1M430.3 419.3h1M430.3 421.6h1M430.3 423.9h1M430.3 426.1h1M430.3 428.4h1M430.3 430.7h1M430.3 433.0h1M430.3 435.3h1M430.3 437.6h1M430.3 439.9h1M430.3 442.2h1M430.3 444.5h1M430.3 446.8h1M430.3 449.1h1M430.3 451.4h1M430.3 453.7h1M430.3 455.9h1M430.3 458.2h1M430.3 460.5h1M430.3 462.8h1M430.3 465.1h1M430.3 467.4h1M433.7 469.7v1M436.1 469.7v1M438.5 469.7v1M440.9 469.7v1M443.4 469.7v1M445.8 469.7v1M448.2 469.7v1M450.6 469.7v1M453.0 469.7v1M455.4 469.7v1M457.8 469.7v1M460.2 469.7v1M462.7 469.7v1M465.1 469.7v1M467.5 469.7v1M469.9 469.7v1M472.3 469.7v1M474.7 469.7v1M477.1 469.7v1M479.5 469.7v1M482.0 469.7v1M484.4 469.7v1M486.8 469.7v1M489.2 469.7v1M491.6 469.7v1M494.0 469.7v1M496.4 469.7v1M498.8 469.7v1M501.3 469.7v1M503.7 469.7v1M506.1 469.7v1M508.5 469.7v1M510.9 469.7v1M513.3 469.7v1M515.7 469.7v1M518.1 469.7v1M520.6 469.7v1M523.0 469.7v1M525.4 469.7v1" stroke="#888" stroke-width="0.4"/>
<line x1="431.30" y1="378.00" x2="431.30" y2="469.70" stroke="#888" stroke-width="0.7"/>
<line x1="431.30" y1="469.70" x2="527.80" y2="469.70" stroke="#888" stroke-width="0.7"/>
<ellipse cx="461" cy="451" rx="14.5" ry="10" fill="url(#coreg)" transform="rotate(-15 461 451)"/>
<path d="M448.3 445.5h.75v.75h-.75zM445.7 457.3h.75v.75h-.75zM449.4 449.7h.75v.75h-.75zM460.0 454.1h.75v.75h-.75zM453.8 454.9h.75v.75h-.75zM455.5 455.4h.75v.75h-.75zM476.8 452.2h.75v.75h-.75zM465.5 453.0h.75v.75h-.75zM456.8 446.3h.75v.75h-.75zM454.0 447.1h.75v.75h-.75zM467.1 454.3h.75v.75h-.75zM453.0 454.7h.75v.75h-.75zM466.2 441.6h.75v.75h-.75zM462.0 440.4h.75v.75h-.75zM467.1 453.6h.75v.75h-.75zM453.4 463.3h.75v.75h-.75zM464.0 454.0h.75v.75h-.75zM446.3 452.8h.75v.75h-.75zM457.0 452.8h.75v.75h-.75zM465.1 436.1h.75v.75h-.75zM462.6 445.2h.75v.75h-.75zM446.2 459.0h.75v.75h-.75zM462.6 454.5h.75v.75h-.75zM461.1 440.0h.75v.75h-.75zM457.7 457.2h.75v.75h-.75zM453.4 455.0h.75v.75h-.75zM456.3 456.3h.75v.75h-.75zM454.4 451.1h.75v.75h-.75zM464.3 449.8h.75v.75h-.75zM461.1 445.2h.75v.75h-.75zM465.0 451.2h.75v.75h-.75zM462.6 454.6h.75v.75h-.75zM449.8 448.5h.75v.75h-.75zM459.0 452.8h.75v.75h-.75zM472.0 445.4h.75v.75h-.75zM450.9 458.1h.75v.75h-.75zM459.9 455.7h.75v.75h-.75zM453.0 440.7h.75v.75h-.75zM452.3 454.8h.75v.75h-.75zM459.5 455.9h.75v.75h-.75zM464.1 447.1h.75v.75h-.75zM463.1 449.0h.75v.75h-.75zM461.1 449.8h.75v.75h-.75zM464.3 444.1h.75v.75h-.75zM447.5 453.1h.75v.75h-.75zM463.4 457.7h.75v.75h-.75zM460.7 453.0h.75v.75h-.75zM456.9 459.1h.75v.75h-.75zM458.0 456.2h.75v.75h-.75zM452.5 458.5h.75v.75h-.75zM465.6 450.1h.75v.75h-.75zM453.2 456.2h.75v.75h-.75zM448.5 463.4h.75v.75h-.75zM458.0 458.5h.75v.75h-.75zM454.3 453.7h.75v.75h-.75zM457.6 447.9h.75v.75h-.75zM467.9 444.4h.75v.75h-.75zM457.2 452.6h.75v.75h-.75zM458.9 453.2h.75v.75h-.75zM472.8 438.7h.75v.75h-.75zM448.9 454.4h.75v.75h-.75zM460.5 452.4h.75v.75h-.75zM465.7 451.0h.75v.75h-.75zM468.0 446.2h.75v.75h-.75zM472.7 459.3h.75v.75h-.75zM453.8 456.5h.75v.75h-.75zM462.1 443.5h.75v.75h-.75zM457.5 447.8h.75v.75h-.75zM455.2 455.9h.75v.75h-.75zM453.4 454.8h.75v.75h-.75zM448.6 454.0h.75v.75h-.75zM460.3 450.5h.75v.75h-.75zM463.0 449.0h.75v.75h-.75zM451.2 450.5h.75v.75h-.75zM463.1 444.9h.75v.75h-.75zM454.5 454.8h.75v.75h-.75zM451.5 438.9h.75v.75h-.75zM441.0 451.5h.75v.75h-.75zM465.4 455.6h.75v.75h-.75zM462.8 446.1h.75v.75h-.75zM456.1 445.6h.75v.75h-.75zM455.6 461.0h.75v.75h-.75zM449.7 458.2h.75v.75h-.75zM461.5 449.5h.75v.75h-.75zM457.8 448.2h.75v.75h-.75zM461.7 449.1h.75v.75h-.75zM459.3 449.0h.75v.75h-.75zM449.0 451.9h.75v.75h-.75zM448.0 449.7h.75v.75h-.75zM460.9 453.0h.75v.75h-.75zM447.2 450.8h.75v.75h-.75zM460.0 441.6h.75v.75h-.75zM464.2 443.2h.75v.75h-.75zM449.9 452.9h.75v.75h-.75zM462.7 444.9h.75v.75h-.75zM458.6 438.6h.75v.75h-.75zM461.8 457.5h.75v.75h-.75zM454.2 454.3h.75v.75h-.75zM458.3 448.5h.75v.75h-.75zM461.2 447.6h.75v.75h-.75zM470.4 450.6h.75v.75h-.75zM463.3 456.5h.75v.75h-.75zM461.8 447.0h.75v.75h-.75zM450.0 454.8h.75v.75h-.75zM460.7 447.2h.75v.75h-.75zM454.1 453.4h.75v.75h-.75zM458.1 445.2h.75v.75h-.75zM460.3 441.3h.75v.75h-.75zM465.0 449.7h.75v.75h-.75zM462.5 449.5h.75v.75h-.75zM459.9 454.0h.75v.75h-.75zM458.3 447.5h.75v.75h-.75zM467.5 455.5h.75v.75h-.75zM452.9 452.5h.75v.75h-.75zM458.9 458.3h.75v.75h-.75zM467.7 447.0h.75v.75h-.75zM457.4 458.5h.75v.75h-.75zM464.1 449.1h.75v.75h-.75zM464.5 450.1h.75v.75h-.75zM471.7 452.5h.75v.75h-.75zM466.1 440.3h.75v.75h-.75zM447.9 447.9h.75v.75h-.75zM458.7 459.8h.75v.75h-.75zM460.6 442.8h.75v.75h-.75zM464.1 447.0h.75v.75h-.75zM461.2 452.8h.75v.75h-.75zM471.0 455.1h.75v.75h-.75zM465.9 446.6h.75v.75h-.75zM450.9 453.2h.75v.75h-.75zM454.4 446.1h.75v.75h-.75zM445.1 452.0h.75v.75h-.75zM469.9 453.2h.75v.75h-.75zM457.7 452.6h.75v.75h-.75zM457.5 450.9h.75v.75h-.75zM448.1 455.3h.75v.75h-.75zM455.5 452.2h.75v.75h-.75zM461.1 451.0h.75v.75h-.75zM455.6 449.7h.75v.75h-.75zM455.6 446.7h.75v.75h-.75zM454.1 455.2h.75v.75h-.75zM471.1 442.2h.75v.75h-.75zM454.5 456.8h.75v.75h-.75zM448.5 463.6h.75v.75h-.75zM454.6 459.2h.75v.75h-.75zM455.7 462.9h.75v.75h-.75zM457.3 446.0h.75v.75h-.75zM456.3 452.6h.75v.75h-.75zM450.5 448.6h.75v.75h-.75zM456.5 447.7h.75v.75h-.75zM460.3 442.0h.75v.75h-.75zM448.6 447.2h.75v.75h-.75zM470.8 452.3h.75v.75h-.75zM469.0 451.9h.75v.75h-.75zM445.8 459.8h.75v.75h-.75zM455.3 457.2h.75v.75h-.75zM464.4 453.4h.75v.75h-.75zM466.6 445.1h.75v.75h-.75zM469.5 447.9h.75v.75h-.75zM445.6 457.6h.75v.75h-.75zM450.4 459.0h.75v.75h-.75zM454.4 450.1h.75v.75h-.75zM461.4 447.9h.75v.75h-.75zM450.7 450.7h.75v.75h-.75zM460.6 458.4h.75v.75h-.75zM460.8 453.3h.75v.75h-.75zM462.6 448.5h.75v.75h-.75zM449.3 449.4h.75v.75h-.75zM459.2 453.0h.75v.75h-.75zM458.4 442.8h.75v.75h-.75zM455.1 450.7h.75v.75h-.75zM466.5 446.4h.75v.75h-.75zM456.0 448.8h.75v.75h-.75zM467.6 450.0h.75v.75h-.75zM454.1 454.1h.75v.75h-.75zM469.3 463.6h.75v.75h-.75zM469.0 449.2h.75v.75h-.75zM452.7 455.9h.75v.75h-.75zM460.4 446.7h.75v.75h-.75zM460.2 442.6h.75v.75h-.75zM451.7 458.3h.75v.75h-.75zM463.4 459.7h.75v.75h-.75zM462.2 445.4h.75v.75h-.75zM452.5 452.2h.75v.75h-.75zM458.9 456.5h.75v.75h-.75zM464.2 450.3h.75v.75h-.75zM457.3 439.7h.75v.75h-.75zM453.6 457.3h.75v.75h-.75zM469.2 448.0h.75v.75h-.75zM451.9 456.3h.75v.75h-.75zM460.7 445.9h.75v.75h-.75zM465.9 453.8h.75v.75h-.75zM463.7 455.1h.75v.75h-.75zM446.3 450.4h.75v.75h-.75zM456.3 454.1h.75v.75h-.75zM457.7 448.3h.75v.75h-.75zM457.2 449.0h.75v.75h-.75zM462.7 445.8h.75v.75h-.75zM462.2 448.2h.75v.75h-.75zM459.5 447.6h.75v.75h-.75zM460.4 456.5h.75v.75h-.75zM465.4 448.5h.75v.75h-.75zM467.0 443.7h.75v.75h-.75zM446.2 460.7h.75v.75h-.75zM473.2 450.5h.75v.75h-.75zM455.1 456.8h.75v.75h-.75zM464.0 449.6h.75v.75h-.75zM448.1 457.0h.75v.75h-.75zM455.4 451.4h.75v.75h-.75zM450.5 448.4h.75v.75h-.75zM466.0 450.0h.75v.75h-.75zM464.7 450.5h.75v.75h-.75zM458.9 451.8h.75v.75h-.75zM457.8 455.5h.75v.75h-.75zM461.4 442.1h.75v.75h-.75zM452.7 454.0h.75v.75h-.75zM454.9 448.2h.75v.75h-.75zM453.8 451.0h.75v.75h-.75zM464.3 452.1h.75v.75h-.75zM459.1 451.5h.75v.75h-.75zM450.5 449.8h.75v.75h-.75zM461.2 454.4h.75v.75h-.75zM462.4 450.1h.75v.75h-.75zM468.1 453.7h.75v.75h-.75zM455.2 458.1h.75v.75h-.75zM461.6 448.9h.75v.75h-.75zM472.6 442.7h.75v.75h-.75zM456.8 452.1h.75v.75h-.75zM456.5 455.8h.75v.75h-.75zM462.3 452.0h.75v.75h-.75zM455.6 446.3h.75v.75h-.75zM458.9 443.0h.75v.75h-.75zM455.6 447.4h.75v.75h-.75zM453.7 447.8h.75v.75h-.75zM464.7 453.0h.75v.75h-.75zM456.4 452.2h.75v.75h-.75zM452.2 457.1h.75v.75h-.75zM457.0 451.3h.75v.75h-.75zM457.9 459.7h.75v.75h-.75zM460.8 450.9h.75v.75h-.75zM465.0 452.6h.75v.75h-.75zM470.5 446.6h.75v.75h-.75zM450.8 455.4h.75v.75h-.75zM457.2 457.0h.75v.75h-.75zM446.8 457.9h.75v.75h-.75zM460.3 457.2h.75v.75h-.75zM462.2 447.6h.75v.75h-.75zM454.5 454.6h.75v.75h-.75zM452.7 461.1h.75v.75h-.75zM452.2 454.1h.75v.75h-.75zM448.9 452.9h.75v.75h-.75zM462.9 449.3h.75v.75h-.75zM471.3 446.0h.75v.75h-.75zM451.2 453.9h.75v.75h-.75zM469.4 455.7h.75v.75h-.75zM457.9 453.8h.75v.75h-.75zM449.5 453.4h.75v.75h-.75zM462.3 446.7h.75v.75h-.75zM463.6 444.7h.75v.75h-.75zM461.2 462.4h.75v.75h-.75zM456.9 449.5h.75v.75h-.75zM469.6 449.4h.75v.75h-.75zM456.7 449.5h.75v.75h-.75zM462.7 451.3h.75v.75h-.75zM462.8 448.4h.75v.75h-.75zM452.6 453.3h.75v.75h-.75zM446.3 461.3h.75v.75h-.75zM447.1 450.5h.75v.75h-.75zM455.9 454.6h.75v.75h-.75zM460.8 450.5h.75v.75h-.75zM446.7 457.6h.75v.75h-.75zM453.7 449.2h.75v.75h-.75zM468.6 451.0h.75v.75h-.75zM446.6 449.3h.75v.75h-.75zM461.5 441.8h.75v.75h-.75zM460.7 444.4h.75v.75h-.75zM463.6 445.5h.75v.75h-.75zM448.7 448.1h.75v.75h-.75zM460.6 449.2h.75v.75h-.75zM449.2 458.7h.75v.75h-.75zM467.2 443.7h.75v.75h-.75zM452.7 454.7h.75v.75h-.75zM460.9 451.4h.75v.75h-.75zM453.1 449.0h.75v.75h-.75zM459.3 446.5h.75v.75h-.75zM448.2 455.6h.75v.75h-.75zM460.2 453.1h.75v.75h-.75zM462.3 448.6h.75v.75h-.75zM458.3 450.5h.75v.75h-.75zM469.0 448.7h.75v.75h-.75zM460.8 444.3h.75v.75h-.75zM463.5 450.5h.75v.75h-.75zM461.7 451.9h.75v.75h-.75zM470.7 456.8h.75v.75h-.75zM454.0 446.0h.75v.75h-.75zM456.6 447.4h.75v.75h-.75zM456.9 451.9h.75v.75h-.75zM462.5 447.4h.75v.75h-.75zM460.1 448.8h.75v.75h-.75zM463.9 449.9h.75v.75h-.75zM460.4 449.3h.75v.75h-.75zM455.0 451.8h.75v.75h-.75zM458.0 453.3h.75v.75h-.75zM461.3 442.7h.75v.75h-.75zM443.3 457.3h.75v.75h-.75zM467.6 438.2h.75v.75h-.75zM454.7 460.2h.75v.75h-.75zM456.1 456.1h.75v.75h-.75zM460.2 447.8h.75v.75h-.75zM456.9 456.4h.75v.75h-.75zM448.9 452.6h.75v.75h-.75zM457.0 453.6h.75v.75h-.75zM467.7 452.6h.75v.75h-.75zM465.5 451.2h.75v.75h-.75zM466.8 449.3h.75v.75h-.75zM454.9 455.0h.75v.75h-.75zM457.2 450.6h.75v.75h-.75zM465.6 447.7h.75v.75h-.75zM468.5 444.3h.75v.75h-.75zM458.9 442.4h.75v.75h-.75zM452.3 460.2h.75v.75h-.75zM445.9 457.8h.75v.75h-.75zM468.1 442.3h.75v.75h-.75zM448.6 455.4h.75v.75h-.75zM461.6 451.5h.75v.75h-.75zM464.7 439.2h.75v.75h-.75zM480.4 442.1h.75v.75h-.75zM460.1 450.3h.75v.75h-.75zM458.1 459.5h.75v.75h-.75zM461.9 455.7h.75v.75h-.75zM462.3 456.4h.75v.75h-.75zM467.8 450.6h.75v.75h-.75zM463.5 454.8h.75v.75h-.75zM453.8 446.7h.75v.75h-.75zM444.9 457.3h.75v.75h-.75zM460.9 454.2h.75v.75h-.75zM454.4 446.1h.75v.75h-.75zM468.4 450.2h.75v.75h-.75zM450.2 460.4h.75v.75h-.75zM460.3 460.1h.75v.75h-.75zM454.1 459.1h.75v.75h-.75zM453.1 449.1h.75v.75h-.75zM470.1 448.2h.75v.75h-.75zM460.1 448.4h.75v.75h-.75zM457.8 457.3h.75v.75h-.75zM463.9 446.0h.75v.75h-.75zM453.7 447.4h.75v.75h-.75zM456.5 444.0h.75v.75h-.75zM454.7 453.1h.75v.75h-.75zM472.3 450.2h.75v.75h-.75zM461.2 447.8h.75v.75h-.75zM463.2 446.6h.75v.75h-.75zM466.5 448.6h.75v.75h-.75zM457.7 457.9h.75v.75h-.75zM458.0 445.0h.75v.75h-.75zM448.0 453.5h.75v.75h-.75zM462.2 451.5h.75v.75h-.75zM460.7 452.6h.75v.75h-.75zM456.2 457.9h.75v.75h-.75zM467.1 453.3h.75v.75h-.75zM447.0 455.3h.75v.75h-.75zM461.8 457.6h.75v.75h-.75zM449.7 458.8h.75v.75h-.75zM451.3 454.4h.75v.75h-.75zM457.6 452.7h.75v.75h-.75zM467.9 443.5h.75v.75h-.75zM451.0 453.7h.75v.75h-.75zM452.3 449.1h.75v.75h-.75zM450.8 447.7h.75v.75h-.75zM472.5 446.8h.75v.75h-.75zM462.5 442.2h.75v.75h-.75zM461.7 446.3h.75v.75h-.75zM472.9 445.6h.75v.75h-.75zM460.7 452.4h.75v.75h-.75zM444.8 452.9h.75v.75h-.75zM455.6 453.9h.75v.75h-.75zM450.9 460.6h.75v.75h-.75zM472.6 451.9h.75v.75h-.75zM449.4 447.8h.75v.75h-.75zM461.0 442.2h.75v.75h-.75zM455.5 447.5h.75v.75h-.75zM456.0 447.5h.75v.75h-.75zM459.1 441.6h.75v.75h-.75zM458.1 443.1h.75v.75h-.75zM454.3 443.9h.75v.75h-.75zM450.6 450.1h.75v.75h-.75zM454.6 458.8h.75v.75h-.75zM451.9 460.7h.75v.75h-.75zM452.8 447.5h.75v.75h-.75zM459.7 448.5h.75v.75h-.75zM457.9 444.6h.75v.75h-.75zM462.2 442.3h.75v.75h-.75zM457.3 450.8h.75v.75h-.75zM471.9 448.0h.75v.75h-.75zM454.0 448.9h.75v.75h-.75zM452.2 455.3h.75v.75h-.75zM465.9 447.5h.75v.75h-.75zM454.2 457.0h.75v.75h-.75zM459.8 448.1h.75v.75h-.75zM465.5 453.2h.75v.75h-.75zM458.3 449.8h.75v.75h-.75zM456.5 451.8h.75v.75h-.75zM465.5 452.1h.75v.75h-.75zM461.2 443.7h.75v.75h-.75zM455.3 447.9h.75v.75h-.75zM450.8 452.1h.75v.75h-.75zM456.3 449.9h.75v.75h-.75zM447.7 454.4h.75v.75h-.75zM453.0 448.1h.75v.75h-.75zM451.5 446.0h.75v.75h-.75zM460.9 449.6h.75v.75h-.75zM464.0 450.8h.75v.75h-.75zM454.5 447.7h.75v.75h-.75zM455.9 457.1h.75v.75h-.75zM451.4 455.6h.75v.75h-.75zM449.5 456.8h.75v.75h-.75zM455.9 455.0h.75v.75h-.75zM462.7 445.7h.75v.75h-.75zM462.0 460.1h.75v.75h-.75zM462.8 446.4h.75v.75h-.75zM457.0 453.0h.75v.75h-.75zM440.4 458.5h.75v.75h-.75zM465.1 451.0h.75v.75h-.75zM467.8 449.7h.75v.75h-.75zM465.0 445.6h.75v.75h-.75zM465.0 447.6h.75v.75h-.75zM466.3 449.4h.75v.75h-.75zM477.0 453.0h.75v.75h-.75zM461.1 447.4h.75v.75h-.75zM469.4 451.9h.75v.75h-.75zM464.4 451.9h.75v.75h-.75zM463.5 450.5h.75v.75h-.75zM458.1 448.7h.75v.75h-.75zM456.6 451.0h.75v.75h-.75zM451.4 444.7h.75v.75h-.75zM462.9 450.8h.75v.75h-.75zM456.9 453.3h.75v.75h-.75zM450.9 450.7h.75v.75h-.75zM453.8 455.0h.75v.75h-.75zM451.0 454.7h.75v.75h-.75zM469.8 445.4h.75v.75h-.75zM457.3 455.8h.75v.75h-.75zM459.7 448.7h.75v.75h-.75zM450.8 464.8h.75v.75h-.75zM452.0 448.1h.75v.75h-.75zM466.1 445.9h.75v.75h-.75zM457.4 448.8h.75v.75h-.75zM460.5 452.2h.75v.75h-.75zM471.4 454.1h.75v.75h-.75zM473.1 448.6h.75v.75h-.75zM463.6 448.4h.75v.75h-.75zM462.3 459.7h.75v.75h-.75zM460.6 455.9h.75v.75h-.75zM457.1 450.5h.75v.75h-.75zM472.7 447.7h.75v.75h-.75zM450.8 446.0h.75v.75h-.75zM458.4 451.7h.75v.75h-.75zM446.0 462.6h.75v.75h-.75zM450.4 447.8h.75v.75h-.75zM461.7 444.0h.75v.75h-.75zM462.1 451.3h.75v.75h-.75zM461.3 439.4h.75v.75h-.75zM456.8 458.5h.75v.75h-.75zM454.2 445.2h.75v.75h-.75zM455.4 448.7h.75v.75h-.75zM456.4 451.1h.75v.75h-.75zM466.4 455.3h.75v.75h-.75zM468.8 450.8h.75v.75h-.75zM462.0 441.5h.75v.75h-.75zM455.4 444.0h.75v.75h-.75zM452.7 453.6h.75v.75h-.75zM461.1 440.7h.75v.75h-.75zM457.5 450.0h.75v.75h-.75zM446.7 450.0h.75v.75h-.75zM468.3 452.7h.75v.75h-.75zM458.9 456.8h.75v.75h-.75zM456.8 439.5h.75v.75h-.75zM453.1 454.4h.75v.75h-.75zM453.1 455.4h.75v.75h-.75zM465.1 445.9h.75v.75h-.75zM452.6 449.5h.75v.75h-.75zM459.6 445.0h.75v.75h-.75zM463.3 448.3h.75v.75h-.75zM471.5 450.0h.75v.75h-.75zM463.1 456.3h.75v.75h-.75zM458.8 457.8h.75v.75h-.75zM456.0 450.2h.75v.75h-.75zM464.8 445.6h.75v.75h-.75zM465.8 454.0h.75v.75h-.75zM456.1 438.3h.75v.75h-.75zM463.0 443.2h.75v.75h-.75zM458.1 454.1h.75v.75h-.75zM448.0 464.0h.75v.75h-.75zM452.2 448.6h.75v.75h-.75zM464.5 450.0h.75v.75h-.75zM468.7 443.2h.75v.75h-.75zM463.6 449.4h.75v.75h-.75zM457.6 450.8h.75v.75h-.75zM454.2 448.3h.75v.75h-.75zM462.6 451.9h.75v.75h-.75zM461.2 449.5h.75v.75h-.75zM467.3 439.5h.75v.75h-.75zM460.9 442.9h.75v.75h-.75zM451.9 455.8h.75v.75h-.75zM464.0 451.4h.75v.75h-.75zM470.5 449.8h.75v.75h-.75zM455.7 454.2h.75v.75h-.75zM474.9 442.0h.75v.75h-.75zM466.9 438.6h.75v.75h-.75zM459.6 457.2h.75v.75h-.75zM463.2 451.3h.75v.75h-.75zM459.1 457.6h.75v.75h-.75zM454.7 451.4h.75v.75h-.75zM471.1 452.7h.75v.75h-.75zM471.0 444.8h.75v.75h-.75zM458.8 450.7h.75v.75h-.75zM461.2 449.2h.75v.75h-.75zM461.0 452.5h.75v.75h-.75zM469.2 457.0h.75v.75h-.75zM476.1 450.9h.75v.75h-.75zM457.0 433.4h.75v.75h-.75zM465.7 448.6h.75v.75h-.75zM462.8 449.9h.75v.75h-.75zM468.0 453.7h.75v.75h-.75zM476.0 447.9h.75v.75h-.75zM455.1 447.2h.75v.75h-.75zM444.4 449.0h.75v.75h-.75zM461.5 448.1h.75v.75h-.75zM448.6 448.6h.75v.75h-.75zM478.1 455.3h.75v.75h-.75zM456.8 454.9h.75v.75h-.75zM460.5 450.7h.75v.75h-.75zM465.2 455.3h.75v.75h-.75zM464.9 462.6h.75v.75h-.75zM459.3 449.4h.75v.75h-.75zM463.1 449.6h.75v.75h-.75zM471.6 446.1h.75v.75h-.75zM460.3 442.9h.75v.75h-.75zM479.8 442.3h.75v.75h-.75zM466.3 443.4h.75v.75h-.75zM441.9 457.4h.75v.75h-.75zM471.2 450.8h.75v.75h-.75zM447.3 458.6h.75v.75h-.75zM466.2 444.4h.75v.75h-.75zM483.5 451.5h.75v.75h-.75zM472.9 441.7h.75v.75h-.75zM453.0 450.9h.75v.75h-.75zM455.9 459.3h.75v.75h-.75zM463.4 457.4h.75v.75h-.75zM476.3 453.7h.75v.75h-.75zM456.6 464.2h.75v.75h-.75zM473.2 454.1h.75v.75h-.75zM466.0 447.7h.75v.75h-.75zM462.3 448.7h.75v.75h-.75zM461.7 445.5h.75v.75h-.75zM478.4 448.0h.75v.75h-.75zM449.7 448.2h.75v.75h-.75zM453.0 448.3h.75v.75h-.75zM471.3 442.1h.75v.75h-.75zM472.2 437.6h.75v.75h-.75zM451.5 467.7h.75v.75h-.75zM454.9 457.2h.75v.75h-.75zM452.8 439.4h.75v.75h-.75zM468.2 451.6h.75v.75h-.75zM457.3 447.8h.75v.75h-.75zM476.1 434.0h.75v.75h-.75zM470.2 447.1h.75v.75h-.75zM465.6 450.7h.75v.75h-.75zM465.0 453.1h.75v.75h-.75zM468.1 455.6h.75v.75h-.75zM470.8 443.1h.75v.75h-.75zM463.3 449.6h.75v.75h-.75zM465.5 453.5h.75v.75h-.75zM470.3 451.7h.75v.75h-.75zM462.6 452.5h.75v.75h-.75zM472.2 448.6h.75v.75h-.75zM462.0 457.8h.75v.75h-.75zM456.3 443.7h.75v.75h-.75zM464.9 440.4h.75v.75h-.75zM478.1 457.4h.75v.75h-.75zM476.7 449.6h.75v.75h-.75zM448.8 459.9h.75v.75h-.75zM465.9 450.8h.75v.75h-.75zM458.7 448.8h.75v.75h-.75zM460.2 447.9h.75v.75h-.75zM460.0 451.6h.75v.75h-.75zM461.0 447.6h.75v.75h-.75zM458.4 450.7h.75v.75h-.75zM460.6 450.1h.75v.75h-.75zM465.1 454.7h.75v.75h-.75zM452.2 457.4h.75v.75h-.75zM451.9 462.4h.75v.75h-.75zM452.9 448.0h.75v.75h-.75zM452.8 452.2h.75v.75h-.75zM468.4 454.9h.75v.75h-.75zM453.0 454.5h.75v.75h-.75zM462.3 435.5h.75v.75h-.75zM463.6 452.4h.75v.75h-.75zM469.4 448.8h.75v.75h-.75zM463.2 447.3h.75v.75h-.75zM472.5 445.7h.75v.75h-.75zM462.5 446.0h.75v.75h-.75zM465.2 457.0h.75v.75h-.75zM469.8 453.1h.75v.75h-.75zM449.9 454.5h.75v.75h-.75zM466.5 456.5h.75v.75h-.75zM476.6 453.2h.75v.75h-.75zM464.0 445.2h.75v.75h-.75zM460.8 444.5h.75v.75h-.75zM480.1 440.6h.75v.75h-.75zM463.9 454.9h.75v.75h-.75zM474.1 448.0h.75v.75h-.75zM441.6 462.6h.75v.75h-.75zM463.9 453.5h.75v.75h-.75zM458.5 450.3h.75v.75h-.75zM466.5 442.1h.75v.75h-.75zM473.7 446.7h.75v.75h-.75zM461.7 464.5h.75v.75h-.75zM461.0 446.8h.75v.75h-.75zM437.6 451.1h.75v.75h-.75zM470.1 447.7h.75v.75h-.75zM475.0 456.3h.75v.75h-.75zM464.4 450.1h.75v.75h-.75zM458.7 444.8h.75v.75h-.75zM466.3 446.2h.75v.75h-.75zM472.3 447.8h.75v.75h-.75zM468.8 449.9h.75v.75h-.75zM481.7 452.8h.75v.75h-.75zM458.0 466.9h.75v.75h-.75zM450.8 461.6h.75v.75h-.75zM467.4 453.6h.75v.75h-.75zM474.5 448.0h.75v.75h-.75zM458.9 446.6h.75v.75h-.75zM463.1 454.1h.75v.75h-.75zM457.2 459.7h.75v.75h-.75zM451.7 458.1h.75v.75h-.75zM456.4 451.3h.75v.75h-.75zM444.4 458.7h.75v.75h-.75zM465.5 448.8h.75v.75h-.75zM467.2 448.8h.75v.75h-.75zM471.0 447.5h.75v.75h-.75zM455.5 452.7h.75v.75h-.75zM457.2 451.4h.75v.75h-.75zM447.8 460.0h.75v.75h-.75zM449.8 453.5h.75v.75h-.75zM471.0 448.3h.75v.75h-.75zM488.4 451.4h.75v.75h-.75zM453.4 456.8h.75v.75h-.75zM459.4 458.2h.75v.75h-.75zM471.3 444.1h.75v.75h-.75zM456.7 459.9h.75v.75h-.75zM468.2 449.3h.75v.75h-.75zM460.2 444.7h.75v.75h-.75zM460.2 450.1h.75v.75h-.75zM471.1 441.2h.75v.75h-.75zM460.6 444.9h.75v.75h-.75zM451.5 450.4h.75v.75h-.75zM470.4 454.6h.75v.75h-.75zM463.2 442.2h.75v.75h-.75zM458.0 453.2h.75v.75h-.75zM455.7 450.4h.75v.75h-.75zM468.2 458.7h.75v.75h-.75zM456.5 452.9h.75v.75h-.75zM464.0 453.8h.75v.75h-.75zM472.0 456.9h.75v.75h-.75zM462.0 443.9h.75v.75h-.75zM472.8 446.1h.75v.75h-.75zM450.5 444.0h.75v.75h-.75zM468.4 444.0h.75v.75h-.75zM467.7 451.2h.75v.75h-.75zM479.8 445.6h.75v.75h-.75zM463.2 452.7h.75v.75h-.75zM471.0 446.1h.75v.75h-.75zM461.5 446.4h.75v.75h-.75zM453.4 451.4h.75v.75h-.75zM455.1 446.6h.75v.75h-.75zM456.6 444.8h.75v.75h-.75zM470.0 439.0h.75v.75h-.75zM456.0 450.8h.75v.75h-.75zM463.4 452.6h.75v.75h-.75zM471.1 440.9h.75v.75h-.75zM474.2 444.7h.75v.75h-.75zM471.4 434.2h.75v.75h-.75zM476.4 439.8h.75v.75h-.75zM452.8 452.4h.75v.75h-.75zM458.6 442.9h.75v.75h-.75zM465.9 451.7h.75v.75h-.75zM473.0 445.1h.75v.75h-.75zM467.5 450.9h.75v.75h-.75zM456.1 447.9h.75v.75h-.75zM461.3 441.5h.75v.75h-.75zM448.1 452.8h.75v.75h-.75zM470.3 452.4h.75v.75h-.75zM446.9 450.0h.75v.75h-.75zM464.9 451.5h.75v.75h-.75zM472.7 443.3h.75v.75h-.75zM471.1 445.8h.75v.75h-.75zM448.5 460.3h.75v.75h-.75zM464.9 449.1h.75v.75h-.75zM459.9 444.7h.75v.75h-.75zM460.3 453.5h.75v.75h-.75zM477.8 446.7h.75v.75h-.75zM465.6 445.9h.75v.75h-.75zM450.1 456.6h.75v.75h-.75zM453.3 434.3h.75v.75h-.75zM469.4 451.7h.75v.75h-.75zM465.0 460.6h.75v.75h-.75zM452.8 453.6h.75v.75h-.75zM447.9 441.6h.75v.75h-.75zM458.0 458.9h.75v.75h-.75zM459.0 465.6h.75v.75h-.75zM470.3 451.5h.75v.75h-.75zM457.4 444.5h.75v.75h-.75zM468.9 444.4h.75v.75h-.75zM473.8 446.6h.75v.75h-.75zM448.5 454.0h.75v.75h-.75zM457.6 457.9h.75v.75h-.75zM476.9 450.1h.75v.75h-.75zM458.9 437.1h.75v.75h-.75zM462.7 448.0h.75v.75h-.75zM471.5 447.0h.75v.75h-.75zM456.0 462.4h.75v.75h-.75zM459.1 447.1h.75v.75h-.75zM447.9 444.7h.75v.75h-.75zM467.8 446.9h.75v.75h-.75zM458.4 452.4h.75v.75h-.75zM459.4 439.5h.75v.75h-.75zM439.5 461.4h.75v.75h-.75zM471.4 447.1h.75v.75h-.75zM468.9 453.4h.75v.75h-.75zM455.5 455.5h.75v.75h-.75zM473.7 450.7h.75v.75h-.75zM440.5 463.1h.75v.75h-.75zM462.0 460.0h.75v.75h-.75zM447.4 450.7h.75v.75h-.75zM487.1 444.1h.75v.75h-.75zM439.0 461.3h.75v.75h-.75zM451.5 453.2h.75v.75h-.75zM455.7 447.8h.75v.75h-.75zM469.7 449.0h.75v.75h-.75zM470.0 443.2h.75v.75h-.75zM465.9 446.2h.75v.75h-.75zM460.2 429.8h.75v.75h-.75zM481.7 446.6h.75v.75h-.75zM455.9 462.5h.75v.75h-.75zM465.2 453.8h.75v.75h-.75zM478.2 450.7h.75v.75h-.75zM451.3 453.5h.75v.75h-.75zM455.1 447.0h.75v.75h-.75zM472.3 450.9h.75v.75h-.75zM466.5 449.5h.75v.75h-.75zM450.5 451.8h.75v.75h-.75zM462.6 451.5h.75v.75h-.75zM479.7 442.9h.75v.75h-.75zM460.0 451.4h.75v.75h-.75zM469.6 452.4h.75v.75h-.75zM463.5 455.8h.75v.75h-.75zM456.1 452.3h.75v.75h-.75zM476.9 451.9h.75v.75h-.75zM471.1 449.3h.75v.75h-.75zM473.1 434.1h.75v.75h-.75zM460.9 438.7h.75v.75h-.75zM463.2 448.7h.75v.75h-.75zM464.3 442.9h.75v.75h-.75zM466.3 452.7h.75v.75h-.75zM459.2 442.8h.75v.75h-.75zM457.7 448.6h.75v.75h-.75zM474.1 444.2h.75v.75h-.75zM452.3 447.8h.75v.75h-.75zM458.2 447.5h.75v.75h-.75zM458.8 450.7h.75v.75h-.75zM457.6 451.7h.75v.75h-.75zM451.3 449.3h.75v.75h-.75zM455.3 452.7h.75v.75h-.75zM469.5 451.8h.75v.75h-.75zM459.0 449.7h.75v.75h-.75zM455.5 447.4h.75v.75h-.75zM477.3 442.8h.75v.75h-.75zM450.1 449.9h.75v.75h-.75zM471.6 444.9h.75v.75h-.75zM465.4 449.9h.75v.75h-.75zM458.6 457.7h.75v.75h-.75zM458.7 451.2h.75v.75h-.75zM473.9 451.3h.75v.75h-.75zM470.5 452.0h.75v.75h-.75zM459.7 458.4h.75v.75h-.75zM451.6 461.1h.75v.75h-.75zM446.9 447.7h.75v.75h-.75zM460.6 464.1h.75v.75h-.75zM449.5 447.9h.75v.75h-.75zM460.6 451.2h.75v.75h-.75zM460.3 445.7h.75v.75h-.75zM465.6 439.3h.75v.75h-.75zM471.2 437.6h.75v.75h-.75zM463.2 462.1h.75v.75h-.75zM466.4 458.4h.75v.75h-.75zM460.6 444.7h.75v.75h-.75zM471.6 441.6h.75v.75h-.75zM469.5 457.8h.75v.75h-.75zM476.6 441.4h.75v.75h-.75zM474.6 450.5h.75v.75h-.75zM455.6 464.1h.75v.75h-.75zM449.0 457.9h.75v.75h-.75zM468.0 458.2h.75v.75h-.75zM472.5 449.5h.75v.75h-.75zM456.1 441.4h.75v.75h-.75zM475.7 442.5h.75v.75h-.75zM463.1 439.4h.75v.75h-.75zM461.4 452.5h.75v.75h-.75zM465.4 441.7h.75v.75h-.75zM449.5 453.9h.75v.75h-.75zM447.3 450.5h.75v.75h-.75zM459.0 446.8h.75v.75h-.75zM451.5 455.7h.75v.75h-.75zM461.9 447.5h.75v.75h-.75zM462.0 445.3h.75v.75h-.75zM438.8 461.4h.75v.75h-.75zM454.7 451.7h.75v.75h-.75zM466.7 440.3h.75v.75h-.75zM440.9 462.1h.75v.75h-.75zM458.9 442.4h.75v.75h-.75zM449.7 454.4h.75v.75h-.75zM444.2 457.3h.75v.75h-.75zM471.9 446.5h.75v.75h-.75zM471.6 443.1h.75v.75h-.75zM458.0 449.1h.75v.75h-.75zM457.3 449.1h.75v.75h-.75zM474.4 440.8h.75v.75h-.75zM472.6 453.1h.75v.75h-.75zM461.7 446.6h.75v.75h-.75zM469.6 444.2h.75v.75h-.75zM462.7 458.4h.75v.75h-.75zM459.0 446.4h.75v.75h-.75zM467.4 439.7h.75v.75h-.75zM457.9 450.7h.75v.75h-.75zM467.1 449.2h.75v.75h-.75zM459.5 450.9h.75v.75h-.75zM457.6 463.9h.75v.75h-.75zM456.6 448.0h.75v.75h-.75zM465.9 457.6h.75v.75h-.75zM470.2 453.8h.75v.75h-.75zM465.6 458.3h.75v.75h-.75zM453.9 451.4h.75v.75h-.75zM467.3 447.2h.75v.75h-.75zM453.7 450.9h.75v.75h-.75zM451.6 454.5h.75v.75h-.75zM460.0 456.6h.75v.75h-.75zM469.1 458.9h.75v.75h-.75zM468.0 438.2h.75v.75h-.75zM466.8 455.8h.75v.75h-.75zM474.2 450.0h.75v.75h-.75zM469.6 449.0h.75v.75h-.75zM458.6 444.8h.75v.75h-.75zM468.9 451.0h.75v.75h-.75zM459.5 439.8h.75v.75h-.75zM465.5 457.3h.75v.75h-.75zM467.3 443.6h.75v.75h-.75zM461.3 449.8h.75v.75h-.75zM448.6 452.3h.75v.75h-.75zM460.7 454.2h.75v.75h-.75zM459.3 442.9h.75v.75h-.75zM461.1 455.7h.75v.75h-.75zM458.3 453.7h.75v.75h-.75zM452.0 462.0h.75v.75h-.75zM447.7 455.3h.75v.75h-.75zM468.1 448.3h.75v.75h-.75zM469.3 437.3h.75v.75h-.75zM465.6 447.4h.75v.75h-.75zM461.8 460.5h.75v.75h-.75zM479.8 443.8h.75v.75h-.75zM468.2 446.0h.75v.75h-.75zM462.5 449.4h.75v.75h-.75zM469.8 453.9h.75v.75h-.75zM461.7 439.7h.75v.75h-.75zM468.6 460.0h.75v.75h-.75zM464.9 453.4h.75v.75h-.75zM467.2 453.7h.75v.75h-.75zM463.0 450.1h.75v.75h-.75zM458.4 463.2h.75v.75h-.75zM467.0 446.6h.75v.75h-.75zM472.5 453.1h.75v.75h-.75zM454.3 452.7h.75v.75h-.75zM457.8 443.6h.75v.75h-.75zM452.8 451.6h.75v.75h-.75zM470.3 453.0h.75v.75h-.75zM460.6 449.0h.75v.75h-.75zM470.5 446.1h.75v.75h-.75zM455.5 451.7h.75v.75h-.75zM469.9 443.4h.75v.75h-.75zM457.4 444.6h.75v.75h-.75zM458.4 451.6h.75v.75h-.75zM467.4 443.5h.75v.75h-.75zM459.1 454.5h.75v.75h-.75zM457.3 455.8h.75v.75h-.75zM470.6 456.4h.75v.75h-.75zM462.0 456.4h.75v.75h-.75zM473.7 446.2h.75v.75h-.75zM485.2 447.9h.75v.75h-.75zM457.6 444.4h.75v.75h-.75zM459.6 453.6h.75v.75h-.75zM471.7 450.5h.75v.75h-.75zM480.8 439.1h.75v.75h-.75zM470.7 447.0h.75v.75h-.75zM475.0 449.7h.75v.75h-.75zM470.4 442.6h.75v.75h-.75zM477.2 439.2h.75v.75h-.75zM477.3 430.6h.75v.75h-.75zM469.2 445.5h.75v.75h-.75zM483.8 441.9h.75v.75h-.75zM476.6 452.2h.75v.75h-.75zM467.1 441.9h.75v.75h-.75zM469.7 439.2h.75v.75h-.75zM465.1 458.7h.75v.75h-.75zM464.3 458.3h.75v.75h-.75zM473.4 439.7h.75v.75h-.75zM463.8 447.9h.75v.75h-.75zM476.0 434.1h.75v.75h-.75zM466.1 449.8h.75v.75h-.75zM472.2 456.2h.75v.75h-.75zM482.6 448.6h.75v.75h-.75zM472.4 440.7h.75v.75h-.75zM473.9 448.8h.75v.75h-.75zM480.2 439.6h.75v.75h-.75zM472.5 449.7h.75v.75h-.75zM476.7 442.2h.75v.75h-.75zM470.1 452.8h.75v.75h-.75zM472.2 456.0h.75v.75h-.75zM474.7 448.8h.75v.75h-.75zM474.1 449.3h.75v.75h-.75zM470.3 451.1h.75v.75h-.75zM475.2 452.3h.75v.75h-.75zM477.1 443.0h.75v.75h-.75zM477.2 444.5h.75v.75h-.75zM474.3 445.9h.75v.75h-.75zM469.4 457.6h.75v.75h-.75zM477.4 446.6h.75v.75h-.75zM478.3 449.0h.75v.75h-.75zM469.2 446.6h.75v.75h-.75zM462.7 442.8h.75v.75h-.75zM473.1 445.4h.75v.75h-.75zM479.1 448.1h.75v.75h-.75zM478.3 443.2h.75v.75h-.75zM468.2 445.7h.75v.75h-.75zM480.6 441.8h.75v.75h-.75zM469.6 452.3h.75v.75h-.75zM478.6 448.0h.75v.75h-.75zM471.9 447.9h.75v.75h-.75zM478.8 438.8h.75v.75h-.75zM476.5 441.5h.75v.75h-.75zM477.5 444.5h.75v.75h-.75zM470.7 452.5h.75v.75h-.75zM472.1 449.9h.75v.75h-.75zM472.4 438.6h.75v.75h-.75zM469.7 457.6h.75v.75h-.75zM478.5 445.7h.75v.75h-.75zM478.5 439.3h.75v.75h-.75zM473.9 452.1h.75v.75h-.75zM469.1 445.4h.75v.75h-.75zM476.2 448.2h.75v.75h-.75zM475.3 437.8h.75v.75h-.75zM477.0 444.6h.75v.75h-.75zM473.8 451.5h.75v.75h-.75zM472.8 444.3h.75v.75h-.75zM480.7 434.9h.75v.75h-.75zM470.9 442.9h.75v.75h-.75zM472.9 451.9h.75v.75h-.75zM465.0 440.3h.75v.75h-.75zM472.0 438.7h.75v.75h-.75zM471.5 453.1h.75v.75h-.75zM472.2 448.5h.75v.75h-.75zM476.7 445.5h.75v.75h-.75zM470.8 445.4h.75v.75h-.75zM475.9 448.7h.75v.75h-.75zM471.9 453.3h.75v.75h-.75zM471.6 450.9h.75v.75h-.75zM464.6 439.4h.75v.75h-.75zM475.8 450.4h.75v.75h-.75zM476.8 434.9h.75v.75h-.75zM468.9 460.4h.75v.75h-.75zM470.8 445.4h.75v.75h-.75zM464.7 454.8h.75v.75h-.75zM471.9 450.0h.75v.75h-.75zM468.2 445.2h.75v.75h-.75zM475.5 454.2h.75v.75h-.75zM473.0 448.9h.75v.75h-.75zM476.5 459.9h.75v.75h-.75zM469.4 453.3h.75v.75h-.75zM465.1 453.0h.75v.75h-.75zM473.1 464.0h.75v.75h-.75zM470.6 457.8h.75v.75h-.75zM482.5 443.7h.75v.75h-.75zM474.6 441.7h.75v.75h-.75zM480.5 457.2h.75v.75h-.75zM476.1 454.5h.75v.75h-.75zM471.9 456.2h.75v.75h-.75zM466.0 448.5h.75v.75h-.75zM472.3 444.0h.75v.75h-.75zM476.5 440.4h.75v.75h-.75zM473.9 454.9h.75v.75h-.75zM475.1 445.8h.75v.75h-.75zM475.0 451.2h.75v.75h-.75zM466.9 435.9h.75v.75h-.75zM475.0 453.7h.75v.75h-.75zM469.5 444.4h.75v.75h-.75zM473.3 429.6h.75v.75h-.75zM480.2 436.1h.75v.75h-.75zM463.8 454.2h.75v.75h-.75zM472.2 458.0h.75v.75h-.75zM475.2 428.4h.75v.75h-.75zM478.8 436.0h.75v.75h-.75zM473.8 448.0h.75v.75h-.75zM469.4 438.6h.75v.75h-.75zM477.4 442.7h.75v.75h-.75zM476.3 439.1h.75v.75h-.75zM464.8 451.4h.75v.75h-.75zM473.9 437.1h.75v.75h-.75zM465.1 448.3h.75v.75h-.75zM460.6 446.9h.75v.75h-.75zM468.6 449.9h.75v.75h-.75zM468.9 448.5h.75v.75h-.75zM463.1 458.1h.75v.75h-.75zM482.8 444.7h.75v.75h-.75zM467.1 461.4h.75v.75h-.75zM475.5 435.6h.75v.75h-.75zM477.2 443.8h.75v.75h-.75zM484.4 447.6h.75v.75h-.75zM472.0 448.4h.75v.75h-.75zM481.7 426.1h.75v.75h-.75zM468.1 451.5h.75v.75h-.75zM473.6 443.8h.75v.75h-.75zM471.8 464.2h.75v.75h-.75zM468.9 448.4h.75v.75h-.75zM475.5 450.8h.75v.75h-.75zM483.3 436.7h.75v.75h-.75zM484.4 447.2h.75v.75h-.75zM477.3 427.0h.75v.75h-.75zM468.3 442.5h.75v.75h-.75zM469.9 446.1h.75v.75h-.75zM476.9 435.0h.75v.75h-.75zM476.8 452.3h.75v.75h-.75zM476.7 445.9h.75v.75h-.75zM472.6 458.6h.75v.75h-.75zM469.4 439.4h.75v.75h-.75zM476.2 440.5h.75v.75h-.75zM473.8 451.4h.75v.75h-.75zM481.0 440.7h.75v.75h-.75zM470.5 454.0h.75v.75h-.75zM478.2 449.6h.75v.75h-.75zM480.7 439.2h.75v.75h-.75zM483.8 443.7h.75v.75h-.75zM483.7 446.5h.75v.75h-.75zM468.8 450.8h.75v.75h-.75zM468.1 448.1h.75v.75h-.75zM474.7 443.5h.75v.75h-.75zM469.6 447.4h.75v.75h-.75zM462.1 458.6h.75v.75h-.75zM481.3 457.8h.75v.75h-.75zM476.5 436.5h.75v.75h-.75zM479.1 438.1h.75v.75h-.75zM474.9 445.6h.75v.75h-.75zM479.8 454.4h.75v.75h-.75zM475.3 440.8h.75v.75h-.75zM474.7 462.4h.75v.75h-.75zM483.6 458.4h.75v.75h-.75zM468.3 433.5h.75v.75h-.75zM476.7 450.6h.75v.75h-.75zM466.1 454.5h.75v.75h-.75zM481.5 441.2h.75v.75h-.75zM472.9 435.2h.75v.75h-.75zM468.0 451.5h.75v.75h-.75zM464.9 448.3h.75v.75h-.75zM472.9 455.6h.75v.75h-.75zM483.8 446.9h.75v.75h-.75zM476.5 439.9h.75v.75h-.75zM466.2 463.7h.75v.75h-.75zM463.8 463.9h.75v.75h-.75zM488.1 451.4h.75v.75h-.75zM471.1 449.0h.75v.75h-.75zM466.6 456.8h.75v.75h-.75zM474.7 447.8h.75v.75h-.75zM476.9 442.5h.75v.75h-.75zM481.9 431.5h.75v.75h-.75zM472.9 449.7h.75v.75h-.75zM470.4 435.6h.75v.75h-.75zM477.3 450.8h.75v.75h-.75zM469.9 440.0h.75v.75h-.75zM475.7 448.2h.75v.75h-.75zM474.8 445.2h.75v.75h-.75zM478.9 437.7h.75v.75h-.75zM470.4 442.0h.75v.75h-.75zM470.5 445.0h.75v.75h-.75zM475.4 456.9h.75v.75h-.75zM476.3 449.0h.75v.75h-.75zM466.5 448.7h.75v.75h-.75zM469.8 454.7h.75v.75h-.75zM474.8 439.2h.75v.75h-.75zM472.0 438.0h.75v.75h-.75zM485.4 436.5h.75v.75h-.75zM477.5 452.8h.75v.75h-.75zM480.2 442.7h.75v.75h-.75zM473.5 448.2h.75v.75h-.75zM474.3 447.9h.75v.75h-.75zM474.5 444.1h.75v.75h-.75zM479.2 453.4h.75v.75h-.75zM472.2 452.7h.75v.75h-.75zM481.8 438.0h.75v.75h-.75zM470.2 441.8h.75v.75h-.75zM478.9 444.7h.75v.75h-.75zM475.2 440.3h.75v.75h-.75zM472.1 447.8h.75v.75h-.75zM481.9 448.7h.75v.75h-.75zM478.8 445.4h.75v.75h-.75zM473.0 448.7h.75v.75h-.75zM470.0 445.3h.75v.75h-.75zM478.1 439.8h.75v.75h-.75zM469.9 441.8h.75v.75h-.75zM476.7 454.7h.75v.75h-.75zM469.4 443.7h.75v.75h-.75zM474.5 447.4h.75v.75h-.75zM469.6 449.6h.75v.75h-.75zM472.9 450.4h.75v.75h-.75zM482.2 441.3h.75v.75h-.75zM482.7 432.4h.75v.75h-.75zM471.5 462.2h.75v.75h-.75zM472.6 440.3h.75v.75h-.75zM465.5 454.6h.75v.75h-.75zM475.4 439.1h.75v.75h-.75zM479.6 449.2h.75v.75h-.75zM469.6 441.5h.75v.75h-.75zM469.3 460.5h.75v.75h-.75zM475.7 449.4h.75v.75h-.75zM471.1 437.4h.75v.75h-.75zM474.9 458.1h.75v.75h-.75zM481.7 430.8h.75v.75h-.75zM476.3 443.7h.75v.75h-.75zM477.3 453.1h.75v.75h-.75zM483.4 440.4h.75v.75h-.75zM475.2 455.2h.75v.75h-.75zM477.4 445.8h.75v.75h-.75zM474.3 442.8h.75v.75h-.75zM470.2 457.1h.75v.75h-.75zM482.0 443.9h.75v.75h-.75zM467.0 446.6h.75v.75h-.75zM474.4 453.2h.75v.75h-.75zM468.1 447.6h.75v.75h-.75zM469.8 439.3h.75v.75h-.75zM467.5 444.7h.75v.75h-.75zM472.7 464.4h.75v.75h-.75zM476.3 461.6h.75v.75h-.75zM480.5 433.5h.75v.75h-.75zM464.5 456.3h.75v.75h-.75zM475.1 454.9h.75v.75h-.75zM472.0 445.8h.75v.75h-.75zM470.9 452.9h.75v.75h-.75zM473.4 440.1h.75v.75h-.75zM475.0 444.2h.75v.75h-.75zM473.4 454.3h.75v.75h-.75zM474.0 446.4h.75v.75h-.75zM485.0 441.1h.75v.75h-.75zM474.5 444.9h.75v.75h-.75zM475.7 436.9h.75v.75h-.75zM468.2 442.2h.75v.75h-.75zM479.5 440.8h.75v.75h-.75zM471.4 446.9h.75v.75h-.75zM473.5 441.0h.75v.75h-.75zM470.1 461.3h.75v.75h-.75zM473.5 434.8h.75v.75h-.75zM469.3 441.3h.75v.75h-.75zM467.5 445.0h.75v.75h-.75zM467.0 453.3h.75v.75h-.75zM472.1 437.6h.75v.75h-.75zM474.1 448.4h.75v.75h-.75zM477.6 439.3h.75v.75h-.75zM482.3 437.8h.75v.75h-.75zM483.3 445.8h.75v.75h-.75zM470.8 453.7h.75v.75h-.75zM470.5 455.3h.75v.75h-.75zM477.8 437.1h.75v.75h-.75zM469.6 455.7h.75v.75h-.75zM479.7 451.6h.75v.75h-.75zM479.3 446.8h.75v.75h-.75zM469.3 451.9h.75v.75h-.75zM477.9 445.5h.75v.75h-.75zM481.3 442.8h.75v.75h-.75zM476.4 451.8h.75v.75h-.75zM472.7 458.9h.75v.75h-.75zM473.3 445.4h.75v.75h-.75zM476.5 448.3h.75v.75h-.75zM470.5 454.9h.75v.75h-.75zM475.9 436.6h.75v.75h-.75zM473.0 458.7h.75v.75h-.75zM470.5 451.0h.75v.75h-.75zM469.3 459.0h.75v.75h-.75zM477.0 443.8h.75v.75h-.75zM469.7 442.9h.75v.75h-.75zM475.3 445.5h.75v.75h-.75zM465.0 453.0h.75v.75h-.75zM473.2 441.0h.75v.75h-.75zM474.8 453.1h.75v.75h-.75zM476.0 448.2h.75v.75h-.75zM478.9 437.8h.75v.75h-.75zM476.8 449.2h.75v.75h-.75zM477.0 444.9h.75v.75h-.75zM472.9 447.9h.75v.75h-.75zM469.1 446.5h.75v.75h-.75zM468.4 444.6h.75v.75h-.75zM470.4 440.3h.75v.75h-.75zM475.4 447.4h.75v.75h-.75zM479.2 445.4h.75v.75h-.75zM476.0 449.8h.75v.75h-.75zM475.2 441.9h.75v.75h-.75zM478.0 448.6h.75v.75h-.75zM472.6 453.7h.75v.75h-.75zM475.1 438.8h.75v.75h-.75zM473.7 448.8h.75v.75h-.75zM475.3 462.0h.75v.75h-.75zM473.1 444.1h.75v.75h-.75zM467.8 447.7h.75v.75h-.75zM472.3 447.6h.75v.75h-.75zM470.2 445.2h.75v.75h-.75zM482.8 449.4h.75v.75h-.75zM481.3 443.5h.75v.75h-.75zM471.1 447.6h.75v.75h-.75zM470.0 443.4h.75v.75h-.75zM474.3 450.7h.75v.75h-.75zM466.8 449.5h.75v.75h-.75zM480.4 441.6h.75v.75h-.75zM473.9 444.9h.75v.75h-.75zM471.8 458.9h.75v.75h-.75zM479.3 444.8h.75v.75h-.75zM480.5 446.2h.75v.75h-.75zM474.9 455.9h.75v.75h-.75zM479.1 444.2h.75v.75h-.75zM465.9 457.0h.75v.75h-.75zM470.3 441.7h.75v.75h-.75zM469.9 453.3h.75v.75h-.75zM466.1 435.9h.75v.75h-.75zM478.4 446.2h.75v.75h-.75zM486.0 439.1h.75v.75h-.75zM467.5 444.9h.75v.75h-.75zM471.3 455.6h.75v.75h-.75zM479.3 449.8h.75v.75h-.75zM472.6 453.5h.75v.75h-.75zM474.0 457.3h.75v.75h-.75zM470.1 452.3h.75v.75h-.75zM475.7 450.3h.75v.75h-.75zM469.2 448.6h.75v.75h-.75zM477.8 458.3h.75v.75h-.75zM476.6 452.0h.75v.75h-.75zM473.7 451.3h.75v.75h-.75zM473.0 434.4h.75v.75h-.75zM474.0 452.1h.75v.75h-.75zM474.0 451.2h.75v.75h-.75zM490.6 440.9h.75v.75h-.75zM482.4 451.3h.75v.75h-.75zM488.7 441.6h.75v.75h-.75zM473.8 463.6h.75v.75h-.75zM473.7 453.9h.75v.75h-.75zM489.9 427.6h.75v.75h-.75zM463.6 442.4h.75v.75h-.75zM470.2 464.7h.75v.75h-.75zM462.7 447.0h.75v.75h-.75zM474.4 451.1h.75v.75h-.75zM500.9 432.7h.75v.75h-.75zM473.6 462.2h.75v.75h-.75zM488.4 452.8h.75v.75h-.75zM493.3 448.3h.75v.75h-.75zM474.5 444.0h.75v.75h-.75zM474.1 445.2h.75v.75h-.75zM482.6 457.9h.75v.75h-.75zM485.4 438.7h.75v.75h-.75zM467.1 430.7h.75v.75h-.75zM473.3 463.1h.75v.75h-.75zM493.3 450.1h.75v.75h-.75zM473.3 436.3h.75v.75h-.75zM482.9 447.5h.75v.75h-.75zM488.3 448.6h.75v.75h-.75zM477.2 449.1h.75v.75h-.75zM478.5 462.2h.75v.75h-.75zM475.4 459.5h.75v.75h-.75zM474.5 440.8h.75v.75h-.75zM474.9 446.7h.75v.75h-.75zM466.6 459.9h.75v.75h-.75zM475.8 456.6h.75v.75h-.75zM478.1 443.7h.75v.75h-.75zM485.7 454.7h.75v.75h-.75zM476.5 439.7h.75v.75h-.75zM474.5 456.0h.75v.75h-.75zM495.3 423.9h.75v.75h-.75zM479.8 450.8h.75v.75h-.75zM478.0 466.2h.75v.75h-.75zM475.6 462.1h.75v.75h-.75zM479.9 438.6h.75v.75h-.75zM472.9 421.0h.75v.75h-.75zM475.7 450.4h.75v.75h-.75zM473.0 458.9h.75v.75h-.75zM470.0 450.9h.75v.75h-.75zM476.3 449.8h.75v.75h-.75zM468.7 437.4h.75v.75h-.75zM493.9 435.8h.75v.75h-.75zM470.5 437.5h.75v.75h-.75zM494.2 428.5h.75v.75h-.75zM482.5 439.8h.75v.75h-.75zM487.1 456.6h.75v.75h-.75zM491.7 444.9h.75v.75h-.75zM466.5 443.5h.75v.75h-.75zM493.2 439.3h.75v.75h-.75zM483.9 435.3h.75v.75h-.75zM476.1 441.7h.75v.75h-.75zM473.9 449.7h.75v.75h-.75zM482.9 430.3h.75v.75h-.75zM467.1 453.2h.75v.75h-.75zM494.6 434.1h.75v.75h-.75zM478.8 456.2h.75v.75h-.75zM486.5 434.3h.75v.75h-.75zM481.2 447.1h.75v.75h-.75zM476.8 438.6h.75v.75h-.75zM477.2 451.4h.75v.75h-.75zM473.3 431.5h.75v.75h-.75zM490.5 436.5h.75v.75h-.75zM480.3 437.2h.75v.75h-.75zM484.6 428.8h.75v.75h-.75zM484.2 440.4h.75v.75h-.75zM485.9 441.4h.75v.75h-.75zM484.1 438.3h.75v.75h-.75zM490.7 431.8h.75v.75h-.75zM475.3 440.7h.75v.75h-.75zM472.5 441.4h.75v.75h-.75zM479.6 455.4h.75v.75h-.75zM477.9 451.2h.75v.75h-.75zM481.0 457.5h.75v.75h-.75zM490.0 450.7h.75v.75h-.75zM488.4 459.6h.75v.75h-.75zM485.2 444.4h.75v.75h-.75zM474.3 450.8h.75v.75h-.75zM484.7 445.2h.75v.75h-.75zM482.1 441.8h.75v.75h-.75zM486.7 449.9h.75v.75h-.75zM480.6 449.7h.75v.75h-.75zM477.5 451.9h.75v.75h-.75zM481.7 448.3h.75v.75h-.75zM474.8 458.2h.75v.75h-.75zM473.6 435.8h.75v.75h-.75zM482.5 451.0h.75v.75h-.75zM480.7 446.0h.75v.75h-.75zM488.7 437.5h.75v.75h-.75zM481.9 442.8h.75v.75h-.75zM471.2 454.6h.75v.75h-.75zM491.6 450.0h.75v.75h-.75zM493.7 439.4h.75v.75h-.75zM471.8 456.4h.75v.75h-.75zM475.8 451.7h.75v.75h-.75zM488.5 453.2h.75v.75h-.75zM482.1 455.5h.75v.75h-.75zM468.8 458.2h.75v.75h-.75zM489.6 439.9h.75v.75h-.75zM481.3 435.9h.75v.75h-.75zM483.1 458.5h.75v.75h-.75zM489.9 435.4h.75v.75h-.75zM475.2 456.3h.75v.75h-.75zM474.7 449.5h.75v.75h-.75zM485.7 460.0h.75v.75h-.75zM487.9 442.8h.75v.75h-.75zM481.3 443.5h.75v.75h-.75zM489.7 424.0h.75v.75h-.75zM483.8 451.2h.75v.75h-.75zM489.1 443.3h.75v.75h-.75zM473.9 443.5h.75v.75h-.75zM478.7 443.7h.75v.75h-.75zM488.8 455.4h.75v.75h-.75zM473.6 453.0h.75v.75h-.75zM474.0 457.0h.75v.75h-.75zM481.4 444.2h.75v.75h-.75zM478.1 450.6h.75v.75h-.75zM472.8 458.5h.75v.75h-.75zM467.2 449.2h.75v.75h-.75zM491.1 454.9h.75v.75h-.75zM480.7 444.6h.75v.75h-.75zM491.6 460.7h.75v.75h-.75zM473.2 444.6h.75v.75h-.75zM480.8 442.7h.75v.75h-.75zM479.0 448.8h.75v.75h-.75zM481.0 443.7h.75v.75h-.75zM467.7 451.0h.75v.75h-.75zM489.9 443.4h.75v.75h-.75zM477.9 459.5h.75v.75h-.75zM481.9 442.1h.75v.75h-.75zM472.3 461.2h.75v.75h-.75zM492.3 450.9h.75v.75h-.75zM468.0 453.2h.75v.75h-.75zM495.1 439.9h.75v.75h-.75zM476.9 466.2h.75v.75h-.75zM477.3 424.9h.75v.75h-.75zM474.6 445.1h.75v.75h-.75zM491.1 442.1h.75v.75h-.75zM473.2 454.9h.75v.75h-.75zM473.0 450.4h.75v.75h-.75zM472.4 458.8h.75v.75h-.75zM483.8 451.1h.75v.75h-.75zM484.2 455.9h.75v.75h-.75zM474.2 444.0h.75v.75h-.75zM484.0 450.3h.75v.75h-.75zM492.2 458.3h.75v.75h-.75zM485.5 439.4h.75v.75h-.75zM483.0 448.2h.75v.75h-.75zM471.9 437.4h.75v.75h-.75zM492.3 446.6h.75v.75h-.75zM485.3 438.2h.75v.75h-.75zM468.6 457.4h.75v.75h-.75zM474.0 438.9h.75v.75h-.75zM458.0 455.9h.75v.75h-.75zM483.9 436.2h.75v.75h-.75zM470.0 450.7h.75v.75h-.75zM477.7 451.9h.75v.75h-.75zM490.8 464.5h.75v.75h-.75zM468.5 455.4h.75v.75h-.75zM486.6 449.1h.75v.75h-.75zM477.3 465.3h.75v.75h-.75zM471.1 460.5h.75v.75h-.75zM489.9 433.6h.75v.75h-.75zM482.9 451.0h.75v.75h-.75zM474.2 450.4h.75v.75h-.75zM483.8 453.3h.75v.75h-.75zM474.9 453.8h.75v.75h-.75zM472.7 433.1h.75v.75h-.75zM476.6 442.9h.75v.75h-.75zM487.5 460.9h.75v.75h-.75zM466.9 459.7h.75v.75h-.75zM469.2 442.7h.75v.75h-.75zM486.6 439.6h.75v.75h-.75zM468.4 448.3h.75v.75h-.75zM477.9 434.5h.75v.75h-.75zM477.1 416.2h.75v.75h-.75zM469.2 455.0h.75v.75h-.75zM473.5 438.5h.75v.75h-.75zM478.5 439.8h.75v.75h-.75zM478.8 439.0h.75v.75h-.75zM484.5 440.2h.75v.75h-.75zM481.2 440.9h.75v.75h-.75zM486.8 457.7h.75v.75h-.75zM481.1 442.1h.75v.75h-.75zM476.1 452.7h.75v.75h-.75zM484.5 443.6h.75v.75h-.75zM483.0 456.6h.75v.75h-.75zM486.4 444.3h.75v.75h-.75zM478.3 427.1h.75v.75h-.75zM478.5 463.4h.75v.75h-.75zM478.6 462.0h.75v.75h-.75zM467.7 456.6h.75v.75h-.75zM483.1 429.2h.75v.75h-.75zM474.3 460.3h.75v.75h-.75zM473.5 451.3h.75v.75h-.75zM476.6 438.9h.75v.75h-.75zM496.1 434.1h.75v.75h-.75zM473.3 459.1h.75v.75h-.75zM491.5 435.1h.75v.75h-.75zM462.9 450.3h.75v.75h-.75zM477.3 439.2h.75v.75h-.75zM494.8 444.9h.75v.75h-.75zM481.0 436.6h.75v.75h-.75zM482.7 450.0h.75v.75h-.75zM475.2 444.3h.75v.75h-.75zM483.8 439.7h.75v.75h-.75zM487.1 443.8h.75v.75h-.75zM488.2 451.8h.75v.75h-.75zM495.0 448.3h.75v.75h-.75zM479.2 431.3h.75v.75h-.75zM484.0 445.9h.75v.75h-.75zM462.8 456.0h.75v.75h-.75zM477.1 453.4h.75v.75h-.75zM481.0 443.8h.75v.75h-.75zM490.0 456.4h.75v.75h-.75zM494.6 453.6h.75v.75h-.75zM492.7 437.6h.75v.75h-.75zM483.6 434.3h.75v.75h-.75zM478.8 445.8h.75v.75h-.75zM479.3 451.8h.75v.75h-.75zM479.6 456.8h.75v.75h-.75zM481.1 434.8h.75v.75h-.75zM489.3 436.6h.75v.75h-.75zM478.4 428.3h.75v.75h-.75zM466.7 442.2h.75v.75h-.75zM470.4 460.8h.75v.75h-.75zM503.3 458.1h.75v.75h-.75zM490.7 449.9h.75v.75h-.75zM476.0 447.1h.75v.75h-.75zM477.8 445.3h.75v.75h-.75zM485.7 463.6h.75v.75h-.75zM482.4 457.9h.75v.75h-.75zM482.5 448.3h.75v.75h-.75zM464.3 448.1h.75v.75h-.75zM469.0 444.1h.75v.75h-.75zM481.1 446.8h.75v.75h-.75zM485.6 462.5h.75v.75h-.75zM482.5 444.2h.75v.75h-.75zM492.6 439.3h.75v.75h-.75zM480.4 449.7h.75v.75h-.75zM482.1 444.0h.75v.75h-.75zM480.5 456.1h.75v.75h-.75zM487.8 434.5h.75v.75h-.75zM475.2 449.8h.75v.75h-.75zM496.3 434.3h.75v.75h-.75zM471.5 458.2h.75v.75h-.75zM486.3 446.0h.75v.75h-.75zM485.8 437.5h.75v.75h-.75zM492.7 436.8h.75v.75h-.75zM471.1 449.5h.75v.75h-.75zM472.8 463.1h.75v.75h-.75zM477.8 452.5h.75v.75h-.75zM485.8 447.0h.75v.75h-.75zM486.9 434.1h.75v.75h-.75zM459.4 439.3h.75v.75h-.75zM477.5 432.1h.75v.75h-.75zM482.0 439.3h.75v.75h-.75zM482.8 448.6h.75v.75h-.75zM482.9 445.2h.75v.75h-.75zM478.8 457.1h.75v.75h-.75zM480.9 435.0h.75v.75h-.75zM465.0 449.4h.75v.75h-.75zM486.9 440.7h.75v.75h-.75zM460.6 443.5h.75v.75h-.75zM478.5 425.5h.75v.75h-.75zM472.5 440.7h.75v.75h-.75zM482.5 453.6h.75v.75h-.75zM471.9 432.0h.75v.75h-.75zM486.8 451.3h.75v.75h-.75zM482.5 453.1h.75v.75h-.75zM484.7 442.4h.75v.75h-.75zM488.3 445.2h.75v.75h-.75zM488.8 441.1h.75v.75h-.75zM478.2 446.5h.75v.75h-.75zM486.2 457.1h.75v.75h-.75zM483.5 455.3h.75v.75h-.75zM485.8 453.1h.75v.75h-.75zM480.9 447.9h.75v.75h-.75zM459.4 452.3h.75v.75h-.75zM477.6 449.1h.75v.75h-.75zM479.4 433.7h.75v.75h-.75zM475.6 439.0h.75v.75h-.75zM474.0 448.7h.75v.75h-.75zM480.8 428.4h.75v.75h-.75zM474.1 447.9h.75v.75h-.75zM484.7 442.6h.75v.75h-.75zM489.5 440.3h.75v.75h-.75zM479.6 444.4h.75v.75h-.75zM486.3 436.8h.75v.75h-.75zM471.6 430.2h.75v.75h-.75zM477.0 439.5h.75v.75h-.75zM471.9 431.4h.75v.75h-.75zM479.9 448.5h.75v.75h-.75zM480.2 453.8h.75v.75h-.75zM492.2 457.8h.75v.75h-.75zM475.4 439.9h.75v.75h-.75zM489.6 447.9h.75v.75h-.75zM471.6 439.7h.75v.75h-.75zM477.8 445.3h.75v.75h-.75zM486.2 449.0h.75v.75h-.75zM482.3 430.1h.75v.75h-.75zM460.4 450.8h.75v.75h-.75zM479.3 439.3h.75v.75h-.75zM483.4 447.3h.75v.75h-.75zM467.8 457.4h.75v.75h-.75zM476.1 432.4h.75v.75h-.75zM477.3 444.9h.75v.75h-.75zM482.9 430.7h.75v.75h-.75zM489.7 419.3h.75v.75h-.75zM469.0 438.6h.75v.75h-.75zM472.6 441.5h.75v.75h-.75zM492.1 428.8h.75v.75h-.75zM489.2 430.9h.75v.75h-.75zM493.3 452.3h.75v.75h-.75zM479.6 446.2h.75v.75h-.75zM487.9 452.5h.75v.75h-.75zM460.8 466.0h.75v.75h-.75zM483.4 445.5h.75v.75h-.75zM468.7 453.9h.75v.75h-.75zM471.2 450.1h.75v.75h-.75zM487.7 434.8h.75v.75h-.75zM491.6 437.9h.75v.75h-.75zM475.9 450.6h.75v.75h-.75zM477.0 447.5h.75v.75h-.75zM489.1 444.4h.75v.75h-.75zM474.5 451.0h.75v.75h-.75zM481.8 431.8h.75v.75h-.75zM484.7 436.2h.75v.75h-.75zM489.3 438.2h.75v.75h-.75zM477.7 441.2h.75v.75h-.75zM457.8 441.0h.75v.75h-.75zM478.3 445.2h.75v.75h-.75zM485.3 435.0h.75v.75h-.75zM476.2 456.3h.75v.75h-.75zM475.3 439.4h.75v.75h-.75zM472.3 450.4h.75v.75h-.75zM483.3 425.0h.75v.75h-.75zM481.2 443.2h.75v.75h-.75zM482.0 454.0h.75v.75h-.75zM479.9 445.7h.75v.75h-.75zM489.9 447.7h.75v.75h-.75zM482.5 446.2h.75v.75h-.75zM479.3 442.5h.75v.75h-.75zM471.1 453.3h.75v.75h-.75zM476.7 450.4h.75v.75h-.75zM479.9 449.0h.75v.75h-.75zM491.5 435.2h.75v.75h-.75zM483.7 439.1h.75v.75h-.75zM477.3 419.9h.75v.75h-.75zM485.8 443.8h.75v.75h-.75zM484.9 433.1h.75v.75h-.75zM476.4 439.2h.75v.75h-.75zM483.6 451.5h.75v.75h-.75zM471.4 450.1h.75v.75h-.75zM480.8 448.5h.75v.75h-.75zM495.9 432.2h.75v.75h-.75zM487.7 446.7h.75v.75h-.75zM484.9 443.4h.75v.75h-.75zM486.9 444.3h.75v.75h-.75zM485.6 441.9h.75v.75h-.75zM470.8 464.2h.75v.75h-.75zM476.4 435.7h.75v.75h-.75zM474.6 449.4h.75v.75h-.75zM483.7 446.4h.75v.75h-.75zM487.2 451.4h.75v.75h-.75zM496.1 444.1h.75v.75h-.75zM478.9 441.1h.75v.75h-.75zM471.2 450.1h.75v.75h-.75zM482.4 459.0h.75v.75h-.75zM479.8 455.7h.75v.75h-.75zM482.1 440.8h.75v.75h-.75zM480.2 447.2h.75v.75h-.75zM484.0 442.7h.75v.75h-.75zM475.6 459.8h.75v.75h-.75zM482.5 440.6h.75v.75h-.75zM487.8 455.2h.75v.75h-.75zM481.5 460.7h.75v.75h-.75zM484.4 442.8h.75v.75h-.75zM486.9 440.9h.75v.75h-.75zM479.3 444.2h.75v.75h-.75zM475.0 454.8h.75v.75h-.75zM478.4 441.5h.75v.75h-.75zM477.1 447.9h.75v.75h-.75zM478.8 435.1h.75v.75h-.75zM475.8 443.5h.75v.75h-.75zM493.5 441.6h.75v.75h-.75zM487.2 430.3h.75v.75h-.75zM483.8 451.2h.75v.75h-.75zM483.7 451.5h.75v.75h-.75zM479.4 445.0h.75v.75h-.75zM486.5 449.7h.75v.75h-.75zM478.3 452.8h.75v.75h-.75zM479.5 438.4h.75v.75h-.75zM474.0 453.3h.75v.75h-.75zM489.5 444.3h.75v.75h-.75zM489.3 436.1h.75v.75h-.75zM488.6 446.2h.75v.75h-.75zM488.8 432.4h.75v.75h-.75zM461.5 425.9h.75v.75h-.75zM480.8 449.7h.75v.75h-.75zM488.0 445.2h.75v.75h-.75zM483.9 461.6h.75v.75h-.75zM467.7 447.5h.75v.75h-.75zM482.3 453.5h.75v.75h-.75zM485.3 435.7h.75v.75h-.75zM475.7 436.9h.75v.75h-.75zM470.9 446.5h.75v.75h-.75zM475.2 450.1h.75v.75h-.75zM456.6 454.7h.75v.75h-.75zM481.8 456.2h.75v.75h-.75zM473.1 460.2h.75v.75h-.75zM477.2 435.4h.75v.75h-.75zM478.3 442.3h.75v.75h-.75zM478.9 464.3h.75v.75h-.75zM492.0 455.2h.75v.75h-.75zM473.0 438.4h.75v.75h-.75zM477.7 440.7h.75v.75h-.75zM474.2 440.2h.75v.75h-.75zM464.3 465.0h.75v.75h-.75zM485.4 426.3h.75v.75h-.75zM479.2 445.7h.75v.75h-.75zM474.6 439.7h.75v.75h-.75zM486.2 448.4h.75v.75h-.75zM471.3 462.9h.75v.75h-.75zM478.0 452.7h.75v.75h-.75zM472.9 459.9h.75v.75h-.75zM472.0 461.8h.75v.75h-.75zM477.5 464.4h.75v.75h-.75zM474.6 452.7h.75v.75h-.75zM478.3 429.7h.75v.75h-.75zM470.7 436.0h.75v.75h-.75zM467.1 460.9h.75v.75h-.75zM490.1 449.6h.75v.75h-.75zM482.4 456.9h.75v.75h-.75zM476.6 445.4h.75v.75h-.75zM481.1 442.1h.75v.75h-.75zM471.6 432.3h.75v.75h-.75zM454.5 429.9h.75v.75h-.75zM464.1 421.3h.75v.75h-.75zM458.6 421.5h.75v.75h-.75zM448.9 428.3h.75v.75h-.75zM479.8 428.0h.75v.75h-.75zM465.3 426.4h.75v.75h-.75zM467.7 431.2h.75v.75h-.75zM466.1 419.3h.75v.75h-.75zM464.7 428.0h.75v.75h-.75zM454.3 435.2h.75v.75h-.75zM473.5 424.4h.75v.75h-.75zM459.2 420.9h.75v.75h-.75zM454.7 431.3h.75v.75h-.75zM477.4 428.4h.75v.75h-.75zM465.9 431.2h.75v.75h-.75zM471.0 429.1h.75v.75h-.75zM445.8 424.3h.75v.75h-.75zM482.4 425.3h.75v.75h-.75zM456.5 421.3h.75v.75h-.75zM453.4 437.0h.75v.75h-.75zM460.8 422.4h.75v.75h-.75zM455.1 424.8h.75v.75h-.75zM456.0 423.4h.75v.75h-.75zM469.8 428.0h.75v.75h-.75zM479.5 432.1h.75v.75h-.75zM462.5 424.1h.75v.75h-.75zM465.1 428.1h.75v.75h-.75zM465.7 429.2h.75v.75h-.75zM466.9 435.3h.75v.75h-.75zM452.4 425.3h.75v.75h-.75zM481.9 427.3h.75v.75h-.75zM450.6 433.0h.75v.75h-.75zM458.4 420.3h.75v.75h-.75zM485.7 426.2h.75v.75h-.75zM463.8 426.6h.75v.75h-.75zM454.9 421.6h.75v.75h-.75zM466.2 425.4h.75v.75h-.75zM488.6 427.1h.75v.75h-.75zM465.8 430.8h.75v.75h-.75zM453.9 430.0h.75v.75h-.75zM467.5 424.0h.75v.75h-.75zM468.3 422.3h.75v.75h-.75zM456.8 430.1h.75v.75h-.75zM467.7 420.0h.75v.75h-.75zM442.6 424.0h.75v.75h-.75zM469.9 421.5h.75v.75h-.75zM467.5 419.7h.75v.75h-.75zM466.3 427.2h.75v.75h-.75zM458.9 420.3h.75v.75h-.75zM479.1 423.6h.75v.75h-.75zM472.3 431.2h.75v.75h-.75zM479.1 432.5h.75v.75h-.75zM459.4 420.6h.75v.75h-.75zM473.2 422.3h.75v.75h-.75zM483.0 422.5h.75v.75h-.75zM479.9 420.6h.75v.75h-.75zM456.2 431.5h.75v.75h-.75zM465.1 429.7h.75v.75h-.75zM458.9 428.1h.75v.75h-.75zM462.5 422.1h.75v.75h-.75zM465.4 429.2h.75v.75h-.75zM483.2 426.8h.75v.75h-.75zM480.8 425.9h.75v.75h-.75zM464.0 428.4h.75v.75h-.75zM474.4 431.6h.75v.75h-.75zM459.4 425.8h.75v.75h-.75zM452.7 424.4h.75v.75h-.75zM446.3 421.9h.75v.75h-.75zM456.7 431.8h.75v.75h-.75zM485.5 428.0h.75v.75h-.75zM467.3 416.2h.75v.75h-.75zM470.8 426.6h.75v.75h-.75zM476.0 429.3h.75v.75h-.75zM445.4 419.6h.75v.75h-.75zM462.8 420.0h.75v.75h-.75zM465.5 430.3h.75v.75h-.75zM478.1 424.9h.75v.75h-.75zM469.4 420.0h.75v.75h-.75zM448.2 426.1h.75v.75h-.75zM447.8 427.5h.75v.75h-.75zM468.2 422.1h.75v.75h-.75zM467.2 422.7h.75v.75h-.75zM450.9 426.1h.75v.75h-.75zM451.0 425.7h.75v.75h-.75zM465.9 433.2h.75v.75h-.75zM451.7 431.4h.75v.75h-.75zM468.7 428.1h.75v.75h-.75zM462.6 423.3h.75v.75h-.75zM462.2 423.5h.75v.75h-.75zM484.8 416.9h.75v.75h-.75zM456.6 425.7h.75v.75h-.75zM453.6 424.3h.75v.75h-.75zM459.7 423.3h.75v.75h-.75zM440.7 428.9h.75v.75h-.75zM472.7 431.1h.75v.75h-.75zM471.5 418.4h.75v.75h-.75zM465.7 427.6h.75v.75h-.75zM464.5 427.8h.75v.75h-.75zM464.0 423.4h.75v.75h-.75zM449.1 423.0h.75v.75h-.75zM463.1 433.0h.75v.75h-.75zM464.3 429.0h.75v.75h-.75zM473.0 434.6h.75v.75h-.75zM467.6 422.8h.75v.75h-.75zM474.9 421.7h.75v.75h-.75zM471.5 424.9h.75v.75h-.75zM444.4 429.5h.75v.75h-.75zM457.0 431.3h.75v.75h-.75zM471.1 434.0h.75v.75h-.75zM460.4 423.4h.75v.75h-.75zM464.5 420.1h.75v.75h-.75zM473.3 430.0h.75v.75h-.75zM454.6 429.7h.75v.75h-.75zM466.6 428.3h.75v.75h-.75zM481.2 431.9h.75v.75h-.75zM465.2 422.7h.75v.75h-.75zM457.6 419.4h.75v.75h-.75zM464.9 434.4h.75v.75h-.75zM461.0 427.2h.75v.75h-.75zM452.2 424.8h.75v.75h-.75zM471.3 429.3h.75v.75h-.75zM465.0 435.1h.75v.75h-.75zM446.0 426.8h.75v.75h-.75zM477.0 433.1h.75v.75h-.75zM455.4 426.4h.75v.75h-.75zM465.6 433.9h.75v.75h-.75zM469.5 426.8h.75v.75h-.75zM463.6 431.0h.75v.75h-.75zM452.1 426.0h.75v.75h-.75zM441.2 428.5h.75v.75h-.75zM459.2 427.0h.75v.75h-.75zM467.1 424.3h.75v.75h-.75zM452.5 426.5h.75v.75h-.75zM460.7 428.9h.75v.75h-.75zM477.8 425.6h.75v.75h-.75zM454.8 423.8h.75v.75h-.75zM505.4 427.8h.75v.75h-.75zM468.7 432.0h.75v.75h-.75zM452.8 425.7h.75v.75h-.75zM469.1 421.9h.75v.75h-.75zM462.5 422.4h.75v.75h-.75zM478.2 426.1h.75v.75h-.75zM452.1 432.7h.75v.75h-.75zM471.9 421.8h.75v.75h-.75zM453.8 430.7h.75v.75h-.75zM468.4 425.2h.75v.75h-.75zM480.3 423.3h.75v.75h-.75zM466.4 423.8h.75v.75h-.75zM478.7 430.7h.75v.75h-.75zM461.9 424.1h.75v.75h-.75zM474.4 431.6h.75v.75h-.75zM458.4 434.3h.75v.75h-.75zM462.4 422.5h.75v.75h-.75zM465.2 420.7h.75v.75h-.75zM449.9 418.8h.75v.75h-.75zM455.5 428.2h.75v.75h-.75zM458.9 422.3h.75v.75h-.75zM482.3 423.4h.75v.75h-.75zM466.4 422.7h.75v.75h-.75zM453.2 431.5h.75v.75h-.75zM452.5 428.7h.75v.75h-.75zM463.8 428.4h.75v.75h-.75zM453.2 418.9h.75v.75h-.75zM466.7 422.5h.75v.75h-.75zM453.6 425.7h.75v.75h-.75zM454.1 425.4h.75v.75h-.75zM473.2 427.2h.75v.75h-.75zM445.8 432.5h.75v.75h-.75zM488.0 428.7h.75v.75h-.75zM457.1 429.2h.75v.75h-.75zM449.8 425.4h.75v.75h-.75zM470.9 424.2h.75v.75h-.75zM475.9 423.9h.75v.75h-.75zM478.1 425.5h.75v.75h-.75zM470.3 419.2h.75v.75h-.75zM457.8 423.5h.75v.75h-.75zM463.2 426.0h.75v.75h-.75zM466.4 423.9h.75v.75h-.75zM473.8 425.7h.75v.75h-.75zM474.8 418.3h.75v.75h-.75zM472.1 423.6h.75v.75h-.75zM473.8 425.9h.75v.75h-.75zM442.2 430.6h.75v.75h-.75zM459.4 426.3h.75v.75h-.75zM476.9 424.9h.75v.75h-.75zM460.3 423.5h.75v.75h-.75zM464.2 426.0h.75v.75h-.75zM457.7 423.7h.75v.75h-.75zM463.7 428.8h.75v.75h-.75zM458.2 423.6h.75v.75h-.75zM444.2 428.5h.75v.75h-.75zM468.9 423.2h.75v.75h-.75zM469.3 419.8h.75v.75h-.75zM455.9 419.9h.75v.75h-.75zM443.9 429.5h.75v.75h-.75zM461.4 423.4h.75v.75h-.75zM451.9 423.8h.75v.75h-.75zM474.9 436.1h.75v.75h-.75zM461.9 421.0h.75v.75h-.75zM448.1 425.6h.75v.75h-.75zM457.2 420.2h.75v.75h-.75zM483.0 423.2h.75v.75h-.75zM462.3 427.9h.75v.75h-.75zM455.7 424.5h.75v.75h-.75zM461.3 433.4h.75v.75h-.75zM452.1 421.9h.75v.75h-.75zM472.8 422.9h.75v.75h-.75zM449.6 420.0h.75v.75h-.75zM470.1 425.8h.75v.75h-.75zM474.8 422.6h.75v.75h-.75zM473.7 425.1h.75v.75h-.75zM463.0 422.4h.75v.75h-.75zM460.1 427.6h.75v.75h-.75zM464.8 423.1h.75v.75h-.75zM467.0 426.1h.75v.75h-.75zM470.3 425.2h.75v.75h-.75zM464.5 422.7h.75v.75h-.75zM467.1 425.8h.75v.75h-.75zM459.9 425.7h.75v.75h-.75zM456.4 427.9h.75v.75h-.75zM476.0 417.8h.75v.75h-.75zM469.0 431.8h.75v.75h-.75zM472.1 426.3h.75v.75h-.75zM481.8 427.5h.75v.75h-.75zM457.5 428.0h.75v.75h-.75zM458.5 420.3h.75v.75h-.75zM460.9 428.8h.75v.75h-.75zM473.7 427.0h.75v.75h-.75zM450.2 423.9h.75v.75h-.75zM457.9 429.2h.75v.75h-.75zM473.0 424.8h.75v.75h-.75zM448.8 421.8h.75v.75h-.75zM472.0 429.4h.75v.75h-.75zM481.1 429.0h.75v.75h-.75zM469.1 427.2h.75v.75h-.75zM456.3 425.4h.75v.75h-.75zM460.3 432.4h.75v.75h-.75zM454.8 423.6h.75v.75h-.75zM464.2 426.8h.75v.75h-.75zM474.6 425.2h.75v.75h-.75zM475.3 425.2h.75v.75h-.75zM442.0 427.9h.75v.75h-.75zM457.1 422.0h.75v.75h-.75zM468.3 428.0h.75v.75h-.75zM461.4 427.1h.75v.75h-.75zM439.9 424.6h.75v.75h-.75zM467.1 423.1h.75v.75h-.75zM470.5 420.5h.75v.75h-.75zM464.9 426.3h.75v.75h-.75zM464.2 432.8h.75v.75h-.75zM474.5 423.5h.75v.75h-.75zM450.4 422.3h.75v.75h-.75zM461.9 423.3h.75v.75h-.75zM469.1 427.1h.75v.75h-.75zM499.8 428.0h.75v.75h-.75zM457.5 427.4h.75v.75h-.75zM473.0 425.8h.75v.75h-.75zM482.7 421.1h.75v.75h-.75zM472.9 430.1h.75v.75h-.75zM473.9 424.7h.75v.75h-.75zM477.9 427.6h.75v.75h-.75zM446.8 426.4h.75v.75h-.75zM470.2 426.0h.75v.75h-.75zM460.5 429.3h.75v.75h-.75zM480.8 426.6h.75v.75h-.75zM469.5 434.4h.75v.75h-.75zM467.8 431.9h.75v.75h-.75zM467.0 429.7h.75v.75h-.75zM452.3 425.0h.75v.75h-.75zM474.6 429.3h.75v.75h-.75zM448.6 427.5h.75v.75h-.75zM463.1 429.0h.75v.75h-.75zM461.5 426.5h.75v.75h-.75zM475.3 422.1h.75v.75h-.75zM465.2 422.3h.75v.75h-.75zM456.4 425.9h.75v.75h-.75zM472.1 429.6h.75v.75h-.75zM482.9 425.9h.75v.75h-.75zM454.7 423.7h.75v.75h-.75zM479.4 425.4h.75v.75h-.75zM458.3 428.8h.75v.75h-.75zM462.9 424.2h.75v.75h-.75zM463.1 424.1h.75v.75h-.75zM454.5 426.6h.75v.75h-.75zM481.9 428.8h.75v.75h-.75zM473.3 421.3h.75v.75h-.75zM471.5 424.6h.75v.75h-.75zM451.2 426.1h.75v.75h-.75zM472.1 424.4h.75v.75h-.75zM456.1 428.2h.75v.75h-.75zM479.4 429.5h.75v.75h-.75zM447.0 423.1h.75v.75h-.75zM472.7 435.7h.75v.75h-.75zM449.1 427.7h.75v.75h-.75zM450.0 432.5h.75v.75h-.75zM467.5 429.1h.75v.75h-.75zM474.0 418.8h.75v.75h-.75zM476.7 421.1h.75v.75h-.75zM461.1 427.2h.75v.75h-.75zM459.6 428.2h.75v.75h-.75zM495.0 415.3h.75v.75h-.75zM466.7 424.7h.75v.75h-.75zM481.3 423.6h.75v.75h-.75zM493.5 411.9h.75v.75h-.75zM502.2 406.6h.75v.75h-.75zM494.0 409.2h.75v.75h-.75zM473.1 429.6h.75v.75h-.75zM482.2 414.9h.75v.75h-.75zM484.6 409.5h.75v.75h-.75zM483.5 427.5h.75v.75h-.75zM499.6 408.4h.75v.75h-.75zM501.1 402.4h.75v.75h-.75zM502.3 417.6h.75v.75h-.75zM476.1 419.9h.75v.75h-.75zM474.3 421.0h.75v.75h-.75zM471.5 420.2h.75v.75h-.75zM485.3 425.3h.75v.75h-.75zM489.2 423.8h.75v.75h-.75zM473.0 433.5h.75v.75h-.75zM491.0 412.6h.75v.75h-.75zM490.8 436.0h.75v.75h-.75zM485.8 415.5h.75v.75h-.75zM493.1 408.2h.75v.75h-.75zM477.2 421.5h.75v.75h-.75zM476.3 410.8h.75v.75h-.75zM504.1 405.9h.75v.75h-.75zM484.0 417.8h.75v.75h-.75zM498.8 415.7h.75v.75h-.75zM480.9 432.7h.75v.75h-.75zM463.1 434.1h.75v.75h-.75zM494.0 414.8h.75v.75h-.75zM474.5 426.1h.75v.75h-.75zM478.5 414.9h.75v.75h-.75zM497.7 426.4h.75v.75h-.75zM471.2 428.9h.75v.75h-.75zM485.1 424.6h.75v.75h-.75zM500.6 410.0h.75v.75h-.75zM510.3 403.4h.75v.75h-.75zM477.2 417.0h.75v.75h-.75zM489.8 412.3h.75v.75h-.75zM480.8 418.5h.75v.75h-.75zM501.6 419.9h.75v.75h-.75zM482.7 416.7h.75v.75h-.75zM502.7 417.5h.75v.75h-.75zM474.3 432.2h.75v.75h-.75zM496.7 418.7h.75v.75h-.75zM504.4 418.8h.75v.75h-.75zM495.4 399.1h.75v.75h-.75zM488.3 421.7h.75v.75h-.75zM482.6 418.8h.75v.75h-.75zM473.5 436.6h.75v.75h-.75zM498.5 417.8h.75v.75h-.75zM498.4 412.7h.75v.75h-.75zM491.8 418.5h.75v.75h-.75zM474.1 427.8h.75v.75h-.75zM478.1 437.7h.75v.75h-.75zM486.4 417.7h.75v.75h-.75zM506.8 413.7h.75v.75h-.75zM508.5 406.6h.75v.75h-.75zM498.6 417.3h.75v.75h-.75zM472.3 429.9h.75v.75h-.75zM465.1 431.8h.75v.75h-.75zM488.1 418.9h.75v.75h-.75zM492.7 429.6h.75v.75h-.75zM505.9 420.3h.75v.75h-.75zM477.8 428.5h.75v.75h-.75zM499.8 410.5h.75v.75h-.75zM483.8 425.6h.75v.75h-.75zM493.7 418.8h.75v.75h-.75zM481.1 430.5h.75v.75h-.75zM481.8 427.4h.75v.75h-.75zM480.6 418.8h.75v.75h-.75zM484.9 426.2h.75v.75h-.75zM476.3 439.7h.75v.75h-.75zM477.8 429.2h.75v.75h-.75zM490.1 411.3h.75v.75h-.75zM473.2 423.9h.75v.75h-.75zM483.0 430.1h.75v.75h-.75zM480.5 433.4h.75v.75h-.75zM484.3 410.9h.75v.75h-.75zM500.4 423.2h.75v.75h-.75zM479.1 437.5h.75v.75h-.75zM505.4 424.1h.75v.75h-.75zM466.7 420.6h.75v.75h-.75zM477.2 425.9h.75v.75h-.75zM495.2 427.9h.75v.75h-.75zM460.4 439.2h.75v.75h-.75zM484.7 419.7h.75v.75h-.75zM492.3 411.8h.75v.75h-.75zM471.7 427.9h.75v.75h-.75zM503.9 417.9h.75v.75h-.75zM508.2 404.3h.75v.75h-.75zM488.5 419.5h.75v.75h-.75zM488.0 430.6h.75v.75h-.75zM496.8 427.0h.75v.75h-.75zM498.8 417.6h.75v.75h-.75zM483.0 433.6h.75v.75h-.75zM483.4 422.0h.75v.75h-.75zM510.7 405.9h.75v.75h-.75zM490.7 414.7h.75v.75h-.75zM486.2 413.6h.75v.75h-.75zM478.4 421.6h.75v.75h-.75zM455.3 432.9h.75v.75h-.75zM486.3 437.6h.75v.75h-.75zM488.6 428.0h.75v.75h-.75zM487.2 438.3h.75v.75h-.75zM485.8 414.2h.75v.75h-.75zM497.0 422.1h.75v.75h-.75zM491.2 415.9h.75v.75h-.75zM490.1 408.9h.75v.75h-.75zM485.9 426.1h.75v.75h-.75zM484.1 417.4h.75v.75h-.75zM489.2 425.9h.75v.75h-.75zM480.2 443.8h.75v.75h-.75zM500.7 415.7h.75v.75h-.75zM491.0 418.5h.75v.75h-.75zM488.0 415.4h.75v.75h-.75zM510.6 399.0h.75v.75h-.75zM497.0 414.7h.75v.75h-.75zM475.2 420.0h.75v.75h-.75zM478.5 426.1h.75v.75h-.75zM487.1 418.3h.75v.75h-.75zM482.5 425.4h.75v.75h-.75zM502.6 417.7h.75v.75h-.75zM496.5 425.7h.75v.75h-.75zM498.0 407.4h.75v.75h-.75zM500.0 409.0h.75v.75h-.75zM498.2 426.7h.75v.75h-.75zM468.1 436.2h.75v.75h-.75zM472.7 421.9h.75v.75h-.75zM476.9 444.6h.75v.75h-.75zM493.8 396.5h.75v.75h-.75zM490.6 416.2h.75v.75h-.75zM508.5 408.6h.75v.75h-.75zM502.4 417.5h.75v.75h-.75zM503.1 403.3h.75v.75h-.75zM480.7 423.5h.75v.75h-.75zM487.3 422.2h.75v.75h-.75zM499.1 424.0h.75v.75h-.75zM475.9 411.2h.75v.75h-.75zM480.6 418.3h.75v.75h-.75zM508.2 406.3h.75v.75h-.75zM511.8 416.9h.75v.75h-.75zM468.5 443.5h.75v.75h-.75zM487.4 433.2h.75v.75h-.75zM474.6 420.7h.75v.75h-.75zM465.7 431.7h.75v.75h-.75zM478.5 422.9h.75v.75h-.75zM493.9 417.0h.75v.75h-.75zM495.0 411.4h.75v.75h-.75zM490.7 420.1h.75v.75h-.75zM502.3 412.8h.75v.75h-.75zM478.4 428.6h.75v.75h-.75zM484.8 420.1h.75v.75h-.75zM504.4 431.8h.75v.75h-.75zM496.1 403.8h.75v.75h-.75zM478.8 419.6h.75v.75h-.75zM473.9 422.0h.75v.75h-.75zM488.1 421.3h.75v.75h-.75zM489.8 426.2h.75v.75h-.75zM491.1 418.2h.75v.75h-.75zM485.8 443.9h.75v.75h-.75zM488.8 422.6h.75v.75h-.75zM480.5 434.5h.75v.75h-.75zM486.9 420.2h.75v.75h-.75zM480.2 418.1h.75v.75h-.75zM473.4 445.6h.75v.75h-.75zM488.8 413.5h.75v.75h-.75zM478.5 413.0h.75v.75h-.75zM478.6 419.0h.75v.75h-.75zM493.8 419.1h.75v.75h-.75zM491.3 429.3h.75v.75h-.75zM508.5 408.9h.75v.75h-.75zM506.6 409.9h.75v.75h-.75zM483.5 424.3h.75v.75h-.75zM484.4 427.8h.75v.75h-.75zM480.2 417.5h.75v.75h-.75zM472.2 429.6h.75v.75h-.75zM504.9 408.4h.75v.75h-.75zM495.1 420.3h.75v.75h-.75zM481.2 427.1h.75v.75h-.75zM507.5 419.2h.75v.75h-.75zM495.2 430.8h.75v.75h-.75zM496.2 412.7h.75v.75h-.75zM482.6 416.0h.75v.75h-.75zM461.0 433.7h.75v.75h-.75zM494.9 417.8h.75v.75h-.75zM479.2 424.8h.75v.75h-.75zM471.0 434.5h.75v.75h-.75zM493.8 419.2h.75v.75h-.75zM494.2 424.5h.75v.75h-.75zM477.1 426.1h.75v.75h-.75zM487.2 420.3h.75v.75h-.75zM493.1 412.2h.75v.75h-.75zM488.0 425.9h.75v.75h-.75zM481.2 424.2h.75v.75h-.75zM504.4 422.6h.75v.75h-.75zM484.4 427.2h.75v.75h-.75zM500.7 411.1h.75v.75h-.75zM486.8 423.0h.75v.75h-.75zM484.3 421.6h.75v.75h-.75zM502.0 413.3h.75v.75h-.75zM480.6 413.7h.75v.75h-.75zM491.8 420.5h.75v.75h-.75zM493.6 418.7h.75v.75h-.75zM500.5 405.9h.75v.75h-.75zM487.1 423.1h.75v.75h-.75zM470.4 431.2h.75v.75h-.75zM468.6 420.8h.75v.75h-.75zM467.8 421.2h.75v.75h-.75zM474.8 428.3h.75v.75h-.75zM486.1 426.9h.75v.75h-.75zM484.0 424.4h.75v.75h-.75zM482.0 409.8h.75v.75h-.75zM486.2 413.0h.75v.75h-.75zM479.1 428.3h.75v.75h-.75zM486.8 413.3h.75v.75h-.75zM488.5 427.9h.75v.75h-.75zM511.5 418.0h.75v.75h-.75zM484.5 415.7h.75v.75h-.75zM484.8 423.5h.75v.75h-.75zM484.1 427.3h.75v.75h-.75zM478.2 428.2h.75v.75h-.75zM496.6 413.0h.75v.75h-.75zM472.9 425.5h.75v.75h-.75zM510.2 409.6h.75v.75h-.75zM469.6 440.3h.75v.75h-.75zM486.8 425.7h.75v.75h-.75zM498.8 424.0h.75v.75h-.75zM493.6 419.6h.75v.75h-.75zM496.0 420.7h.75v.75h-.75zM470.6 434.5h.75v.75h-.75zM497.6 414.7h.75v.75h-.75zM494.1 412.0h.75v.75h-.75zM505.4 415.4h.75v.75h-.75zM487.6 417.4h.75v.75h-.75zM488.9 415.7h.75v.75h-.75zM469.8 422.7h.75v.75h-.75zM494.0 407.2h.75v.75h-.75zM475.9 426.6h.75v.75h-.75zM492.2 411.3h.75v.75h-.75zM508.0 405.4h.75v.75h-.75zM477.9 422.4h.75v.75h-.75zM490.7 409.9h.75v.75h-.75zM482.0 426.7h.75v.75h-.75zM481.3 429.6h.75v.75h-.75zM466.5 421.5h.75v.75h-.75zM483.2 419.6h.75v.75h-.75zM491.6 416.8h.75v.75h-.75zM502.3 411.9h.75v.75h-.75zM505.5 412.8h.75v.75h-.75zM486.3 423.4h.75v.75h-.75zM498.4 410.7h.75v.75h-.75zM486.8 426.0h.75v.75h-.75zM477.8 410.5h.75v.75h-.75zM482.6 414.9h.75v.75h-.75zM497.6 422.6h.75v.75h-.75zM495.7 413.5h.75v.75h-.75zM468.6 431.4h.75v.75h-.75zM493.8 426.2h.75v.75h-.75zM484.2 434.4h.75v.75h-.75zM494.9 408.9h.75v.75h-.75zM489.7 413.8h.75v.75h-.75zM473.7 421.1h.75v.75h-.75zM472.6 421.8h.75v.75h-.75zM486.9 422.6h.75v.75h-.75zM488.0 405.8h.75v.75h-.75zM489.2 422.6h.75v.75h-.75zM474.7 425.7h.75v.75h-.75zM503.5 423.9h.75v.75h-.75zM461.2 420.8h.75v.75h-.75zM502.7 418.1h.75v.75h-.75zM485.7 418.2h.75v.75h-.75zM481.9 417.6h.75v.75h-.75zM506.8 417.9h.75v.75h-.75zM486.5 427.1h.75v.75h-.75zM488.4 409.7h.75v.75h-.75zM481.9 428.9h.75v.75h-.75zM493.8 415.3h.75v.75h-.75zM494.0 414.4h.75v.75h-.75zM504.6 408.9h.75v.75h-.75zM501.0 413.5h.75v.75h-.75zM488.1 415.5h.75v.75h-.75zM480.9 423.9h.75v.75h-.75zM483.3 404.1h.75v.75h-.75zM479.5 430.6h.75v.75h-.75zM483.0 424.3h.75v.75h-.75zM481.4 418.7h.75v.75h-.75zM491.5 421.2h.75v.75h-.75zM489.4 417.8h.75v.75h-.75zM479.7 428.0h.75v.75h-.75zM490.9 426.4h.75v.75h-.75zM463.0 434.6h.75v.75h-.75zM486.7 398.1h.75v.75h-.75zM461.8 441.4h.75v.75h-.75zM483.3 422.5h.75v.75h-.75zM494.7 421.9h.75v.75h-.75zM489.8 413.3h.75v.75h-.75zM475.1 424.5h.75v.75h-.75zM485.2 419.4h.75v.75h-.75zM477.4 446.6h.75v.75h-.75zM479.7 427.7h.75v.75h-.75zM474.6 463.8h.75v.75h-.75zM473.3 434.3h.75v.75h-.75zM481.7 432.3h.75v.75h-.75zM485.0 456.2h.75v.75h-.75zM479.0 429.5h.75v.75h-.75zM465.0 437.2h.75v.75h-.75zM481.1 443.6h.75v.75h-.75zM461.4 452.7h.75v.75h-.75zM473.0 417.6h.75v.75h-.75zM489.7 426.7h.75v.75h-.75zM449.5 406.6h.75v.75h-.75zM453.9 447.3h.75v.75h-.75zM438.8 443.5h.75v.75h-.75zM495.2 447.7h.75v.75h-.75zM471.3 443.8h.75v.75h-.75zM475.4 430.7h.75v.75h-.75zM472.6 447.7h.75v.75h-.75zM467.1 424.8h.75v.75h-.75zM456.9 426.5h.75v.75h-.75zM471.9 434.8h.75v.75h-.75zM455.8 453.3h.75v.75h-.75zM477.4 421.3h.75v.75h-.75zM499.9 429.2h.75v.75h-.75zM456.4 417.6h.75v.75h-.75zM463.2 441.4h.75v.75h-.75zM456.4 427.3h.75v.75h-.75zM445.3 448.4h.75v.75h-.75zM452.3 451.2h.75v.75h-.75zM466.4 425.1h.75v.75h-.75zM481.9 446.1h.75v.75h-.75zM485.1 431.4h.75v.75h-.75zM456.1 442.8h.75v.75h-.75zM477.4 432.2h.75v.75h-.75zM465.6 437.2h.75v.75h-.75zM471.7 443.6h.75v.75h-.75zM482.6 458.9h.75v.75h-.75zM482.1 433.3h.75v.75h-.75zM481.6 449.7h.75v.75h-.75zM473.1 460.6h.75v.75h-.75zM472.7 427.9h.75v.75h-.75zM472.5 454.2h.75v.75h-.75zM477.2 434.8h.75v.75h-.75zM467.9 443.9h.75v.75h-.75zM475.3 445.6h.75v.75h-.75zM471.1 435.5h.75v.75h-.75zM487.9 459.7h.75v.75h-.75zM456.1 456.7h.75v.75h-.75zM463.8 441.1h.75v.75h-.75zM470.4 438.7h.75v.75h-.75zM468.1 440.1h.75v.75h-.75zM438.8 447.0h.75v.75h-.75zM483.9 446.8h.75v.75h-.75zM489.4 420.2h.75v.75h-.75zM446.4 448.7h.75v.75h-.75zM450.7 446.1h.75v.75h-.75zM487.1 434.4h.75v.75h-.75zM448.7 428.6h.75v.75h-.75zM470.7 415.9h.75v.75h-.75zM467.9 443.7h.75v.75h-.75zM463.5 429.9h.75v.75h-.75zM474.0 433.2h.75v.75h-.75zM447.1 418.9h.75v.75h-.75zM461.0 412.1h.75v.75h-.75zM466.5 449.3h.75v.75h-.75zM471.8 414.2h.75v.75h-.75zM480.1 431.1h.75v.75h-.75zM489.3 438.9h.75v.75h-.75zM476.2 425.4h.75v.75h-.75zM468.2 454.7h.75v.75h-.75zM475.5 438.8h.75v.75h-.75zM452.6 440.5h.75v.75h-.75zM459.1 428.6h.75v.75h-.75zM458.5 423.9h.75v.75h-.75zM447.6 435.0h.75v.75h-.75zM479.5 464.3h.75v.75h-.75zM454.5 437.1h.75v.75h-.75zM449.4 445.9h.75v.75h-.75zM455.2 444.7h.75v.75h-.75zM489.0 425.7h.75v.75h-.75zM485.9 448.7h.75v.75h-.75zM472.3 430.9h.75v.75h-.75zM477.7 414.0h.75v.75h-.75zM443.6 412.5h.75v.75h-.75zM456.2 447.1h.75v.75h-.75zM472.6 464.7h.75v.75h-.75zM454.2 447.4h.75v.75h-.75zM449.1 453.6h.75v.75h-.75zM458.3 422.4h.75v.75h-.75zM479.0 397.8h.75v.75h-.75zM488.5 462.9h.75v.75h-.75zM454.3 451.9h.75v.75h-.75zM487.0 415.9h.75v.75h-.75zM451.2 441.8h.75v.75h-.75zM470.0 438.0h.75v.75h-.75zM467.8 436.6h.75v.75h-.75zM463.4 423.7h.75v.75h-.75zM491.7 444.1h.75v.75h-.75zM479.3 448.3h.75v.75h-.75zM469.2 419.6h.75v.75h-.75zM483.0 443.7h.75v.75h-.75zM459.4 417.9h.75v.75h-.75zM474.4 447.9h.75v.75h-.75zM488.3 435.5h.75v.75h-.75zM474.4 451.2h.75v.75h-.75zM495.4 445.1h.75v.75h-.75zM454.1 416.0h.75v.75h-.75zM452.1 423.8h.75v.75h-.75zM465.1 439.7h.75v.75h-.75zM466.0 446.7h.75v.75h-.75zM461.9 455.5h.75v.75h-.75zM488.4 422.2h.75v.75h-.75zM473.9 436.7h.75v.75h-.75zM459.7 440.2h.75v.75h-.75zM475.0 425.8h.75v.75h-.75zM452.2 414.1h.75v.75h-.75zM474.1 444.9h.75v.75h-.75zM455.0 451.6h.75v.75h-.75zM468.2 428.1h.75v.75h-.75zM472.3 450.7h.75v.75h-.75zM448.9 454.5h.75v.75h-.75zM462.6 459.0h.75v.75h-.75zM463.4 448.6h.75v.75h-.75zM470.5 435.5h.75v.75h-.75zM479.0 429.0h.75v.75h-.75zM467.7 452.0h.75v.75h-.75zM450.1 420.2h.75v.75h-.75zM463.1 460.6h.75v.75h-.75zM456.4 448.1h.75v.75h-.75zM465.9 435.3h.75v.75h-.75zM482.0 413.7h.75v.75h-.75zM481.1 427.2h.75v.75h-.75zM484.6 418.1h.75v.75h-.75zM457.6 424.1h.75v.75h-.75zM445.7 445.7h.75v.75h-.75zM468.5 424.3h.75v.75h-.75zM460.7 427.5h.75v.75h-.75zM452.5 468.0h.75v.75h-.75zM467.9 440.2h.75v.75h-.75zM485.6 443.9h.75v.75h-.75zM464.6 429.2h.75v.75h-.75zM474.4 461.1h.75v.75h-.75zM497.2 440.3h.75v.75h-.75zM461.3 449.7h.75v.75h-.75zM480.1 450.7h.75v.75h-.75zM449.1 460.8h.75v.75h-.75zM457.6 444.9h.75v.75h-.75zM466.8 430.9h.75v.75h-.75zM484.2 446.9h.75v.75h-.75zM471.3 438.1h.75v.75h-.75zM462.7 414.6h.75v.75h-.75zM478.2 430.6h.75v.75h-.75zM490.2 417.7h.75v.75h-.75zM489.6 436.8h.75v.75h-.75zM457.8 432.3h.75v.75h-.75zM478.2 434.0h.75v.75h-.75zM461.9 415.9h.75v.75h-.75zM479.3 446.5h.75v.75h-.75zM484.7 441.4h.75v.75h-.75zM454.3 453.8h.75v.75h-.75zM499.1 422.1h.75v.75h-.75zM443.5 431.8h.75v.75h-.75zM471.9 429.5h.75v.75h-.75zM445.5 445.1h.75v.75h-.75zM462.6 429.0h.75v.75h-.75zM491.0 446.3h.75v.75h-.75zM487.7 423.3h.75v.75h-.75zM495.9 444.9h.75v.75h-.75zM465.3 440.8h.75v.75h-.75zM456.3 438.0h.75v.75h-.75zM456.3 436.2h.75v.75h-.75zM510.0 437.3h.75v.75h-.75zM483.7 452.0h.75v.75h-.75zM456.6 453.0h.75v.75h-.75zM470.0 451.3h.75v.75h-.75zM468.6 440.7h.75v.75h-.75zM483.0 431.6h.75v.75h-.75zM461.5 430.3h.75v.75h-.75zM445.4 435.2h.75v.75h-.75zM459.1 437.7h.75v.75h-.75zM477.3 430.6h.75v.75h-.75zM470.8 422.0h.75v.75h-.75zM461.9 424.1h.75v.75h-.75zM452.0 449.1h.75v.75h-.75zM486.5 429.0h.75v.75h-.75zM478.1 437.9h.75v.75h-.75zM457.7 432.6h.75v.75h-.75zM462.0 442.5h.75v.75h-.75zM495.1 434.9h.75v.75h-.75zM465.7 454.1h.75v.75h-.75zM488.3 441.2h.75v.75h-.75zM467.6 422.7h.75v.75h-.75zM467.6 438.5h.75v.75h-.75zM463.3 423.1h.75v.75h-.75zM478.1 433.0h.75v.75h-.75z" fill="#e62630" fill-opacity="0.7"/>
<line x1="470.70" y1="378.00" x2="470.70" y2="469.70" stroke="#444" stroke-width="0.7"/>
<line x1="431.30" y1="428.20" x2="527.80" y2="428.20" stroke="#444" stroke-width="0.7"/>
<text x="432.80" y="382.20" font-size="3.0" text-anchor="start" font-family='"Liberation Sans", sans-serif' fill="#666" color="#666">Q1-UL(2.94%)</text>
<text x="526.30" y="382.20" font-size="3.0" text-anchor="end" font-family='"Liberation Sans", sans-serif' fill="#666" color="#666">Q1-UR(2.64%)</text>
<text x="432.80" y="467.20" font-size="3.0" text-anchor="start" font-family='"Liberation Sans", sans-serif' fill="#666" color="#666">Q1-LL(91.74%)</text>
<text x="526.30" y="467.20" font-size="3.0" text-anchor="end" font-family='"Liberation Sans", sans-serif' fill="#666" color="#666">Q1-LR(3.48%)</text>
<text x="427.20" y="387.00" font-size="3.6" text-anchor="middle" font-family='"Liberation Sans", sans-serif' fill="#777" color="#777" transform="rotate(-90 427.20 387.00)">10⁵</text>
<text x="427.20" y="417.20" font-size="3.6" text-anchor="middle" font-family='"Liberation Sans", sans-serif' fill="#777" color="#777" transform="rotate(-90 427.20 417.20)">10⁴</text>
<text x="427.20" y="452.70" font-size="3.6" text-anchor="middle" font-family='"Liberation Sans", sans-serif' fill="#777" color="#777" transform="rotate(-90 427.20 452.70)">0</text>
<text x="447.85" y="473.90" font-size="3.6" text-anchor="middle" font-family='"Liberation Sans", sans-serif' fill="#777" color="#777">0</text>
<text x="472.70" y="473.90" font-size="3.6" text-anchor="middle" font-family='"Liberation Sans", sans-serif' fill="#777" color="#777">10³</text>
<text x="517.80" y="473.90" font-size="3.6" text-anchor="middle" font-family='"Liberation Sans", sans-serif' fill="#777" color="#777">10⁵</text>
<rect x="537" y="378" width="91.30" height="91.70" fill="none" stroke="#aaa" stroke-width="0.6"/>
<path d="M536.0 380.3h1M536.0 382.6h1M536.0 384.9h1M536.0 387.2h1M536.0 389.5h1M536.0 391.8h1M536.0 394.0h1M536.0 396.3h1M536.0 398.6h1M536.0 400.9h1M536.0 403.2h1M536.0 405.5h1M536.0 407.8h1M536.0 410.1h1M536.0 412.4h1M536.0 414.7h1M536.0 417.0h1M536.0 419.3h1M536.0 421.6h1M536.0 423.9h1M536.0 426.1h1M536.0 428.4h1M536.0 430.7h1M536.0 433.0h1M536.0 435.3h1M536.0 437.6h1M536.0 439.9h1M536.0 442.2h1M536.0 444.5h1M536.0 446.8h1M536.0 449.1h1M536.0 451.4h1M536.0 453.7h1M536.0 455.9h1M536.0 458.2h1M536.0 460.5h1M536.0 462.8h1M536.0 465.1h1M536.0 467.4h1M539.3 469.7v1M541.6 469.7v1M543.8 469.7v1M546.1 469.7v1M548.4 469.7v1M550.7 469.7v1M553.0 469.7v1M555.3 469.7v1M557.5 469.7v1M559.8 469.7v1M562.1 469.7v1M564.4 469.7v1M566.7 469.7v1M569.0 469.7v1M571.2 469.7v1M573.5 469.7v1M575.8 469.7v1M578.1 469.7v1M580.4 469.7v1M582.6 469.7v1M584.9 469.7v1M587.2 469.7v1M589.5 469.7v1M591.8 469.7v1M594.1 469.7v1M596.3 469.7v1M598.6 469.7v1M600.9 469.7v1M603.2 469.7v1M605.5 469.7v1M607.8 469.7v1M610.0 469.7v1M612.3 469.7v1M614.6 469.7v1M616.9 469.7v1M619.2 469.7v1M621.5 469.7v1M623.7 469.7v1M626.0 469.7v1" stroke="#888" stroke-width="0.4"/>
<line x1="537.00" y1="378.00" x2="537.00" y2="469.70" stroke="#888" stroke-width="0.7"/>
<line x1="537.00" y1="469.70" x2="628.30" y2="469.70" stroke="#888" stroke-width="0.7"/>
<ellipse cx="563" cy="451.5" rx="12.5" ry="10.5" fill="url(#coreg)" transform="rotate(-30 563 451.5)"/>
<path d="M565.2 446.3h.75v.75h-.75zM552.8 452.7h.75v.75h-.75zM563.3 446.8h.75v.75h-.75zM559.9 453.2h.75v.75h-.75zM565.9 447.8h.75v.75h-.75zM560.4 453.9h.75v.75h-.75zM565.4 457.9h.75v.75h-.75zM560.9 449.3h.75v.75h-.75zM566.7 455.8h.75v.75h-.75zM561.6 453.0h.75v.75h-.75zM556.3 452.5h.75v.75h-.75zM561.3 451.1h.75v.75h-.75zM560.5 451.5h.75v.75h-.75zM569.9 452.9h.75v.75h-.75zM556.1 463.3h.75v.75h-.75zM552.0 455.3h.75v.75h-.75zM567.2 448.6h.75v.75h-.75zM556.9 459.5h.75v.75h-.75zM551.2 458.6h.75v.75h-.75zM555.3 449.9h.75v.75h-.75zM556.2 458.0h.75v.75h-.75zM558.1 451.3h.75v.75h-.75zM572.3 450.0h.75v.75h-.75zM559.0 456.5h.75v.75h-.75zM563.7 448.4h.75v.75h-.75zM562.9 450.6h.75v.75h-.75zM557.2 455.6h.75v.75h-.75zM550.8 447.5h.75v.75h-.75zM570.4 447.2h.75v.75h-.75zM557.6 443.5h.75v.75h-.75zM555.7 454.6h.75v.75h-.75zM563.3 450.3h.75v.75h-.75zM555.6 448.1h.75v.75h-.75zM557.3 449.2h.75v.75h-.75zM565.5 441.4h.75v.75h-.75zM557.7 452.1h.75v.75h-.75zM561.4 447.0h.75v.75h-.75zM558.2 452.8h.75v.75h-.75zM568.4 454.1h.75v.75h-.75zM551.6 452.0h.75v.75h-.75zM545.2 450.8h.75v.75h-.75zM560.8 458.4h.75v.75h-.75zM558.5 449.2h.75v.75h-.75zM575.7 453.2h.75v.75h-.75zM560.8 454.2h.75v.75h-.75zM560.9 457.9h.75v.75h-.75zM564.6 448.3h.75v.75h-.75zM561.9 442.7h.75v.75h-.75zM563.7 448.2h.75v.75h-.75zM555.4 454.1h.75v.75h-.75zM558.6 461.8h.75v.75h-.75zM568.3 445.2h.75v.75h-.75zM553.9 456.5h.75v.75h-.75zM558.3 445.7h.75v.75h-.75zM562.4 449.5h.75v.75h-.75zM564.4 456.4h.75v.75h-.75zM560.7 457.0h.75v.75h-.75zM563.9 453.3h.75v.75h-.75zM564.9 451.1h.75v.75h-.75zM561.1 454.3h.75v.75h-.75zM556.5 458.2h.75v.75h-.75zM563.0 450.5h.75v.75h-.75zM557.4 452.2h.75v.75h-.75zM557.5 453.7h.75v.75h-.75zM567.3 451.6h.75v.75h-.75zM563.1 442.1h.75v.75h-.75zM554.5 452.5h.75v.75h-.75zM550.9 453.0h.75v.75h-.75zM556.1 452.9h.75v.75h-.75zM561.9 448.1h.75v.75h-.75zM563.7 456.3h.75v.75h-.75zM560.3 455.9h.75v.75h-.75zM571.4 449.1h.75v.75h-.75zM559.8 467.9h.75v.75h-.75zM555.0 457.9h.75v.75h-.75zM559.9 459.0h.75v.75h-.75zM565.5 452.4h.75v.75h-.75zM562.9 454.6h.75v.75h-.75zM562.4 457.1h.75v.75h-.75zM567.6 446.4h.75v.75h-.75zM566.2 442.8h.75v.75h-.75zM569.0 460.2h.75v.75h-.75zM558.3 444.1h.75v.75h-.75zM562.8 444.4h.75v.75h-.75zM562.1 450.3h.75v.75h-.75zM561.6 448.5h.75v.75h-.75zM571.1 449.6h.75v.75h-.75zM563.7 459.4h.75v.75h-.75zM563.7 455.4h.75v.75h-.75zM554.7 443.0h.75v.75h-.75zM559.5 449.3h.75v.75h-.75zM564.0 452.2h.75v.75h-.75zM561.9 450.8h.75v.75h-.75zM555.9 443.0h.75v.75h-.75zM564.6 447.6h.75v.75h-.75zM561.0 457.6h.75v.75h-.75zM567.0 450.0h.75v.75h-.75zM564.9 447.8h.75v.75h-.75zM566.8 443.2h.75v.75h-.75zM556.7 458.4h.75v.75h-.75zM557.9 465.7h.75v.75h-.75zM566.3 446.2h.75v.75h-.75zM577.4 452.2h.75v.75h-.75zM565.5 451.0h.75v.75h-.75zM565.0 445.1h.75v.75h-.75zM559.8 444.7h.75v.75h-.75zM573.1 450.2h.75v.75h-.75zM563.7 450.6h.75v.75h-.75zM561.9 447.9h.75v.75h-.75zM564.2 452.3h.75v.75h-.75zM559.4 454.8h.75v.75h-.75zM565.7 464.0h.75v.75h-.75zM562.9 450.8h.75v.75h-.75zM561.2 448.1h.75v.75h-.75zM554.4 448.7h.75v.75h-.75zM555.9 456.2h.75v.75h-.75zM560.0 456.6h.75v.75h-.75zM549.8 454.5h.75v.75h-.75zM557.0 458.4h.75v.75h-.75zM561.6 452.6h.75v.75h-.75zM561.4 450.8h.75v.75h-.75zM573.3 445.9h.75v.75h-.75zM550.6 455.5h.75v.75h-.75zM560.3 453.7h.75v.75h-.75zM559.2 450.9h.75v.75h-.75zM562.9 446.1h.75v.75h-.75zM559.8 446.9h.75v.75h-.75zM557.1 459.4h.75v.75h-.75zM562.3 448.8h.75v.75h-.75zM559.7 462.1h.75v.75h-.75zM572.8 441.4h.75v.75h-.75zM559.4 452.2h.75v.75h-.75zM563.8 449.7h.75v.75h-.75zM566.3 443.6h.75v.75h-.75zM563.6 442.0h.75v.75h-.75zM560.3 447.7h.75v.75h-.75zM560.9 458.3h.75v.75h-.75zM560.2 447.5h.75v.75h-.75zM556.6 454.9h.75v.75h-.75zM561.7 453.8h.75v.75h-.75zM570.1 452.3h.75v.75h-.75zM569.2 437.2h.75v.75h-.75zM556.6 449.6h.75v.75h-.75zM565.9 439.5h.75v.75h-.75zM561.2 454.0h.75v.75h-.75zM560.5 455.6h.75v.75h-.75zM559.9 457.8h.75v.75h-.75zM566.0 454.1h.75v.75h-.75zM556.4 459.5h.75v.75h-.75zM556.5 458.5h.75v.75h-.75zM568.0 451.9h.75v.75h-.75zM551.8 459.3h.75v.75h-.75zM558.5 448.1h.75v.75h-.75zM563.7 452.2h.75v.75h-.75zM560.9 446.5h.75v.75h-.75zM559.7 449.0h.75v.75h-.75zM571.4 449.5h.75v.75h-.75zM568.5 457.0h.75v.75h-.75zM563.3 450.2h.75v.75h-.75zM566.9 453.6h.75v.75h-.75zM561.1 452.2h.75v.75h-.75zM559.6 459.4h.75v.75h-.75zM568.0 453.6h.75v.75h-.75zM568.9 446.9h.75v.75h-.75zM555.1 458.9h.75v.75h-.75zM569.8 451.0h.75v.75h-.75zM572.8 447.9h.75v.75h-.75zM566.8 459.2h.75v.75h-.75zM555.4 453.7h.75v.75h-.75zM565.6 447.3h.75v.75h-.75zM558.2 441.5h.75v.75h-.75zM568.3 441.8h.75v.75h-.75zM561.6 456.5h.75v.75h-.75zM561.2 434.5h.75v.75h-.75zM556.9 458.4h.75v.75h-.75zM561.2 445.7h.75v.75h-.75zM562.5 445.2h.75v.75h-.75zM554.1 459.0h.75v.75h-.75zM558.3 443.4h.75v.75h-.75zM556.2 450.0h.75v.75h-.75zM567.2 445.1h.75v.75h-.75zM562.4 450.0h.75v.75h-.75zM558.8 458.5h.75v.75h-.75zM567.2 459.7h.75v.75h-.75zM562.1 442.7h.75v.75h-.75zM560.2 446.6h.75v.75h-.75zM559.3 465.8h.75v.75h-.75zM567.8 453.9h.75v.75h-.75zM562.0 462.4h.75v.75h-.75zM552.0 464.8h.75v.75h-.75zM558.0 453.5h.75v.75h-.75zM559.9 448.3h.75v.75h-.75zM548.7 460.6h.75v.75h-.75zM566.5 452.8h.75v.75h-.75zM568.3 458.2h.75v.75h-.75zM556.4 456.0h.75v.75h-.75zM567.1 463.4h.75v.75h-.75zM564.1 442.7h.75v.75h-.75zM562.6 442.7h.75v.75h-.75zM556.6 450.8h.75v.75h-.75zM571.4 442.9h.75v.75h-.75zM563.3 452.0h.75v.75h-.75zM557.4 449.4h.75v.75h-.75zM565.7 457.6h.75v.75h-.75zM562.0 452.6h.75v.75h-.75zM556.7 455.7h.75v.75h-.75zM565.3 447.9h.75v.75h-.75zM563.4 451.3h.75v.75h-.75zM550.8 453.1h.75v.75h-.75zM561.1 447.1h.75v.75h-.75zM563.6 452.8h.75v.75h-.75zM566.2 440.0h.75v.75h-.75zM567.5 447.6h.75v.75h-.75zM562.2 448.3h.75v.75h-.75zM562.9 457.7h.75v.75h-.75zM555.3 452.0h.75v.75h-.75zM560.7 442.7h.75v.75h-.75zM557.5 452.2h.75v.75h-.75zM565.9 452.4h.75v.75h-.75zM567.9 452.3h.75v.75h-.75zM558.2 457.4h.75v.75h-.75zM549.4 459.6h.75v.75h-.75zM563.1 454.0h.75v.75h-.75zM566.9 457.6h.75v.75h-.75zM559.9 450.5h.75v.75h-.75zM553.6 457.2h.75v.75h-.75zM564.9 451.9h.75v.75h-.75zM556.8 455.5h.75v.75h-.75zM561.7 454.5h.75v.75h-.75zM560.2 450.7h.75v.75h-.75zM565.2 449.5h.75v.75h-.75zM553.9 454.4h.75v.75h-.75zM567.9 438.1h.75v.75h-.75zM563.0 453.3h.75v.75h-.75zM573.0 453.5h.75v.75h-.75zM555.7 452.6h.75v.75h-.75zM549.4 453.4h.75v.75h-.75zM560.6 450.9h.75v.75h-.75zM553.4 460.2h.75v.75h-.75zM561.3 449.2h.75v.75h-.75zM550.3 460.6h.75v.75h-.75zM565.6 443.0h.75v.75h-.75zM561.6 448.5h.75v.75h-.75zM564.9 458.8h.75v.75h-.75zM560.5 449.2h.75v.75h-.75zM553.7 446.5h.75v.75h-.75zM567.0 451.6h.75v.75h-.75zM568.0 447.3h.75v.75h-.75zM569.5 449.0h.75v.75h-.75zM558.4 455.6h.75v.75h-.75zM562.0 449.1h.75v.75h-.75zM564.3 453.3h.75v.75h-.75zM558.2 451.4h.75v.75h-.75zM561.4 452.0h.75v.75h-.75zM561.9 450.3h.75v.75h-.75zM566.2 443.2h.75v.75h-.75zM551.1 450.3h.75v.75h-.75zM569.5 445.9h.75v.75h-.75zM561.6 455.7h.75v.75h-.75zM561.9 447.2h.75v.75h-.75zM558.4 447.3h.75v.75h-.75zM567.2 450.9h.75v.75h-.75zM565.1 454.4h.75v.75h-.75zM562.0 452.2h.75v.75h-.75zM566.9 448.4h.75v.75h-.75zM558.4 444.6h.75v.75h-.75zM566.0 452.7h.75v.75h-.75zM556.9 458.9h.75v.75h-.75zM559.6 451.0h.75v.75h-.75zM571.4 450.0h.75v.75h-.75zM558.1 448.4h.75v.75h-.75zM557.4 449.5h.75v.75h-.75zM560.5 452.8h.75v.75h-.75zM562.7 450.7h.75v.75h-.75zM564.5 453.5h.75v.75h-.75zM562.2 452.6h.75v.75h-.75zM561.7 449.3h.75v.75h-.75zM562.0 448.4h.75v.75h-.75zM575.8 450.3h.75v.75h-.75zM553.0 448.1h.75v.75h-.75zM563.5 453.8h.75v.75h-.75zM566.5 448.4h.75v.75h-.75zM556.7 445.9h.75v.75h-.75zM565.2 445.7h.75v.75h-.75zM565.1 448.6h.75v.75h-.75zM572.6 447.6h.75v.75h-.75zM567.6 443.2h.75v.75h-.75zM564.7 455.7h.75v.75h-.75zM557.5 447.3h.75v.75h-.75zM561.1 444.6h.75v.75h-.75zM558.2 454.5h.75v.75h-.75zM558.0 458.0h.75v.75h-.75zM567.8 460.3h.75v.75h-.75zM550.2 456.9h.75v.75h-.75zM549.5 451.2h.75v.75h-.75zM558.5 452.9h.75v.75h-.75zM566.0 457.5h.75v.75h-.75zM556.3 461.8h.75v.75h-.75zM565.9 446.0h.75v.75h-.75zM558.2 461.6h.75v.75h-.75zM561.2 450.7h.75v.75h-.75zM561.5 445.6h.75v.75h-.75zM563.7 454.7h.75v.75h-.75zM565.0 451.5h.75v.75h-.75zM560.8 444.3h.75v.75h-.75zM556.5 448.2h.75v.75h-.75zM554.0 454.2h.75v.75h-.75zM568.6 452.0h.75v.75h-.75zM563.9 445.1h.75v.75h-.75zM567.7 455.8h.75v.75h-.75zM558.1 448.2h.75v.75h-.75zM565.2 445.6h.75v.75h-.75zM567.0 453.8h.75v.75h-.75zM568.9 456.0h.75v.75h-.75zM561.7 450.0h.75v.75h-.75zM569.2 448.3h.75v.75h-.75zM554.8 455.6h.75v.75h-.75zM560.6 457.9h.75v.75h-.75zM556.5 451.0h.75v.75h-.75zM554.7 452.8h.75v.75h-.75zM562.5 448.2h.75v.75h-.75zM567.1 441.3h.75v.75h-.75zM557.8 456.4h.75v.75h-.75zM559.1 450.3h.75v.75h-.75zM558.7 457.8h.75v.75h-.75zM558.8 450.0h.75v.75h-.75zM566.4 457.3h.75v.75h-.75zM567.5 451.2h.75v.75h-.75zM553.6 459.5h.75v.75h-.75zM564.5 444.1h.75v.75h-.75zM564.2 447.4h.75v.75h-.75zM559.1 449.5h.75v.75h-.75zM552.3 464.4h.75v.75h-.75zM560.6 454.3h.75v.75h-.75zM554.9 451.1h.75v.75h-.75zM564.0 439.3h.75v.75h-.75zM563.8 445.9h.75v.75h-.75zM569.5 456.4h.75v.75h-.75zM558.7 450.0h.75v.75h-.75zM562.8 454.5h.75v.75h-.75zM559.9 443.5h.75v.75h-.75zM564.2 453.0h.75v.75h-.75zM558.4 458.2h.75v.75h-.75zM559.0 454.8h.75v.75h-.75zM555.7 448.3h.75v.75h-.75zM561.9 445.9h.75v.75h-.75zM562.3 454.6h.75v.75h-.75zM571.2 443.2h.75v.75h-.75zM563.8 443.5h.75v.75h-.75zM560.4 452.8h.75v.75h-.75zM567.4 444.0h.75v.75h-.75zM567.0 443.9h.75v.75h-.75zM559.3 451.2h.75v.75h-.75zM562.7 450.6h.75v.75h-.75zM559.9 444.9h.75v.75h-.75zM560.3 452.0h.75v.75h-.75zM562.0 457.9h.75v.75h-.75zM560.4 455.6h.75v.75h-.75zM558.0 458.2h.75v.75h-.75zM563.7 456.1h.75v.75h-.75zM558.6 452.8h.75v.75h-.75zM551.2 456.0h.75v.75h-.75zM557.9 447.5h.75v.75h-.75zM567.2 445.1h.75v.75h-.75zM563.1 447.1h.75v.75h-.75zM564.5 444.6h.75v.75h-.75zM562.5 461.7h.75v.75h-.75zM556.8 460.0h.75v.75h-.75zM553.0 446.0h.75v.75h-.75zM553.7 457.3h.75v.75h-.75zM561.1 452.2h.75v.75h-.75zM559.6 454.5h.75v.75h-.75zM561.9 453.7h.75v.75h-.75zM557.9 457.7h.75v.75h-.75zM573.5 441.8h.75v.75h-.75zM556.7 448.0h.75v.75h-.75zM568.8 447.2h.75v.75h-.75zM559.2 457.2h.75v.75h-.75zM568.5 449.7h.75v.75h-.75zM571.9 448.2h.75v.75h-.75zM571.2 447.6h.75v.75h-.75zM569.6 453.4h.75v.75h-.75zM564.4 452.8h.75v.75h-.75zM553.1 461.7h.75v.75h-.75zM552.2 464.6h.75v.75h-.75zM562.7 454.9h.75v.75h-.75zM566.5 445.8h.75v.75h-.75zM553.9 447.7h.75v.75h-.75zM567.9 449.3h.75v.75h-.75zM561.6 453.0h.75v.75h-.75zM555.4 453.9h.75v.75h-.75zM562.6 453.2h.75v.75h-.75zM574.2 448.3h.75v.75h-.75zM558.1 460.0h.75v.75h-.75zM563.1 451.2h.75v.75h-.75zM563.4 457.8h.75v.75h-.75zM559.3 453.7h.75v.75h-.75zM567.7 448.2h.75v.75h-.75zM569.6 450.0h.75v.75h-.75zM565.0 448.1h.75v.75h-.75zM570.0 450.0h.75v.75h-.75zM562.4 440.2h.75v.75h-.75zM565.8 450.9h.75v.75h-.75zM555.6 458.7h.75v.75h-.75zM567.8 455.8h.75v.75h-.75zM560.6 448.4h.75v.75h-.75zM551.6 449.2h.75v.75h-.75zM560.9 458.4h.75v.75h-.75zM553.0 447.1h.75v.75h-.75zM555.0 453.3h.75v.75h-.75zM565.3 449.0h.75v.75h-.75zM565.2 452.2h.75v.75h-.75zM555.1 458.4h.75v.75h-.75zM548.0 462.9h.75v.75h-.75zM564.0 440.8h.75v.75h-.75zM553.8 452.2h.75v.75h-.75zM564.7 440.0h.75v.75h-.75zM564.7 447.0h.75v.75h-.75zM563.0 443.1h.75v.75h-.75zM572.2 446.8h.75v.75h-.75zM564.8 447.7h.75v.75h-.75zM559.9 453.4h.75v.75h-.75zM558.0 455.5h.75v.75h-.75zM560.5 452.3h.75v.75h-.75zM562.4 454.8h.75v.75h-.75zM553.2 459.7h.75v.75h-.75zM558.8 451.5h.75v.75h-.75zM560.6 451.5h.75v.75h-.75zM551.8 450.3h.75v.75h-.75zM553.0 449.1h.75v.75h-.75zM562.1 454.9h.75v.75h-.75zM552.3 462.3h.75v.75h-.75zM567.3 450.5h.75v.75h-.75zM563.4 443.0h.75v.75h-.75zM562.1 447.2h.75v.75h-.75zM556.7 454.0h.75v.75h-.75zM554.6 454.0h.75v.75h-.75zM561.6 446.6h.75v.75h-.75zM562.6 451.9h.75v.75h-.75zM566.2 450.5h.75v.75h-.75zM545.4 448.8h.75v.75h-.75zM563.3 445.7h.75v.75h-.75zM564.9 453.5h.75v.75h-.75zM556.9 448.0h.75v.75h-.75zM562.6 449.9h.75v.75h-.75zM557.2 459.1h.75v.75h-.75zM557.7 456.8h.75v.75h-.75zM552.4 457.7h.75v.75h-.75zM564.6 444.0h.75v.75h-.75zM561.1 447.7h.75v.75h-.75zM558.5 452.1h.75v.75h-.75zM558.5 452.0h.75v.75h-.75zM562.4 455.1h.75v.75h-.75zM568.7 453.1h.75v.75h-.75zM568.8 454.8h.75v.75h-.75zM561.6 459.1h.75v.75h-.75zM556.0 452.7h.75v.75h-.75zM564.0 445.6h.75v.75h-.75zM551.2 459.4h.75v.75h-.75zM569.3 450.1h.75v.75h-.75zM565.1 451.6h.75v.75h-.75zM557.8 450.3h.75v.75h-.75zM559.6 451.5h.75v.75h-.75zM556.6 465.4h.75v.75h-.75zM562.9 441.7h.75v.75h-.75zM555.6 457.2h.75v.75h-.75zM561.0 453.5h.75v.75h-.75zM557.0 456.6h.75v.75h-.75zM550.5 452.5h.75v.75h-.75zM560.5 452.2h.75v.75h-.75zM558.3 450.4h.75v.75h-.75zM555.6 452.2h.75v.75h-.75zM553.4 451.9h.75v.75h-.75zM557.6 461.6h.75v.75h-.75zM557.9 458.5h.75v.75h-.75zM556.0 456.5h.75v.75h-.75zM556.9 455.5h.75v.75h-.75zM558.9 449.7h.75v.75h-.75zM555.3 445.9h.75v.75h-.75zM565.1 452.5h.75v.75h-.75zM562.3 446.7h.75v.75h-.75zM564.0 448.0h.75v.75h-.75zM555.6 448.6h.75v.75h-.75zM558.0 450.3h.75v.75h-.75zM561.4 449.0h.75v.75h-.75zM560.3 458.8h.75v.75h-.75zM556.9 460.8h.75v.75h-.75zM557.2 453.0h.75v.75h-.75zM563.8 454.0h.75v.75h-.75zM565.7 450.3h.75v.75h-.75zM569.4 450.9h.75v.75h-.75zM559.2 450.1h.75v.75h-.75zM564.8 452.8h.75v.75h-.75zM565.3 442.4h.75v.75h-.75zM562.3 438.4h.75v.75h-.75zM561.6 461.4h.75v.75h-.75zM560.9 452.7h.75v.75h-.75zM565.6 450.6h.75v.75h-.75zM565.7 453.3h.75v.75h-.75zM564.0 441.5h.75v.75h-.75zM568.8 449.4h.75v.75h-.75zM554.5 454.2h.75v.75h-.75zM557.9 466.9h.75v.75h-.75zM572.4 441.4h.75v.75h-.75zM564.8 451.4h.75v.75h-.75zM557.3 451.0h.75v.75h-.75zM552.6 453.9h.75v.75h-.75zM576.3 442.0h.75v.75h-.75zM570.6 440.1h.75v.75h-.75zM567.1 444.7h.75v.75h-.75zM551.9 448.1h.75v.75h-.75zM558.0 458.4h.75v.75h-.75zM554.0 451.7h.75v.75h-.75zM548.3 464.4h.75v.75h-.75zM558.4 445.7h.75v.75h-.75zM559.6 439.2h.75v.75h-.75zM578.5 442.2h.75v.75h-.75zM552.6 450.9h.75v.75h-.75zM570.1 462.7h.75v.75h-.75zM565.2 442.3h.75v.75h-.75zM568.0 454.8h.75v.75h-.75zM563.7 448.1h.75v.75h-.75zM570.1 444.3h.75v.75h-.75zM562.0 457.4h.75v.75h-.75zM571.5 444.2h.75v.75h-.75zM568.3 462.1h.75v.75h-.75zM555.6 457.4h.75v.75h-.75zM561.2 456.9h.75v.75h-.75zM576.5 445.8h.75v.75h-.75zM575.9 450.3h.75v.75h-.75zM556.5 459.7h.75v.75h-.75zM565.5 445.2h.75v.75h-.75zM575.6 447.1h.75v.75h-.75zM566.8 443.9h.75v.75h-.75zM558.2 450.2h.75v.75h-.75zM568.0 450.8h.75v.75h-.75zM564.3 437.8h.75v.75h-.75zM550.5 454.6h.75v.75h-.75zM566.8 445.6h.75v.75h-.75zM564.5 456.0h.75v.75h-.75zM568.0 441.4h.75v.75h-.75zM576.7 444.4h.75v.75h-.75zM576.8 445.1h.75v.75h-.75zM575.1 455.0h.75v.75h-.75zM575.6 447.1h.75v.75h-.75zM555.9 463.3h.75v.75h-.75zM555.2 458.7h.75v.75h-.75zM565.9 443.6h.75v.75h-.75zM563.1 441.6h.75v.75h-.75zM566.5 448.1h.75v.75h-.75zM559.6 455.5h.75v.75h-.75zM567.6 448.0h.75v.75h-.75zM575.2 439.9h.75v.75h-.75zM562.3 453.7h.75v.75h-.75zM562.4 448.4h.75v.75h-.75zM559.2 445.5h.75v.75h-.75zM547.5 456.2h.75v.75h-.75zM561.4 449.2h.75v.75h-.75zM561.4 439.6h.75v.75h-.75zM565.0 448.6h.75v.75h-.75zM557.8 454.4h.75v.75h-.75zM573.6 441.6h.75v.75h-.75zM571.0 437.8h.75v.75h-.75zM577.5 450.3h.75v.75h-.75zM542.8 462.7h.75v.75h-.75zM558.9 449.7h.75v.75h-.75zM568.3 449.7h.75v.75h-.75zM566.7 443.7h.75v.75h-.75zM566.4 449.3h.75v.75h-.75zM563.2 440.3h.75v.75h-.75zM571.4 445.1h.75v.75h-.75zM561.0 451.8h.75v.75h-.75zM562.1 445.7h.75v.75h-.75zM582.4 443.4h.75v.75h-.75zM561.5 450.7h.75v.75h-.75zM571.0 456.2h.75v.75h-.75zM564.9 445.7h.75v.75h-.75zM569.7 438.5h.75v.75h-.75zM564.0 444.4h.75v.75h-.75zM571.0 442.5h.75v.75h-.75zM572.7 450.1h.75v.75h-.75zM562.8 458.3h.75v.75h-.75zM559.9 442.2h.75v.75h-.75zM559.1 451.5h.75v.75h-.75zM557.0 454.6h.75v.75h-.75zM575.1 444.2h.75v.75h-.75zM577.5 444.4h.75v.75h-.75zM550.0 447.6h.75v.75h-.75zM557.7 459.1h.75v.75h-.75zM564.8 453.4h.75v.75h-.75zM570.5 440.3h.75v.75h-.75zM554.7 453.4h.75v.75h-.75zM559.5 441.8h.75v.75h-.75zM564.7 451.8h.75v.75h-.75zM570.2 453.6h.75v.75h-.75zM556.9 438.3h.75v.75h-.75zM571.3 444.8h.75v.75h-.75zM557.0 449.7h.75v.75h-.75zM570.6 461.9h.75v.75h-.75zM558.8 454.8h.75v.75h-.75zM560.9 455.0h.75v.75h-.75zM569.5 447.2h.75v.75h-.75zM566.7 450.0h.75v.75h-.75zM569.2 452.8h.75v.75h-.75zM562.4 451.4h.75v.75h-.75zM561.6 454.5h.75v.75h-.75zM572.8 446.5h.75v.75h-.75zM577.8 437.8h.75v.75h-.75zM566.8 451.0h.75v.75h-.75zM566.8 449.7h.75v.75h-.75zM557.7 441.9h.75v.75h-.75zM577.5 439.3h.75v.75h-.75zM560.7 447.0h.75v.75h-.75zM566.6 458.7h.75v.75h-.75zM573.8 451.1h.75v.75h-.75zM542.3 466.8h.75v.75h-.75zM560.9 435.8h.75v.75h-.75zM553.1 455.4h.75v.75h-.75zM559.9 461.3h.75v.75h-.75zM563.3 447.1h.75v.75h-.75zM552.2 456.2h.75v.75h-.75zM571.8 441.7h.75v.75h-.75zM581.1 447.7h.75v.75h-.75zM561.0 450.5h.75v.75h-.75zM563.2 440.5h.75v.75h-.75zM576.2 454.1h.75v.75h-.75zM566.2 449.9h.75v.75h-.75zM554.8 455.6h.75v.75h-.75zM567.6 437.9h.75v.75h-.75zM558.5 457.4h.75v.75h-.75zM573.1 443.8h.75v.75h-.75zM558.2 456.9h.75v.75h-.75zM574.2 440.1h.75v.75h-.75zM553.7 461.3h.75v.75h-.75zM561.7 448.9h.75v.75h-.75zM547.3 455.7h.75v.75h-.75zM582.7 441.9h.75v.75h-.75zM563.6 439.5h.75v.75h-.75zM561.0 450.1h.75v.75h-.75zM566.5 457.8h.75v.75h-.75zM564.4 458.7h.75v.75h-.75zM567.0 447.4h.75v.75h-.75zM580.7 454.5h.75v.75h-.75zM575.7 446.5h.75v.75h-.75zM560.0 444.0h.75v.75h-.75zM565.9 449.6h.75v.75h-.75zM562.8 451.4h.75v.75h-.75zM567.2 456.7h.75v.75h-.75zM555.5 438.6h.75v.75h-.75zM560.5 459.7h.75v.75h-.75zM551.7 459.9h.75v.75h-.75zM567.5 453.8h.75v.75h-.75zM558.3 443.2h.75v.75h-.75zM572.4 438.1h.75v.75h-.75zM564.6 457.3h.75v.75h-.75zM552.5 452.0h.75v.75h-.75zM576.5 453.9h.75v.75h-.75zM547.8 447.4h.75v.75h-.75zM585.4 449.1h.75v.75h-.75zM576.6 450.7h.75v.75h-.75zM576.2 438.4h.75v.75h-.75zM577.1 445.0h.75v.75h-.75zM572.9 460.1h.75v.75h-.75zM562.9 445.9h.75v.75h-.75zM558.1 459.7h.75v.75h-.75zM564.6 450.5h.75v.75h-.75zM544.6 449.8h.75v.75h-.75zM566.6 446.2h.75v.75h-.75zM562.9 444.0h.75v.75h-.75zM565.1 462.0h.75v.75h-.75zM559.7 441.4h.75v.75h-.75zM551.9 445.9h.75v.75h-.75zM563.8 450.7h.75v.75h-.75zM559.9 458.3h.75v.75h-.75zM560.0 442.9h.75v.75h-.75zM563.5 444.8h.75v.75h-.75zM569.6 447.4h.75v.75h-.75zM573.1 445.6h.75v.75h-.75zM553.9 453.6h.75v.75h-.75zM564.5 446.0h.75v.75h-.75zM548.0 454.7h.75v.75h-.75zM554.0 458.1h.75v.75h-.75zM554.3 445.4h.75v.75h-.75zM560.9 440.5h.75v.75h-.75zM562.3 445.9h.75v.75h-.75zM565.2 450.9h.75v.75h-.75zM563.1 468.2h.75v.75h-.75zM562.0 456.6h.75v.75h-.75zM552.3 457.1h.75v.75h-.75zM566.4 430.2h.75v.75h-.75zM555.2 440.3h.75v.75h-.75zM567.6 453.7h.75v.75h-.75zM560.2 447.6h.75v.75h-.75zM578.1 441.6h.75v.75h-.75zM555.0 458.2h.75v.75h-.75zM566.6 457.7h.75v.75h-.75zM571.1 452.2h.75v.75h-.75zM559.3 452.9h.75v.75h-.75zM560.4 439.2h.75v.75h-.75zM575.8 445.6h.75v.75h-.75zM570.4 454.3h.75v.75h-.75zM565.6 448.6h.75v.75h-.75zM558.9 441.9h.75v.75h-.75zM559.0 435.6h.75v.75h-.75zM550.8 451.7h.75v.75h-.75zM575.9 450.8h.75v.75h-.75zM563.7 445.5h.75v.75h-.75zM568.1 447.8h.75v.75h-.75zM573.9 450.4h.75v.75h-.75zM569.5 445.4h.75v.75h-.75zM562.4 450.0h.75v.75h-.75zM574.2 443.3h.75v.75h-.75zM549.5 449.5h.75v.75h-.75zM573.4 451.0h.75v.75h-.75zM567.4 453.3h.75v.75h-.75zM563.1 449.2h.75v.75h-.75zM568.8 439.5h.75v.75h-.75zM572.4 450.9h.75v.75h-.75zM558.6 457.4h.75v.75h-.75zM566.1 454.8h.75v.75h-.75zM561.0 456.1h.75v.75h-.75zM563.0 450.8h.75v.75h-.75zM570.3 447.2h.75v.75h-.75zM560.7 455.1h.75v.75h-.75zM556.1 456.9h.75v.75h-.75zM561.8 455.3h.75v.75h-.75zM576.0 441.5h.75v.75h-.75zM574.2 435.6h.75v.75h-.75zM570.1 451.4h.75v.75h-.75zM576.1 449.5h.75v.75h-.75zM562.8 452.8h.75v.75h-.75zM559.2 455.5h.75v.75h-.75zM557.8 442.1h.75v.75h-.75zM567.1 445.6h.75v.75h-.75zM567.6 453.9h.75v.75h-.75zM554.8 450.0h.75v.75h-.75zM582.6 444.3h.75v.75h-.75zM570.2 458.4h.75v.75h-.75zM552.0 459.0h.75v.75h-.75zM549.8 451.3h.75v.75h-.75zM565.1 452.3h.75v.75h-.75zM564.6 445.7h.75v.75h-.75zM554.3 456.3h.75v.75h-.75zM562.9 442.1h.75v.75h-.75zM562.5 440.2h.75v.75h-.75zM561.5 461.5h.75v.75h-.75zM572.1 455.1h.75v.75h-.75zM552.7 447.9h.75v.75h-.75zM561.6 454.6h.75v.75h-.75zM562.4 451.6h.75v.75h-.75zM572.2 450.2h.75v.75h-.75zM576.5 435.1h.75v.75h-.75zM575.0 442.7h.75v.75h-.75zM572.7 438.1h.75v.75h-.75zM571.8 453.7h.75v.75h-.75zM573.0 455.2h.75v.75h-.75zM580.3 445.9h.75v.75h-.75zM570.3 454.9h.75v.75h-.75zM573.0 437.3h.75v.75h-.75zM575.1 443.9h.75v.75h-.75zM568.6 448.9h.75v.75h-.75zM578.1 446.5h.75v.75h-.75zM564.5 450.1h.75v.75h-.75zM571.2 450.6h.75v.75h-.75zM570.3 448.6h.75v.75h-.75zM571.8 444.6h.75v.75h-.75zM567.0 455.6h.75v.75h-.75zM570.6 444.5h.75v.75h-.75zM573.2 449.9h.75v.75h-.75zM568.8 451.1h.75v.75h-.75zM575.6 438.5h.75v.75h-.75zM564.2 447.4h.75v.75h-.75zM571.4 458.5h.75v.75h-.75zM578.4 443.8h.75v.75h-.75zM568.3 452.1h.75v.75h-.75zM572.3 443.9h.75v.75h-.75zM570.6 453.5h.75v.75h-.75zM569.8 448.0h.75v.75h-.75zM574.6 451.1h.75v.75h-.75zM566.8 454.1h.75v.75h-.75zM574.1 441.0h.75v.75h-.75zM566.5 449.3h.75v.75h-.75zM571.0 450.9h.75v.75h-.75zM575.1 439.7h.75v.75h-.75zM569.7 448.2h.75v.75h-.75zM572.1 445.4h.75v.75h-.75zM580.9 446.5h.75v.75h-.75zM572.6 440.6h.75v.75h-.75zM573.1 448.8h.75v.75h-.75zM574.6 450.7h.75v.75h-.75zM574.3 442.9h.75v.75h-.75zM572.0 444.4h.75v.75h-.75zM570.9 451.4h.75v.75h-.75zM572.9 443.5h.75v.75h-.75zM573.4 449.0h.75v.75h-.75zM577.3 451.2h.75v.75h-.75zM572.3 439.1h.75v.75h-.75zM575.1 448.0h.75v.75h-.75zM579.7 450.2h.75v.75h-.75zM565.5 441.5h.75v.75h-.75zM571.1 448.3h.75v.75h-.75zM571.0 449.9h.75v.75h-.75zM571.3 444.8h.75v.75h-.75zM577.5 445.7h.75v.75h-.75zM570.9 441.3h.75v.75h-.75zM572.7 446.5h.75v.75h-.75zM578.5 439.5h.75v.75h-.75zM563.5 454.4h.75v.75h-.75zM566.9 449.0h.75v.75h-.75zM567.4 449.0h.75v.75h-.75zM572.0 452.0h.75v.75h-.75zM574.0 447.9h.75v.75h-.75zM568.5 444.7h.75v.75h-.75zM577.4 442.8h.75v.75h-.75zM578.4 439.8h.75v.75h-.75zM568.8 451.1h.75v.75h-.75zM569.8 454.9h.75v.75h-.75zM567.9 459.4h.75v.75h-.75zM574.5 450.2h.75v.75h-.75zM570.2 443.3h.75v.75h-.75zM575.7 449.3h.75v.75h-.75zM576.4 438.8h.75v.75h-.75zM572.0 438.8h.75v.75h-.75zM568.6 442.4h.75v.75h-.75zM562.0 453.2h.75v.75h-.75zM573.3 436.8h.75v.75h-.75zM574.0 448.7h.75v.75h-.75zM572.2 445.8h.75v.75h-.75zM568.6 457.7h.75v.75h-.75zM576.2 444.7h.75v.75h-.75zM571.7 444.5h.75v.75h-.75zM574.6 439.2h.75v.75h-.75zM575.1 440.5h.75v.75h-.75zM575.9 446.1h.75v.75h-.75zM574.6 437.5h.75v.75h-.75zM565.7 434.4h.75v.75h-.75zM573.4 442.7h.75v.75h-.75zM571.6 445.7h.75v.75h-.75zM569.9 446.0h.75v.75h-.75zM568.4 445.9h.75v.75h-.75zM568.2 443.1h.75v.75h-.75zM570.1 438.6h.75v.75h-.75zM570.8 455.0h.75v.75h-.75zM572.2 450.3h.75v.75h-.75zM564.4 451.7h.75v.75h-.75zM568.4 445.2h.75v.75h-.75zM574.6 440.7h.75v.75h-.75zM576.3 443.0h.75v.75h-.75zM570.8 450.4h.75v.75h-.75zM570.0 447.7h.75v.75h-.75zM579.4 442.9h.75v.75h-.75zM567.9 451.5h.75v.75h-.75zM576.1 440.7h.75v.75h-.75zM575.3 439.9h.75v.75h-.75zM573.4 443.5h.75v.75h-.75zM576.2 443.3h.75v.75h-.75zM574.6 455.0h.75v.75h-.75zM571.4 459.3h.75v.75h-.75zM574.9 438.8h.75v.75h-.75zM582.0 437.2h.75v.75h-.75zM572.8 445.8h.75v.75h-.75zM576.1 433.3h.75v.75h-.75zM579.6 439.2h.75v.75h-.75zM568.4 455.2h.75v.75h-.75zM572.0 441.8h.75v.75h-.75zM568.2 445.1h.75v.75h-.75zM572.5 451.9h.75v.75h-.75zM570.0 457.0h.75v.75h-.75zM576.7 442.7h.75v.75h-.75zM571.0 446.4h.75v.75h-.75zM574.8 446.5h.75v.75h-.75zM572.8 450.8h.75v.75h-.75zM573.8 435.4h.75v.75h-.75zM568.5 449.4h.75v.75h-.75zM575.9 442.0h.75v.75h-.75zM571.7 447.9h.75v.75h-.75zM571.2 450.0h.75v.75h-.75zM568.9 434.1h.75v.75h-.75zM573.9 451.0h.75v.75h-.75zM570.1 447.4h.75v.75h-.75zM569.1 445.5h.75v.75h-.75zM571.9 449.1h.75v.75h-.75zM563.1 453.1h.75v.75h-.75zM576.7 455.8h.75v.75h-.75zM570.2 451.3h.75v.75h-.75zM575.9 449.3h.75v.75h-.75zM567.2 449.9h.75v.75h-.75zM563.9 453.9h.75v.75h-.75zM568.3 443.0h.75v.75h-.75zM573.5 450.0h.75v.75h-.75zM577.1 445.2h.75v.75h-.75zM577.5 448.5h.75v.75h-.75zM576.5 449.3h.75v.75h-.75zM569.0 439.6h.75v.75h-.75zM569.9 449.7h.75v.75h-.75zM573.5 449.6h.75v.75h-.75zM574.9 450.7h.75v.75h-.75zM568.2 436.9h.75v.75h-.75zM568.2 450.2h.75v.75h-.75zM566.7 440.9h.75v.75h-.75zM576.7 439.9h.75v.75h-.75zM568.3 449.7h.75v.75h-.75zM573.2 448.8h.75v.75h-.75zM572.3 446.6h.75v.75h-.75zM573.9 443.4h.75v.75h-.75zM565.9 446.5h.75v.75h-.75zM572.2 450.3h.75v.75h-.75zM575.6 449.2h.75v.75h-.75zM574.4 445.8h.75v.75h-.75zM570.5 436.9h.75v.75h-.75zM575.0 431.9h.75v.75h-.75zM573.0 436.7h.75v.75h-.75zM570.7 443.9h.75v.75h-.75zM572.4 450.2h.75v.75h-.75zM581.1 439.7h.75v.75h-.75zM570.2 443.7h.75v.75h-.75zM566.0 447.7h.75v.75h-.75zM574.8 443.1h.75v.75h-.75zM575.2 441.8h.75v.75h-.75zM574.1 440.4h.75v.75h-.75zM571.6 442.0h.75v.75h-.75zM576.1 442.8h.75v.75h-.75zM579.9 442.3h.75v.75h-.75zM577.9 439.9h.75v.75h-.75zM563.9 454.3h.75v.75h-.75zM568.7 441.1h.75v.75h-.75zM573.1 448.0h.75v.75h-.75zM563.5 445.7h.75v.75h-.75zM579.2 446.1h.75v.75h-.75zM575.3 438.6h.75v.75h-.75zM569.0 447.1h.75v.75h-.75zM568.1 453.0h.75v.75h-.75zM576.8 448.3h.75v.75h-.75zM570.8 441.6h.75v.75h-.75zM573.4 441.8h.75v.75h-.75zM567.9 441.0h.75v.75h-.75zM567.7 445.7h.75v.75h-.75zM570.3 437.7h.75v.75h-.75zM572.3 443.4h.75v.75h-.75zM575.4 439.5h.75v.75h-.75zM570.1 446.0h.75v.75h-.75zM575.2 442.8h.75v.75h-.75zM570.3 446.0h.75v.75h-.75zM568.6 447.3h.75v.75h-.75zM570.4 451.8h.75v.75h-.75zM570.2 445.1h.75v.75h-.75zM567.1 444.9h.75v.75h-.75zM564.7 455.1h.75v.75h-.75zM574.1 427.3h.75v.75h-.75zM570.8 453.7h.75v.75h-.75zM570.5 441.2h.75v.75h-.75zM590.9 432.4h.75v.75h-.75zM583.7 431.1h.75v.75h-.75zM583.1 448.1h.75v.75h-.75zM578.8 439.5h.75v.75h-.75zM581.7 432.9h.75v.75h-.75zM589.9 440.0h.75v.75h-.75zM565.4 446.3h.75v.75h-.75zM571.7 452.4h.75v.75h-.75zM582.4 442.6h.75v.75h-.75zM572.3 447.8h.75v.75h-.75zM585.0 433.9h.75v.75h-.75zM585.2 432.4h.75v.75h-.75zM587.8 452.7h.75v.75h-.75zM565.9 445.9h.75v.75h-.75zM580.3 430.5h.75v.75h-.75zM587.4 447.1h.75v.75h-.75zM575.7 448.9h.75v.75h-.75zM587.1 442.3h.75v.75h-.75zM576.9 439.3h.75v.75h-.75zM569.8 449.1h.75v.75h-.75zM592.4 441.5h.75v.75h-.75zM567.6 430.8h.75v.75h-.75zM579.9 446.5h.75v.75h-.75zM578.0 432.1h.75v.75h-.75zM574.3 463.7h.75v.75h-.75zM574.3 454.3h.75v.75h-.75zM565.2 442.1h.75v.75h-.75zM581.0 438.7h.75v.75h-.75zM570.3 444.7h.75v.75h-.75zM593.7 431.9h.75v.75h-.75zM575.6 440.5h.75v.75h-.75zM565.9 437.2h.75v.75h-.75zM581.8 458.1h.75v.75h-.75zM585.8 444.7h.75v.75h-.75zM588.1 438.1h.75v.75h-.75zM576.2 455.5h.75v.75h-.75zM578.4 439.5h.75v.75h-.75zM583.6 433.7h.75v.75h-.75zM590.0 456.0h.75v.75h-.75zM586.7 429.0h.75v.75h-.75zM575.9 437.7h.75v.75h-.75zM577.6 440.1h.75v.75h-.75zM578.3 457.9h.75v.75h-.75zM574.3 440.8h.75v.75h-.75zM570.5 451.2h.75v.75h-.75zM575.4 421.3h.75v.75h-.75zM583.0 425.6h.75v.75h-.75zM582.9 442.1h.75v.75h-.75zM570.5 441.3h.75v.75h-.75zM581.3 452.2h.75v.75h-.75zM577.0 443.3h.75v.75h-.75zM581.3 450.7h.75v.75h-.75zM584.3 440.0h.75v.75h-.75zM582.5 430.7h.75v.75h-.75zM586.1 452.6h.75v.75h-.75zM584.3 427.8h.75v.75h-.75zM585.3 425.1h.75v.75h-.75zM577.8 446.3h.75v.75h-.75zM565.4 441.2h.75v.75h-.75zM561.1 443.8h.75v.75h-.75zM577.3 436.7h.75v.75h-.75zM576.7 452.1h.75v.75h-.75zM566.1 434.1h.75v.75h-.75zM567.2 431.1h.75v.75h-.75zM560.8 445.7h.75v.75h-.75zM587.9 423.6h.75v.75h-.75zM559.9 449.7h.75v.75h-.75zM561.4 453.4h.75v.75h-.75zM582.8 454.7h.75v.75h-.75zM585.1 434.6h.75v.75h-.75zM573.7 431.6h.75v.75h-.75zM582.3 435.1h.75v.75h-.75zM582.9 453.4h.75v.75h-.75zM574.0 448.3h.75v.75h-.75zM599.5 455.4h.75v.75h-.75zM583.1 437.3h.75v.75h-.75zM582.3 442.2h.75v.75h-.75zM579.2 460.0h.75v.75h-.75zM582.6 436.7h.75v.75h-.75zM571.7 440.6h.75v.75h-.75zM578.5 446.1h.75v.75h-.75zM580.3 446.9h.75v.75h-.75zM581.7 446.6h.75v.75h-.75zM576.2 443.8h.75v.75h-.75zM581.0 446.4h.75v.75h-.75zM575.1 446.8h.75v.75h-.75zM590.2 432.5h.75v.75h-.75zM570.0 453.7h.75v.75h-.75zM567.7 458.2h.75v.75h-.75zM578.7 457.2h.75v.75h-.75zM584.6 434.2h.75v.75h-.75zM574.6 436.2h.75v.75h-.75zM579.5 432.6h.75v.75h-.75zM579.0 436.1h.75v.75h-.75zM581.4 426.3h.75v.75h-.75zM590.7 436.9h.75v.75h-.75zM570.4 467.5h.75v.75h-.75zM573.2 443.1h.75v.75h-.75zM578.8 444.8h.75v.75h-.75zM576.4 436.7h.75v.75h-.75zM581.5 441.6h.75v.75h-.75zM592.1 436.2h.75v.75h-.75zM584.1 444.7h.75v.75h-.75zM575.5 446.3h.75v.75h-.75zM585.2 430.3h.75v.75h-.75zM584.0 451.8h.75v.75h-.75zM595.1 452.8h.75v.75h-.75zM571.5 441.0h.75v.75h-.75zM581.8 440.4h.75v.75h-.75zM587.5 437.4h.75v.75h-.75zM585.9 445.7h.75v.75h-.75zM581.0 457.9h.75v.75h-.75zM574.0 440.4h.75v.75h-.75zM572.2 438.5h.75v.75h-.75zM580.9 451.5h.75v.75h-.75zM583.0 452.5h.75v.75h-.75zM576.9 437.4h.75v.75h-.75zM574.1 453.5h.75v.75h-.75zM580.5 454.4h.75v.75h-.75zM567.0 447.0h.75v.75h-.75zM598.4 425.2h.75v.75h-.75zM581.3 447.3h.75v.75h-.75zM579.3 435.3h.75v.75h-.75zM579.3 438.8h.75v.75h-.75zM581.9 444.8h.75v.75h-.75zM570.9 438.4h.75v.75h-.75zM594.7 429.5h.75v.75h-.75zM581.6 436.7h.75v.75h-.75zM567.4 453.1h.75v.75h-.75zM591.1 446.2h.75v.75h-.75zM585.2 444.3h.75v.75h-.75zM579.1 438.9h.75v.75h-.75zM581.4 451.1h.75v.75h-.75zM573.2 448.8h.75v.75h-.75zM596.4 425.2h.75v.75h-.75zM581.1 445.9h.75v.75h-.75zM575.6 446.0h.75v.75h-.75zM567.3 440.0h.75v.75h-.75zM571.9 442.2h.75v.75h-.75zM564.8 435.2h.75v.75h-.75zM578.1 436.3h.75v.75h-.75zM575.3 440.2h.75v.75h-.75zM572.2 446.2h.75v.75h-.75zM577.1 449.1h.75v.75h-.75zM581.6 447.2h.75v.75h-.75zM578.9 442.7h.75v.75h-.75zM574.5 440.0h.75v.75h-.75zM583.9 432.1h.75v.75h-.75zM577.5 443.9h.75v.75h-.75zM580.8 451.2h.75v.75h-.75zM577.6 450.4h.75v.75h-.75zM575.5 426.6h.75v.75h-.75zM594.0 440.3h.75v.75h-.75zM572.2 443.3h.75v.75h-.75zM564.2 453.2h.75v.75h-.75zM566.7 451.3h.75v.75h-.75zM570.1 459.8h.75v.75h-.75zM594.1 451.6h.75v.75h-.75zM602.9 442.0h.75v.75h-.75zM563.4 451.8h.75v.75h-.75zM586.6 429.4h.75v.75h-.75zM578.7 456.5h.75v.75h-.75zM595.0 438.8h.75v.75h-.75zM582.7 451.1h.75v.75h-.75zM574.9 441.5h.75v.75h-.75zM587.0 447.6h.75v.75h-.75zM580.9 457.7h.75v.75h-.75zM580.6 447.9h.75v.75h-.75zM565.3 445.9h.75v.75h-.75zM582.0 450.7h.75v.75h-.75zM581.2 442.8h.75v.75h-.75zM580.2 429.3h.75v.75h-.75zM577.6 452.1h.75v.75h-.75zM583.1 431.5h.75v.75h-.75zM578.3 438.8h.75v.75h-.75zM569.1 461.5h.75v.75h-.75zM582.2 455.0h.75v.75h-.75zM567.9 445.9h.75v.75h-.75zM581.5 435.9h.75v.75h-.75zM580.8 440.8h.75v.75h-.75zM593.8 444.7h.75v.75h-.75zM587.0 432.2h.75v.75h-.75zM588.8 443.1h.75v.75h-.75zM587.6 419.6h.75v.75h-.75zM576.4 450.7h.75v.75h-.75zM585.9 426.3h.75v.75h-.75zM586.7 428.4h.75v.75h-.75zM570.3 450.5h.75v.75h-.75zM575.6 447.8h.75v.75h-.75zM591.7 433.7h.75v.75h-.75zM592.9 429.1h.75v.75h-.75zM594.4 450.3h.75v.75h-.75zM590.1 420.9h.75v.75h-.75zM563.3 447.4h.75v.75h-.75zM573.0 441.6h.75v.75h-.75zM565.6 448.1h.75v.75h-.75zM567.5 440.2h.75v.75h-.75zM584.4 438.7h.75v.75h-.75zM575.1 441.6h.75v.75h-.75zM573.0 435.7h.75v.75h-.75zM572.4 443.5h.75v.75h-.75zM573.2 444.9h.75v.75h-.75zM570.0 445.8h.75v.75h-.75zM568.7 454.4h.75v.75h-.75zM586.7 432.7h.75v.75h-.75zM578.6 449.4h.75v.75h-.75zM565.2 447.4h.75v.75h-.75zM574.4 441.3h.75v.75h-.75zM578.7 458.2h.75v.75h-.75zM572.3 452.3h.75v.75h-.75zM583.0 430.3h.75v.75h-.75zM574.5 447.2h.75v.75h-.75zM581.6 447.1h.75v.75h-.75zM583.8 457.3h.75v.75h-.75zM579.8 441.1h.75v.75h-.75zM576.3 441.3h.75v.75h-.75zM583.7 439.8h.75v.75h-.75zM586.6 450.3h.75v.75h-.75zM590.4 428.1h.75v.75h-.75zM582.7 430.6h.75v.75h-.75zM567.3 434.8h.75v.75h-.75zM590.6 434.5h.75v.75h-.75zM566.8 451.5h.75v.75h-.75zM570.6 439.3h.75v.75h-.75zM596.7 452.5h.75v.75h-.75zM581.9 448.0h.75v.75h-.75zM596.0 430.7h.75v.75h-.75zM579.7 435.8h.75v.75h-.75zM578.5 437.2h.75v.75h-.75zM561.2 449.3h.75v.75h-.75zM578.8 423.5h.75v.75h-.75zM584.4 446.8h.75v.75h-.75zM582.0 450.8h.75v.75h-.75zM599.3 417.9h.75v.75h-.75zM586.3 422.2h.75v.75h-.75zM583.9 434.5h.75v.75h-.75zM588.2 434.8h.75v.75h-.75zM583.6 435.3h.75v.75h-.75zM584.5 425.1h.75v.75h-.75zM573.9 438.6h.75v.75h-.75zM564.7 434.8h.75v.75h-.75zM577.6 432.6h.75v.75h-.75zM576.2 445.3h.75v.75h-.75zM581.4 424.0h.75v.75h-.75zM585.6 442.2h.75v.75h-.75zM579.1 427.8h.75v.75h-.75zM568.8 431.4h.75v.75h-.75zM581.1 429.1h.75v.75h-.75zM586.4 434.3h.75v.75h-.75zM570.6 453.6h.75v.75h-.75zM586.2 440.7h.75v.75h-.75zM573.7 453.7h.75v.75h-.75zM575.1 464.6h.75v.75h-.75zM590.6 430.1h.75v.75h-.75zM578.4 436.1h.75v.75h-.75zM586.6 439.0h.75v.75h-.75zM585.5 421.6h.75v.75h-.75zM581.8 450.7h.75v.75h-.75zM594.6 433.0h.75v.75h-.75zM585.2 443.0h.75v.75h-.75zM588.3 434.9h.75v.75h-.75zM583.4 442.8h.75v.75h-.75zM565.8 429.5h.75v.75h-.75zM564.2 462.7h.75v.75h-.75zM576.9 437.4h.75v.75h-.75zM581.1 435.4h.75v.75h-.75zM593.5 450.9h.75v.75h-.75zM587.9 441.1h.75v.75h-.75zM576.4 450.4h.75v.75h-.75zM580.1 441.2h.75v.75h-.75zM581.6 461.6h.75v.75h-.75zM583.5 439.8h.75v.75h-.75zM582.9 431.2h.75v.75h-.75zM573.5 446.2h.75v.75h-.75zM584.7 431.9h.75v.75h-.75zM583.7 442.3h.75v.75h-.75zM577.3 443.1h.75v.75h-.75zM593.2 444.2h.75v.75h-.75zM587.0 445.3h.75v.75h-.75zM590.4 443.3h.75v.75h-.75zM579.2 454.3h.75v.75h-.75zM561.8 455.8h.75v.75h-.75zM585.9 431.2h.75v.75h-.75zM571.6 444.1h.75v.75h-.75zM570.1 442.4h.75v.75h-.75zM567.1 459.7h.75v.75h-.75zM578.0 449.0h.75v.75h-.75zM568.9 438.2h.75v.75h-.75zM564.9 451.5h.75v.75h-.75zM567.0 466.6h.75v.75h-.75zM572.9 447.6h.75v.75h-.75zM566.0 442.8h.75v.75h-.75zM571.0 455.4h.75v.75h-.75zM582.3 436.4h.75v.75h-.75zM571.8 450.0h.75v.75h-.75zM575.1 445.2h.75v.75h-.75zM579.0 438.8h.75v.75h-.75zM559.0 467.9h.75v.75h-.75zM586.1 423.6h.75v.75h-.75zM589.2 448.6h.75v.75h-.75zM561.7 452.7h.75v.75h-.75zM576.0 447.7h.75v.75h-.75zM581.6 440.9h.75v.75h-.75zM575.9 459.2h.75v.75h-.75zM582.3 444.8h.75v.75h-.75zM576.0 409.3h.75v.75h-.75zM576.3 447.3h.75v.75h-.75zM583.4 438.3h.75v.75h-.75zM578.8 447.1h.75v.75h-.75zM583.1 446.1h.75v.75h-.75zM573.2 437.1h.75v.75h-.75zM575.1 439.5h.75v.75h-.75zM575.0 440.1h.75v.75h-.75zM579.7 442.2h.75v.75h-.75zM572.3 431.3h.75v.75h-.75zM577.8 426.0h.75v.75h-.75zM568.4 416.0h.75v.75h-.75zM564.5 424.2h.75v.75h-.75zM563.0 417.5h.75v.75h-.75zM567.3 424.4h.75v.75h-.75zM574.8 423.0h.75v.75h-.75zM564.8 417.4h.75v.75h-.75zM571.5 422.6h.75v.75h-.75zM565.1 424.2h.75v.75h-.75zM564.9 427.3h.75v.75h-.75zM569.6 419.4h.75v.75h-.75zM570.9 428.2h.75v.75h-.75zM573.4 424.3h.75v.75h-.75zM570.4 420.7h.75v.75h-.75zM563.1 424.9h.75v.75h-.75zM563.5 421.4h.75v.75h-.75zM554.3 423.3h.75v.75h-.75zM559.5 427.5h.75v.75h-.75zM562.7 428.2h.75v.75h-.75zM576.4 427.0h.75v.75h-.75zM565.1 418.9h.75v.75h-.75zM576.3 421.9h.75v.75h-.75zM563.6 424.9h.75v.75h-.75zM572.3 423.8h.75v.75h-.75zM570.0 423.8h.75v.75h-.75zM569.3 421.3h.75v.75h-.75zM563.5 417.9h.75v.75h-.75zM569.0 420.0h.75v.75h-.75zM577.4 413.4h.75v.75h-.75zM569.1 423.1h.75v.75h-.75zM561.9 426.4h.75v.75h-.75zM561.3 419.7h.75v.75h-.75zM568.3 427.7h.75v.75h-.75zM564.6 424.5h.75v.75h-.75zM565.9 419.8h.75v.75h-.75zM566.0 424.4h.75v.75h-.75zM577.5 425.4h.75v.75h-.75zM570.8 424.2h.75v.75h-.75zM564.8 421.9h.75v.75h-.75zM563.3 424.3h.75v.75h-.75zM566.9 422.6h.75v.75h-.75zM583.4 426.3h.75v.75h-.75zM567.1 420.7h.75v.75h-.75zM551.9 423.5h.75v.75h-.75zM566.5 421.5h.75v.75h-.75zM571.9 425.9h.75v.75h-.75zM563.7 429.1h.75v.75h-.75zM569.9 419.5h.75v.75h-.75zM583.2 421.7h.75v.75h-.75zM576.7 419.8h.75v.75h-.75zM575.7 423.5h.75v.75h-.75zM560.1 426.6h.75v.75h-.75zM566.8 430.1h.75v.75h-.75zM568.1 422.1h.75v.75h-.75zM568.8 426.5h.75v.75h-.75zM582.1 424.2h.75v.75h-.75zM579.4 424.7h.75v.75h-.75zM567.5 420.5h.75v.75h-.75zM572.8 419.4h.75v.75h-.75zM562.3 424.4h.75v.75h-.75zM575.3 426.0h.75v.75h-.75zM556.3 421.9h.75v.75h-.75zM576.0 426.5h.75v.75h-.75zM561.4 421.2h.75v.75h-.75zM581.2 427.0h.75v.75h-.75zM577.3 426.0h.75v.75h-.75zM566.9 423.5h.75v.75h-.75zM566.8 423.0h.75v.75h-.75zM561.1 426.9h.75v.75h-.75zM562.2 427.0h.75v.75h-.75zM562.0 424.6h.75v.75h-.75zM563.0 421.4h.75v.75h-.75zM572.9 429.3h.75v.75h-.75zM565.2 427.7h.75v.75h-.75zM574.3 418.2h.75v.75h-.75zM566.2 421.9h.75v.75h-.75zM569.8 426.0h.75v.75h-.75zM571.2 426.1h.75v.75h-.75zM569.3 419.0h.75v.75h-.75zM561.0 423.0h.75v.75h-.75zM575.4 423.2h.75v.75h-.75zM560.5 432.1h.75v.75h-.75zM572.2 422.6h.75v.75h-.75zM571.4 424.4h.75v.75h-.75zM566.6 421.6h.75v.75h-.75zM568.6 426.9h.75v.75h-.75zM570.9 422.8h.75v.75h-.75zM582.8 425.4h.75v.75h-.75zM570.5 415.9h.75v.75h-.75zM564.3 425.8h.75v.75h-.75zM576.3 426.5h.75v.75h-.75zM577.9 426.9h.75v.75h-.75zM569.9 417.2h.75v.75h-.75zM576.3 422.9h.75v.75h-.75zM579.3 427.7h.75v.75h-.75zM554.9 424.3h.75v.75h-.75zM574.6 423.6h.75v.75h-.75zM565.9 423.1h.75v.75h-.75zM563.9 422.8h.75v.75h-.75zM566.0 423.5h.75v.75h-.75zM568.4 424.1h.75v.75h-.75zM562.2 425.5h.75v.75h-.75zM565.7 421.2h.75v.75h-.75zM560.3 421.1h.75v.75h-.75zM570.3 424.6h.75v.75h-.75zM570.9 428.2h.75v.75h-.75zM565.2 425.4h.75v.75h-.75zM567.9 430.8h.75v.75h-.75zM579.4 415.7h.75v.75h-.75zM561.7 423.5h.75v.75h-.75zM577.5 424.3h.75v.75h-.75zM576.6 420.1h.75v.75h-.75zM572.4 422.6h.75v.75h-.75zM576.4 425.9h.75v.75h-.75zM557.6 429.5h.75v.75h-.75zM580.4 420.4h.75v.75h-.75zM562.9 429.7h.75v.75h-.75zM578.8 426.5h.75v.75h-.75zM578.9 428.9h.75v.75h-.75zM566.3 426.5h.75v.75h-.75zM575.0 423.4h.75v.75h-.75zM574.3 433.8h.75v.75h-.75zM572.1 421.1h.75v.75h-.75zM570.6 426.4h.75v.75h-.75zM573.2 421.1h.75v.75h-.75zM560.1 426.3h.75v.75h-.75zM558.2 422.4h.75v.75h-.75zM578.5 427.8h.75v.75h-.75zM561.0 433.3h.75v.75h-.75zM561.9 427.5h.75v.75h-.75zM572.9 427.9h.75v.75h-.75zM566.7 420.5h.75v.75h-.75zM567.1 420.1h.75v.75h-.75zM568.8 417.7h.75v.75h-.75zM580.0 421.1h.75v.75h-.75zM573.3 420.5h.75v.75h-.75zM569.9 426.8h.75v.75h-.75zM584.4 428.8h.75v.75h-.75zM572.5 421.7h.75v.75h-.75zM570.4 423.4h.75v.75h-.75zM575.9 419.0h.75v.75h-.75zM567.2 422.9h.75v.75h-.75zM560.9 426.5h.75v.75h-.75zM563.8 427.4h.75v.75h-.75zM566.8 421.2h.75v.75h-.75zM580.6 428.3h.75v.75h-.75zM577.7 426.2h.75v.75h-.75zM554.4 425.3h.75v.75h-.75zM559.5 427.7h.75v.75h-.75zM568.7 421.9h.75v.75h-.75zM570.0 420.2h.75v.75h-.75zM569.3 426.6h.75v.75h-.75zM565.9 430.1h.75v.75h-.75zM576.6 430.3h.75v.75h-.75zM570.9 409.9h.75v.75h-.75zM562.1 425.0h.75v.75h-.75zM569.1 422.1h.75v.75h-.75zM574.3 417.7h.75v.75h-.75zM575.3 423.9h.75v.75h-.75zM567.5 423.9h.75v.75h-.75zM562.7 427.1h.75v.75h-.75zM583.0 415.8h.75v.75h-.75zM567.1 419.0h.75v.75h-.75zM571.1 422.2h.75v.75h-.75zM565.0 430.6h.75v.75h-.75zM586.2 431.2h.75v.75h-.75zM580.3 428.1h.75v.75h-.75zM565.6 428.7h.75v.75h-.75zM574.5 422.7h.75v.75h-.75zM567.3 424.6h.75v.75h-.75zM574.0 425.6h.75v.75h-.75zM572.0 423.9h.75v.75h-.75zM572.5 420.9h.75v.75h-.75zM581.2 427.9h.75v.75h-.75zM561.7 429.6h.75v.75h-.75zM571.3 417.6h.75v.75h-.75zM561.8 423.8h.75v.75h-.75zM573.8 432.8h.75v.75h-.75zM561.9 421.1h.75v.75h-.75zM581.0 417.9h.75v.75h-.75zM580.1 427.5h.75v.75h-.75zM569.7 439.1h.75v.75h-.75zM606.5 408.3h.75v.75h-.75zM601.6 416.4h.75v.75h-.75zM589.9 411.3h.75v.75h-.75zM615.8 404.2h.75v.75h-.75zM571.0 433.1h.75v.75h-.75zM588.6 412.2h.75v.75h-.75zM591.9 413.0h.75v.75h-.75zM582.4 408.4h.75v.75h-.75zM590.2 412.1h.75v.75h-.75zM591.1 424.9h.75v.75h-.75zM582.9 429.6h.75v.75h-.75zM598.9 420.0h.75v.75h-.75zM605.7 403.5h.75v.75h-.75zM580.3 421.6h.75v.75h-.75zM584.6 427.7h.75v.75h-.75zM578.6 428.9h.75v.75h-.75zM562.6 433.3h.75v.75h-.75zM579.9 431.3h.75v.75h-.75zM585.3 413.7h.75v.75h-.75zM602.9 416.1h.75v.75h-.75zM579.5 427.6h.75v.75h-.75zM579.8 416.2h.75v.75h-.75zM601.6 409.7h.75v.75h-.75zM581.5 433.3h.75v.75h-.75zM593.7 421.3h.75v.75h-.75zM580.4 414.4h.75v.75h-.75zM556.2 433.3h.75v.75h-.75zM576.0 424.3h.75v.75h-.75zM574.3 424.6h.75v.75h-.75zM591.0 425.6h.75v.75h-.75zM586.9 427.3h.75v.75h-.75zM621.0 416.0h.75v.75h-.75zM575.4 417.7h.75v.75h-.75zM582.7 429.4h.75v.75h-.75zM588.0 413.1h.75v.75h-.75zM618.0 413.9h.75v.75h-.75zM575.3 431.5h.75v.75h-.75zM610.8 422.3h.75v.75h-.75zM575.6 432.4h.75v.75h-.75zM581.8 422.4h.75v.75h-.75zM606.4 415.3h.75v.75h-.75zM577.1 431.9h.75v.75h-.75zM575.8 413.2h.75v.75h-.75zM586.2 413.3h.75v.75h-.75zM597.0 417.8h.75v.75h-.75zM575.6 430.3h.75v.75h-.75zM592.2 423.5h.75v.75h-.75zM578.2 416.5h.75v.75h-.75zM570.5 437.5h.75v.75h-.75zM589.0 419.7h.75v.75h-.75zM608.5 415.2h.75v.75h-.75zM598.9 418.9h.75v.75h-.75zM577.2 420.6h.75v.75h-.75zM575.1 418.3h.75v.75h-.75zM592.5 432.6h.75v.75h-.75zM595.1 417.8h.75v.75h-.75zM575.2 439.0h.75v.75h-.75zM603.1 405.0h.75v.75h-.75zM586.0 416.0h.75v.75h-.75zM594.6 411.0h.75v.75h-.75zM598.9 422.9h.75v.75h-.75zM601.6 413.4h.75v.75h-.75zM592.5 411.3h.75v.75h-.75zM586.3 427.1h.75v.75h-.75zM578.7 416.7h.75v.75h-.75zM588.7 407.1h.75v.75h-.75zM606.4 405.3h.75v.75h-.75zM578.1 416.9h.75v.75h-.75zM575.6 418.0h.75v.75h-.75zM566.6 424.8h.75v.75h-.75zM592.4 406.3h.75v.75h-.75zM584.0 421.0h.75v.75h-.75zM574.1 419.6h.75v.75h-.75zM594.9 418.9h.75v.75h-.75zM590.6 420.9h.75v.75h-.75zM587.4 420.2h.75v.75h-.75zM575.8 420.5h.75v.75h-.75zM590.3 416.5h.75v.75h-.75zM570.4 422.6h.75v.75h-.75zM582.3 420.6h.75v.75h-.75zM595.8 422.5h.75v.75h-.75zM591.3 426.2h.75v.75h-.75zM579.0 433.8h.75v.75h-.75zM580.9 424.0h.75v.75h-.75zM581.6 430.6h.75v.75h-.75zM577.0 412.5h.75v.75h-.75zM582.3 433.6h.75v.75h-.75zM579.8 430.8h.75v.75h-.75zM577.3 418.1h.75v.75h-.75zM589.3 420.1h.75v.75h-.75zM569.2 430.6h.75v.75h-.75zM573.9 423.0h.75v.75h-.75zM576.4 420.6h.75v.75h-.75zM579.5 419.1h.75v.75h-.75zM566.7 428.8h.75v.75h-.75zM597.9 412.1h.75v.75h-.75zM607.2 403.4h.75v.75h-.75zM616.2 410.1h.75v.75h-.75zM572.1 431.2h.75v.75h-.75zM585.5 422.8h.75v.75h-.75zM580.6 426.9h.75v.75h-.75zM585.0 435.6h.75v.75h-.75zM597.4 420.5h.75v.75h-.75zM585.8 419.9h.75v.75h-.75zM571.5 422.2h.75v.75h-.75zM588.3 421.9h.75v.75h-.75zM611.3 417.1h.75v.75h-.75zM591.1 412.6h.75v.75h-.75zM608.3 414.7h.75v.75h-.75zM589.8 413.3h.75v.75h-.75zM595.3 404.7h.75v.75h-.75zM610.5 405.7h.75v.75h-.75zM576.1 436.3h.75v.75h-.75zM608.4 411.0h.75v.75h-.75zM606.6 402.3h.75v.75h-.75zM585.8 423.5h.75v.75h-.75zM600.3 418.5h.75v.75h-.75zM587.1 423.4h.75v.75h-.75zM595.5 407.5h.75v.75h-.75zM590.9 425.2h.75v.75h-.75zM579.6 418.3h.75v.75h-.75zM609.3 424.7h.75v.75h-.75zM608.2 398.1h.75v.75h-.75zM591.0 411.7h.75v.75h-.75zM600.5 411.6h.75v.75h-.75zM598.9 405.4h.75v.75h-.75zM587.1 418.9h.75v.75h-.75zM609.1 401.9h.75v.75h-.75zM598.0 406.8h.75v.75h-.75zM573.4 429.6h.75v.75h-.75zM561.8 418.1h.75v.75h-.75zM582.4 427.9h.75v.75h-.75zM592.0 417.2h.75v.75h-.75zM587.9 406.7h.75v.75h-.75zM585.4 426.5h.75v.75h-.75zM578.7 434.2h.75v.75h-.75zM583.4 419.0h.75v.75h-.75zM599.9 426.4h.75v.75h-.75zM597.3 417.9h.75v.75h-.75zM583.9 423.3h.75v.75h-.75zM581.1 430.3h.75v.75h-.75zM597.3 408.4h.75v.75h-.75zM579.2 428.2h.75v.75h-.75zM592.5 413.6h.75v.75h-.75zM591.7 419.0h.75v.75h-.75zM578.2 425.3h.75v.75h-.75zM585.5 411.3h.75v.75h-.75zM588.9 419.3h.75v.75h-.75zM578.9 418.2h.75v.75h-.75zM571.3 428.0h.75v.75h-.75zM585.7 421.1h.75v.75h-.75zM584.3 412.3h.75v.75h-.75zM595.5 409.4h.75v.75h-.75zM588.0 431.8h.75v.75h-.75zM592.2 430.6h.75v.75h-.75zM561.3 430.7h.75v.75h-.75zM573.7 429.0h.75v.75h-.75zM591.1 421.9h.75v.75h-.75zM594.6 408.4h.75v.75h-.75zM570.7 435.3h.75v.75h-.75zM584.6 422.2h.75v.75h-.75zM602.1 411.6h.75v.75h-.75zM573.9 435.4h.75v.75h-.75zM568.8 430.5h.75v.75h-.75zM585.3 410.1h.75v.75h-.75zM604.7 408.4h.75v.75h-.75zM590.6 414.0h.75v.75h-.75zM593.9 410.2h.75v.75h-.75zM599.5 409.1h.75v.75h-.75zM583.0 416.7h.75v.75h-.75zM588.2 414.8h.75v.75h-.75zM577.8 436.9h.75v.75h-.75zM590.4 420.0h.75v.75h-.75zM589.1 425.6h.75v.75h-.75zM590.6 426.2h.75v.75h-.75zM583.9 433.7h.75v.75h-.75zM595.5 418.0h.75v.75h-.75zM572.8 428.6h.75v.75h-.75zM577.0 429.6h.75v.75h-.75zM555.2 439.4h.75v.75h-.75zM563.4 458.3h.75v.75h-.75zM589.5 441.9h.75v.75h-.75zM582.0 430.8h.75v.75h-.75zM569.6 459.6h.75v.75h-.75zM564.0 436.8h.75v.75h-.75zM577.9 452.6h.75v.75h-.75zM548.1 463.2h.75v.75h-.75zM557.9 466.0h.75v.75h-.75zM596.2 431.1h.75v.75h-.75zM577.8 427.1h.75v.75h-.75zM574.5 427.2h.75v.75h-.75zM562.7 442.8h.75v.75h-.75zM569.8 455.2h.75v.75h-.75zM559.7 422.9h.75v.75h-.75zM577.8 433.7h.75v.75h-.75zM576.8 435.7h.75v.75h-.75zM571.2 431.6h.75v.75h-.75zM593.9 447.2h.75v.75h-.75zM581.4 464.8h.75v.75h-.75zM552.0 434.0h.75v.75h-.75zM582.3 432.0h.75v.75h-.75zM599.1 429.2h.75v.75h-.75zM572.6 436.3h.75v.75h-.75zM589.6 450.1h.75v.75h-.75zM577.9 432.5h.75v.75h-.75zM562.1 457.5h.75v.75h-.75zM564.3 438.4h.75v.75h-.75zM566.3 424.6h.75v.75h-.75zM553.0 435.9h.75v.75h-.75zM571.4 447.2h.75v.75h-.75zM561.0 437.8h.75v.75h-.75zM595.3 424.1h.75v.75h-.75zM573.2 445.3h.75v.75h-.75zM556.2 427.3h.75v.75h-.75zM554.0 433.1h.75v.75h-.75zM589.6 449.9h.75v.75h-.75zM571.1 450.2h.75v.75h-.75zM554.6 445.5h.75v.75h-.75zM563.7 429.4h.75v.75h-.75zM575.0 460.7h.75v.75h-.75zM572.9 434.5h.75v.75h-.75zM578.0 429.5h.75v.75h-.75zM565.1 426.8h.75v.75h-.75zM544.2 436.6h.75v.75h-.75zM580.1 452.5h.75v.75h-.75zM578.5 423.6h.75v.75h-.75zM570.7 443.6h.75v.75h-.75zM585.3 425.1h.75v.75h-.75zM573.3 438.5h.75v.75h-.75zM576.1 453.2h.75v.75h-.75zM603.0 452.9h.75v.75h-.75zM556.4 428.7h.75v.75h-.75zM585.7 442.5h.75v.75h-.75zM586.6 446.2h.75v.75h-.75zM563.8 431.4h.75v.75h-.75zM611.1 432.9h.75v.75h-.75zM550.3 439.1h.75v.75h-.75zM579.3 444.0h.75v.75h-.75zM557.7 441.6h.75v.75h-.75zM573.3 432.3h.75v.75h-.75zM567.8 436.7h.75v.75h-.75zM579.4 455.5h.75v.75h-.75zM572.2 446.7h.75v.75h-.75zM565.4 407.2h.75v.75h-.75zM566.9 437.4h.75v.75h-.75zM560.3 454.0h.75v.75h-.75zM575.8 440.2h.75v.75h-.75zM587.6 430.8h.75v.75h-.75zM569.7 442.0h.75v.75h-.75zM569.2 458.7h.75v.75h-.75zM574.2 445.5h.75v.75h-.75zM547.7 429.6h.75v.75h-.75zM546.0 426.6h.75v.75h-.75zM567.1 421.4h.75v.75h-.75zM585.8 444.9h.75v.75h-.75zM591.4 456.5h.75v.75h-.75zM587.6 447.2h.75v.75h-.75zM573.7 460.2h.75v.75h-.75zM566.5 435.0h.75v.75h-.75zM573.0 465.6h.75v.75h-.75zM564.4 421.9h.75v.75h-.75zM572.1 455.6h.75v.75h-.75zM578.2 438.3h.75v.75h-.75zM568.6 437.2h.75v.75h-.75zM548.7 427.5h.75v.75h-.75zM593.0 434.1h.75v.75h-.75zM605.7 450.8h.75v.75h-.75zM560.8 429.9h.75v.75h-.75zM557.9 444.6h.75v.75h-.75zM588.9 430.4h.75v.75h-.75zM551.7 415.1h.75v.75h-.75zM558.6 449.2h.75v.75h-.75zM579.8 431.4h.75v.75h-.75zM606.5 439.3h.75v.75h-.75zM587.7 461.6h.75v.75h-.75zM554.5 461.8h.75v.75h-.75zM601.8 428.4h.75v.75h-.75zM560.6 440.4h.75v.75h-.75zM581.0 454.8h.75v.75h-.75zM551.2 436.6h.75v.75h-.75zM579.9 420.4h.75v.75h-.75zM578.5 456.7h.75v.75h-.75zM554.0 449.5h.75v.75h-.75zM585.5 433.9h.75v.75h-.75zM582.2 425.4h.75v.75h-.75zM560.2 430.4h.75v.75h-.75zM571.5 434.2h.75v.75h-.75zM578.7 434.8h.75v.75h-.75zM558.3 426.7h.75v.75h-.75zM548.2 430.1h.75v.75h-.75zM572.5 450.6h.75v.75h-.75zM572.1 436.5h.75v.75h-.75zM579.1 440.6h.75v.75h-.75zM561.0 441.2h.75v.75h-.75z" fill="#e62630" fill-opacity="0.7"/>
<line x1="573.70" y1="378.00" x2="573.70" y2="469.70" stroke="#444" stroke-width="0.7"/>
<line x1="537.00" y1="428.60" x2="628.30" y2="428.60" stroke="#444" stroke-width="0.7"/>
<text x="538.50" y="382.20" font-size="3.0" text-anchor="start" font-family='"Liberation Sans", sans-serif' fill="#666" color="#666">Q1-UL(2.94%)</text>
<text x="626.80" y="382.20" font-size="3.0" text-anchor="end" font-family='"Liberation Sans", sans-serif' fill="#666" color="#666">Q1-UR(2.64%)</text>
<text x="538.50" y="467.20" font-size="3.0" text-anchor="start" font-family='"Liberation Sans", sans-serif' fill="#666" color="#666">Q1-LL(91.74%)</text>
<text x="626.80" y="467.20" font-size="3.0" text-anchor="end" font-family='"Liberation Sans", sans-serif' fill="#666" color="#666">Q1-LR(3.48%)</text>
<text x="533.00" y="387.00" font-size="3.6" text-anchor="middle" font-family='"Liberation Sans", sans-serif' fill="#777" color="#777" transform="rotate(-90 533.00 387.00)">10⁵</text>
<text x="533.00" y="417.60" font-size="3.6" text-anchor="middle" font-family='"Liberation Sans", sans-serif' fill="#777" color="#777" transform="rotate(-90 533.00 417.60)">10⁴</text>
<text x="533.00" y="452.70" font-size="3.6" text-anchor="middle" font-family='"Liberation Sans", sans-serif' fill="#777" color="#777" transform="rotate(-90 533.00 452.70)">0</text>
<text x="552.41" y="473.90" font-size="3.6" text-anchor="middle" font-family='"Liberation Sans", sans-serif' fill="#777" color="#777">0</text>
<text x="575.70" y="473.90" font-size="3.6" text-anchor="middle" font-family='"Liberation Sans", sans-serif' fill="#777" color="#777">10³</text>
<text x="618.30" y="473.90" font-size="3.6" text-anchor="middle" font-family='"Liberation Sans", sans-serif' fill="#777" color="#777">10⁵</text>
</svg></body></html>
